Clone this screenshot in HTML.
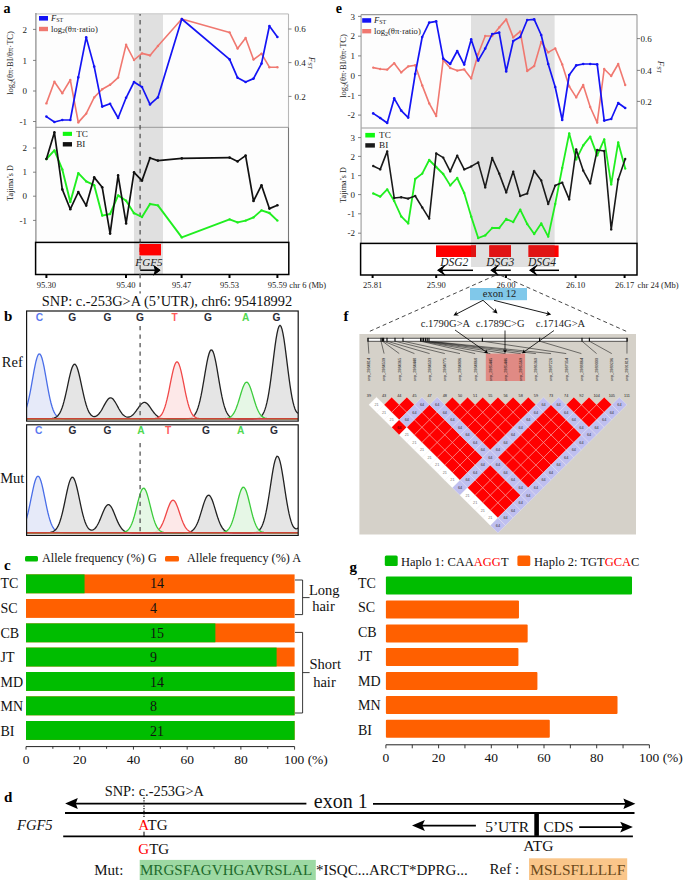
<!DOCTYPE html>
<html><head><meta charset="utf-8"><style>
html,body{margin:0;padding:0;background:#fff;width:685px;height:880px;overflow:hidden}
svg{display:block}
</style></head><body>
<svg width="685" height="880" viewBox="0 0 685 880">
<rect width="685" height="880" fill="#fff"/>
<text x="3.6" y="12.7" font-size="14" text-anchor="start" fill="#000" font-family='"Liberation Serif", serif' font-weight="bold" font-style="normal" >a</text>
<rect x="35.9" y="14" width="252.6" height="228.4" fill="#fdfdfd" stroke="none" stroke-width="1" />
<rect x="134" y="14" width="29" height="260.5" fill="#e0e0e0" stroke="none" stroke-width="1" />
<line x1="35.9" y1="13.8" x2="288.5" y2="13.8" stroke="#d6d6d6" stroke-width="1.8" />
<line x1="288.5" y1="14" x2="288.5" y2="127.3" stroke="#b8b8b8" stroke-width="1.1" />
<line x1="288.5" y1="127.3" x2="288.5" y2="242.4" stroke="#777" stroke-width="1.1" />
<line x1="35.9" y1="127.3" x2="288.5" y2="127.3" stroke="#999" stroke-width="1" />
<line x1="35.9" y1="13" x2="35.9" y2="242.4" stroke="#888" stroke-width="1.2" />
<line x1="140.1" y1="14" x2="140.1" y2="242.4" stroke="#555" stroke-width="1.3" stroke-dasharray="4.4,4.35" stroke-dashoffset="2.65"/>
<polyline points="46.4,103.4 54.4,81.8 62.3,93.2 70.3,80.0 78.3,122.4 86.2,113.6 94.2,97.4 102.2,89.2 110.1,84.8 118.1,77.6 126.1,44.8 134.0,60.0 142.0,53.4 150.0,55.4 157.9,46.0 181.8,19.0 229.6,32.4 237.6,48.6 245.6,38.0 253.5,59.6 261.5,53.6 269.4,67.2 277.4,67.2" fill="none" stroke="#f07870" stroke-width="1.6" stroke-linejoin="round" />
<circle cx="46.4" cy="103.4" r="1.2" fill="#f07870"/>
<circle cx="54.4" cy="81.8" r="1.2" fill="#f07870"/>
<circle cx="62.3" cy="93.2" r="1.2" fill="#f07870"/>
<circle cx="70.3" cy="80.0" r="1.2" fill="#f07870"/>
<circle cx="78.3" cy="122.4" r="1.2" fill="#f07870"/>
<circle cx="86.2" cy="113.6" r="1.2" fill="#f07870"/>
<circle cx="94.2" cy="97.4" r="1.2" fill="#f07870"/>
<circle cx="102.2" cy="89.2" r="1.2" fill="#f07870"/>
<circle cx="110.1" cy="84.8" r="1.2" fill="#f07870"/>
<circle cx="118.1" cy="77.6" r="1.2" fill="#f07870"/>
<circle cx="126.1" cy="44.8" r="1.2" fill="#f07870"/>
<circle cx="134.0" cy="60.0" r="1.2" fill="#f07870"/>
<circle cx="142.0" cy="53.4" r="1.2" fill="#f07870"/>
<circle cx="150.0" cy="55.4" r="1.2" fill="#f07870"/>
<circle cx="157.9" cy="46.0" r="1.2" fill="#f07870"/>
<circle cx="181.8" cy="19.0" r="1.2" fill="#f07870"/>
<circle cx="229.6" cy="32.4" r="1.2" fill="#f07870"/>
<circle cx="237.6" cy="48.6" r="1.2" fill="#f07870"/>
<circle cx="245.6" cy="38.0" r="1.2" fill="#f07870"/>
<circle cx="253.5" cy="59.6" r="1.2" fill="#f07870"/>
<circle cx="261.5" cy="53.6" r="1.2" fill="#f07870"/>
<circle cx="269.4" cy="67.2" r="1.2" fill="#f07870"/>
<circle cx="277.4" cy="67.2" r="1.2" fill="#f07870"/>
<polyline points="46.4,116.6 54.4,122.0 62.3,120.0 70.3,120.0 78.3,77.4 86.2,37.4 94.2,66.6 102.2,106.6 110.1,103.8 118.1,118.0 126.1,97.8 134.0,82.0 142.0,87.0 150.0,104.4 157.9,97.4 181.8,19.0 229.6,59.4 237.6,77.8 245.6,82.0 253.5,78.6 261.5,63.6 269.4,26.0 277.4,37.0" fill="none" stroke="#1414f5" stroke-width="1.7" stroke-linejoin="round" />
<circle cx="46.4" cy="116.6" r="1.3" fill="#1414f5"/>
<circle cx="54.4" cy="122.0" r="1.3" fill="#1414f5"/>
<circle cx="62.3" cy="120.0" r="1.3" fill="#1414f5"/>
<circle cx="70.3" cy="120.0" r="1.3" fill="#1414f5"/>
<circle cx="78.3" cy="77.4" r="1.3" fill="#1414f5"/>
<circle cx="86.2" cy="37.4" r="1.3" fill="#1414f5"/>
<circle cx="94.2" cy="66.6" r="1.3" fill="#1414f5"/>
<circle cx="102.2" cy="106.6" r="1.3" fill="#1414f5"/>
<circle cx="110.1" cy="103.8" r="1.3" fill="#1414f5"/>
<circle cx="118.1" cy="118.0" r="1.3" fill="#1414f5"/>
<circle cx="126.1" cy="97.8" r="1.3" fill="#1414f5"/>
<circle cx="134.0" cy="82.0" r="1.3" fill="#1414f5"/>
<circle cx="142.0" cy="87.0" r="1.3" fill="#1414f5"/>
<circle cx="150.0" cy="104.4" r="1.3" fill="#1414f5"/>
<circle cx="157.9" cy="97.4" r="1.3" fill="#1414f5"/>
<circle cx="181.8" cy="19.0" r="1.3" fill="#1414f5"/>
<circle cx="229.6" cy="59.4" r="1.3" fill="#1414f5"/>
<circle cx="237.6" cy="77.8" r="1.3" fill="#1414f5"/>
<circle cx="245.6" cy="82.0" r="1.3" fill="#1414f5"/>
<circle cx="253.5" cy="78.6" r="1.3" fill="#1414f5"/>
<circle cx="261.5" cy="63.6" r="1.3" fill="#1414f5"/>
<circle cx="269.4" cy="26.0" r="1.3" fill="#1414f5"/>
<circle cx="277.4" cy="37.0" r="1.3" fill="#1414f5"/>
<polyline points="46.4,159.0 54.4,150.4 62.3,169.4 70.3,202.0 78.3,173.2 86.2,181.4 94.2,185.2 102.2,215.6 110.1,214.0 118.1,195.4 126.1,200.8 134.0,213.2 142.0,217.0 150.0,204.0 157.9,205.4 181.8,237.4 229.6,219.4 237.6,222.4 245.6,220.6 253.5,217.4 261.5,210.4 269.4,213.0 277.4,220.6" fill="none" stroke="#20ee20" stroke-width="1.9" stroke-linejoin="round" />
<circle cx="46.4" cy="159.0" r="1.2" fill="#20ee20"/>
<circle cx="54.4" cy="150.4" r="1.2" fill="#20ee20"/>
<circle cx="62.3" cy="169.4" r="1.2" fill="#20ee20"/>
<circle cx="70.3" cy="202.0" r="1.2" fill="#20ee20"/>
<circle cx="78.3" cy="173.2" r="1.2" fill="#20ee20"/>
<circle cx="86.2" cy="181.4" r="1.2" fill="#20ee20"/>
<circle cx="94.2" cy="185.2" r="1.2" fill="#20ee20"/>
<circle cx="102.2" cy="215.6" r="1.2" fill="#20ee20"/>
<circle cx="110.1" cy="214.0" r="1.2" fill="#20ee20"/>
<circle cx="118.1" cy="195.4" r="1.2" fill="#20ee20"/>
<circle cx="126.1" cy="200.8" r="1.2" fill="#20ee20"/>
<circle cx="134.0" cy="213.2" r="1.2" fill="#20ee20"/>
<circle cx="142.0" cy="217.0" r="1.2" fill="#20ee20"/>
<circle cx="150.0" cy="204.0" r="1.2" fill="#20ee20"/>
<circle cx="157.9" cy="205.4" r="1.2" fill="#20ee20"/>
<circle cx="181.8" cy="237.4" r="1.2" fill="#20ee20"/>
<circle cx="229.6" cy="219.4" r="1.2" fill="#20ee20"/>
<circle cx="237.6" cy="222.4" r="1.2" fill="#20ee20"/>
<circle cx="245.6" cy="220.6" r="1.2" fill="#20ee20"/>
<circle cx="253.5" cy="217.4" r="1.2" fill="#20ee20"/>
<circle cx="261.5" cy="210.4" r="1.2" fill="#20ee20"/>
<circle cx="269.4" cy="213.0" r="1.2" fill="#20ee20"/>
<circle cx="277.4" cy="220.6" r="1.2" fill="#20ee20"/>
<polyline points="46.4,159.0 54.4,132.4 62.3,189.4 70.3,209.2 78.3,192.0 86.2,205.6 94.2,177.4 102.2,187.2 110.1,233.6 118.1,175.4 126.1,223.4 134.0,172.4 142.0,180.6 150.0,158.0 157.9,160.6 181.8,158.4 229.6,157.6 237.6,161.4 245.6,155.6 253.5,201.0 261.5,185.2 269.4,208.6 277.4,205.2" fill="none" stroke="#111" stroke-width="1.7" stroke-linejoin="round" />
<circle cx="46.4" cy="159.0" r="1.3" fill="#111"/>
<circle cx="54.4" cy="132.4" r="1.3" fill="#111"/>
<circle cx="62.3" cy="189.4" r="1.3" fill="#111"/>
<circle cx="70.3" cy="209.2" r="1.3" fill="#111"/>
<circle cx="78.3" cy="192.0" r="1.3" fill="#111"/>
<circle cx="86.2" cy="205.6" r="1.3" fill="#111"/>
<circle cx="94.2" cy="177.4" r="1.3" fill="#111"/>
<circle cx="102.2" cy="187.2" r="1.3" fill="#111"/>
<circle cx="110.1" cy="233.6" r="1.3" fill="#111"/>
<circle cx="118.1" cy="175.4" r="1.3" fill="#111"/>
<circle cx="126.1" cy="223.4" r="1.3" fill="#111"/>
<circle cx="134.0" cy="172.4" r="1.3" fill="#111"/>
<circle cx="142.0" cy="180.6" r="1.3" fill="#111"/>
<circle cx="150.0" cy="158.0" r="1.3" fill="#111"/>
<circle cx="157.9" cy="160.6" r="1.3" fill="#111"/>
<circle cx="181.8" cy="158.4" r="1.3" fill="#111"/>
<circle cx="229.6" cy="157.6" r="1.3" fill="#111"/>
<circle cx="237.6" cy="161.4" r="1.3" fill="#111"/>
<circle cx="245.6" cy="155.6" r="1.3" fill="#111"/>
<circle cx="253.5" cy="201.0" r="1.3" fill="#111"/>
<circle cx="261.5" cy="185.2" r="1.3" fill="#111"/>
<circle cx="269.4" cy="208.6" r="1.3" fill="#111"/>
<circle cx="277.4" cy="205.2" r="1.3" fill="#111"/>
<rect x="39" y="16" width="9" height="4.6" fill="#1414f5" stroke="none" stroke-width="1" />
<text x="51" y="20.8" font-size="8.6" font-family='"Liberation Serif", serif' fill="#222"><tspan font-style="italic">F</tspan><tspan font-size="6" dy="1">ST</tspan></text>
<rect x="39" y="26.8" width="9" height="4.4" fill="#f07870" stroke="none" stroke-width="1" />
<text x="51" y="31.8" font-size="8.6" font-family='"Liberation Serif", serif' fill="#222">log<tspan font-size="6" dy="1.5">2</tspan><tspan dy="-1.5">(θπ·ratio)</tspan></text>
<rect x="62.8" y="131.8" width="9.2" height="4.1" fill="#10f810" stroke="none" stroke-width="1" />
<text x="76.2" y="136.6" font-size="9.2" text-anchor="start" fill="#222" font-family='"Liberation Serif", serif' font-weight="normal" font-style="normal" >TC</text>
<rect x="62.8" y="142.1" width="9.2" height="4.4" fill="#111" stroke="none" stroke-width="1" />
<text x="76.2" y="146.7" font-size="9.2" text-anchor="start" fill="#222" font-family='"Liberation Serif", serif' font-weight="normal" font-style="normal" >BI</text>
<line x1="33" y1="29.4" x2="35.9" y2="29.4" stroke="#666" stroke-width="0.8" />
<text x="27" y="32.5" font-size="9" text-anchor="end" fill="#222" font-family='"Liberation Serif", serif' font-weight="normal" font-style="normal" >2</text>
<line x1="33" y1="60.4" x2="35.9" y2="60.4" stroke="#666" stroke-width="0.8" />
<text x="27" y="63.5" font-size="9" text-anchor="end" fill="#222" font-family='"Liberation Serif", serif' font-weight="normal" font-style="normal" >1</text>
<line x1="33" y1="91" x2="35.9" y2="91" stroke="#666" stroke-width="0.8" />
<text x="27" y="94.1" font-size="9" text-anchor="end" fill="#222" font-family='"Liberation Serif", serif' font-weight="normal" font-style="normal" >0</text>
<line x1="33" y1="121.5" x2="35.9" y2="121.5" stroke="#666" stroke-width="0.8" />
<text x="27" y="124.6" font-size="9" text-anchor="end" fill="#222" font-family='"Liberation Serif", serif' font-weight="normal" font-style="normal" >-1</text>
<line x1="33" y1="148" x2="35.9" y2="148" stroke="#666" stroke-width="0.8" />
<text x="27" y="151.1" font-size="9" text-anchor="end" fill="#222" font-family='"Liberation Serif", serif' font-weight="normal" font-style="normal" >2</text>
<line x1="33" y1="172.2" x2="35.9" y2="172.2" stroke="#666" stroke-width="0.8" />
<text x="27" y="175.29999999999998" font-size="9" text-anchor="end" fill="#222" font-family='"Liberation Serif", serif' font-weight="normal" font-style="normal" >1</text>
<line x1="33" y1="196.2" x2="35.9" y2="196.2" stroke="#666" stroke-width="0.8" />
<text x="27" y="199.29999999999998" font-size="9" text-anchor="end" fill="#222" font-family='"Liberation Serif", serif' font-weight="normal" font-style="normal" >0</text>
<line x1="33" y1="220.4" x2="35.9" y2="220.4" stroke="#666" stroke-width="0.8" />
<text x="27" y="223.5" font-size="9" text-anchor="end" fill="#222" font-family='"Liberation Serif", serif' font-weight="normal" font-style="normal" >-1</text>
<line x1="288.5" y1="29" x2="291.5" y2="29" stroke="#666" stroke-width="0.8" />
<text x="294.4" y="32.1" font-size="9" text-anchor="start" fill="#222" font-family='"Liberation Serif", serif' font-weight="normal" font-style="normal" >0.6</text>
<line x1="288.5" y1="62.6" x2="291.5" y2="62.6" stroke="#666" stroke-width="0.8" />
<text x="294.4" y="65.7" font-size="9" text-anchor="start" fill="#222" font-family='"Liberation Serif", serif' font-weight="normal" font-style="normal" >0.4</text>
<line x1="288.5" y1="96.4" x2="291.5" y2="96.4" stroke="#666" stroke-width="0.8" />
<text x="294.4" y="99.5" font-size="9" text-anchor="start" fill="#222" font-family='"Liberation Serif", serif' font-weight="normal" font-style="normal" >0.2</text>
<text transform="translate(13.2,63) rotate(-90)" font-size="8.5" text-anchor="middle" font-family='"Liberation Serif", serif' fill="#222">log<tspan font-size="6" dy="1.5">2</tspan><tspan dy="-1.5">(θπ·BI/θπ·TC)</tspan></text>
<text transform="translate(13.2,183) rotate(-90)" font-size="8.1" text-anchor="middle" font-family='"Liberation Serif", serif' fill="#222">Tajima’s D</text>
<text transform="translate(308.5,63) rotate(90)" font-size="9" text-anchor="middle" font-family='"Liberation Serif", serif' fill="#222"><tspan font-style="italic">F</tspan><tspan font-size="6" dy="1">ST</tspan></text>
<rect x="134" y="242.4" width="29" height="32.099999999999994" fill="#e0e0e0" stroke="none" stroke-width="1" />
<rect x="35.6" y="242.4" width="253.2" height="32.099999999999994" fill="none" stroke="#000" stroke-width="1.5" />
<line x1="140.1" y1="242.4" x2="140.1" y2="293.5" stroke="#555" stroke-width="1.3" stroke-dasharray="4.4,4.35" stroke-dashoffset="3.55"/>
<rect x="139.4" y="244" width="21.6" height="11.4" fill="#ff0000" stroke="none" stroke-width="1" />
<text x="149" y="265.6" font-size="11.2" text-anchor="middle" fill="#222" font-family='"Liberation Serif", serif' font-weight="normal" font-style="italic" >FGF5</text>
<line x1="140.2" y1="270.2" x2="155.44" y2="270.2" stroke="#000" stroke-width="1.5" />
<polygon points="160.6,270.2 153.4,275.5 154.8,270.2 153.4,264.9" fill="#000"/>
<polyline points="153.4,275.0 160.0,270.2 153.4,265.4" fill="none" stroke="#000" stroke-width="1.0" stroke-linejoin="miter"/>
<rect x="45.4" y="275" width="2" height="3" fill="#000" stroke="none" stroke-width="1" />
<text x="46.4" y="288" font-size="8.5" text-anchor="middle" fill="#222" font-family='"Liberation Serif", serif' font-weight="normal" font-style="normal" >95.30</text>
<rect x="125" y="275" width="2" height="3" fill="#000" stroke="none" stroke-width="1" />
<text x="126" y="288" font-size="8.5" text-anchor="middle" fill="#222" font-family='"Liberation Serif", serif' font-weight="normal" font-style="normal" >95.40</text>
<rect x="180.6" y="275" width="2" height="3" fill="#000" stroke="none" stroke-width="1" />
<text x="181.6" y="288" font-size="8.5" text-anchor="middle" fill="#222" font-family='"Liberation Serif", serif' font-weight="normal" font-style="normal" >95.47</text>
<rect x="228.5" y="275" width="2" height="3" fill="#000" stroke="none" stroke-width="1" />
<text x="229.5" y="288" font-size="8.5" text-anchor="middle" fill="#222" font-family='"Liberation Serif", serif' font-weight="normal" font-style="normal" >95.53</text>
<rect x="276.4" y="275" width="2" height="3" fill="#000" stroke="none" stroke-width="1" />
<text x="277.4" y="288" font-size="8.5" text-anchor="middle" fill="#222" font-family='"Liberation Serif", serif' font-weight="normal" font-style="normal" >95.59</text>
<text x="289.3" y="288" font-size="8.5" text-anchor="start" fill="#222" font-family='"Liberation Serif", serif' font-weight="normal" font-style="normal" >chr 6 (Mb)</text>
<text x="335.8" y="13" font-size="14" text-anchor="start" fill="#000" font-family='"Liberation Serif", serif' font-weight="bold" font-style="normal" >e</text>
<rect x="361" y="14.6" width="276" height="228.8" fill="#fdfdfd" stroke="none" stroke-width="1" />
<rect x="471" y="14.6" width="83.6" height="252.4" fill="#e0e0e0" stroke="none" stroke-width="1" />
<line x1="361" y1="14.6" x2="637" y2="14.6" stroke="#999" stroke-width="1.1" />
<line x1="637" y1="14.6" x2="637" y2="243.4" stroke="#999" stroke-width="1.1" />
<line x1="361" y1="128" x2="637" y2="128" stroke="#999" stroke-width="1.1" />
<line x1="361.1" y1="14.6" x2="361.1" y2="243.4" stroke="#aaa" stroke-width="1.3" />
<polyline points="373.2,67.6 380.2,69.0 387.2,69.6 394.2,63.2 401.2,72.4 408.2,66.4 415.2,65.2 422.2,85.4 429.2,103.4 436.2,116.0 443.2,60.0 450.2,68.0 457.2,70.6 464.2,69.4 471.2,78.4 478.2,54.0 485.2,36.0 492.2,36.0 499.2,27.4 506.2,19.4 513.2,37.4 520.2,31.4 527.2,71.0 534.2,66.0 541.2,42.0 548.2,52.4 555.2,48.4 562.2,64.4 569.2,86.4 576.2,97.4 583.2,85.0 590.2,107.0 597.2,122.6 604.2,69.0 611.2,76.0 618.2,64.0 625.2,85.0" fill="none" stroke="#f07870" stroke-width="1.6" stroke-linejoin="round" />
<circle cx="373.2" cy="67.6" r="1.2" fill="#f07870"/>
<circle cx="380.2" cy="69.0" r="1.2" fill="#f07870"/>
<circle cx="387.2" cy="69.6" r="1.2" fill="#f07870"/>
<circle cx="394.2" cy="63.2" r="1.2" fill="#f07870"/>
<circle cx="401.2" cy="72.4" r="1.2" fill="#f07870"/>
<circle cx="408.2" cy="66.4" r="1.2" fill="#f07870"/>
<circle cx="415.2" cy="65.2" r="1.2" fill="#f07870"/>
<circle cx="422.2" cy="85.4" r="1.2" fill="#f07870"/>
<circle cx="429.2" cy="103.4" r="1.2" fill="#f07870"/>
<circle cx="436.2" cy="116.0" r="1.2" fill="#f07870"/>
<circle cx="443.2" cy="60.0" r="1.2" fill="#f07870"/>
<circle cx="450.2" cy="68.0" r="1.2" fill="#f07870"/>
<circle cx="457.2" cy="70.6" r="1.2" fill="#f07870"/>
<circle cx="464.2" cy="69.4" r="1.2" fill="#f07870"/>
<circle cx="471.2" cy="78.4" r="1.2" fill="#f07870"/>
<circle cx="478.2" cy="54.0" r="1.2" fill="#f07870"/>
<circle cx="485.2" cy="36.0" r="1.2" fill="#f07870"/>
<circle cx="492.2" cy="36.0" r="1.2" fill="#f07870"/>
<circle cx="499.2" cy="27.4" r="1.2" fill="#f07870"/>
<circle cx="506.2" cy="19.4" r="1.2" fill="#f07870"/>
<circle cx="513.2" cy="37.4" r="1.2" fill="#f07870"/>
<circle cx="520.2" cy="31.4" r="1.2" fill="#f07870"/>
<circle cx="527.2" cy="71.0" r="1.2" fill="#f07870"/>
<circle cx="534.2" cy="66.0" r="1.2" fill="#f07870"/>
<circle cx="541.2" cy="42.0" r="1.2" fill="#f07870"/>
<circle cx="548.2" cy="52.4" r="1.2" fill="#f07870"/>
<circle cx="555.2" cy="48.4" r="1.2" fill="#f07870"/>
<circle cx="562.2" cy="64.4" r="1.2" fill="#f07870"/>
<circle cx="569.2" cy="86.4" r="1.2" fill="#f07870"/>
<circle cx="576.2" cy="97.4" r="1.2" fill="#f07870"/>
<circle cx="583.2" cy="85.0" r="1.2" fill="#f07870"/>
<circle cx="590.2" cy="107.0" r="1.2" fill="#f07870"/>
<circle cx="597.2" cy="122.6" r="1.2" fill="#f07870"/>
<circle cx="604.2" cy="69.0" r="1.2" fill="#f07870"/>
<circle cx="611.2" cy="76.0" r="1.2" fill="#f07870"/>
<circle cx="618.2" cy="64.0" r="1.2" fill="#f07870"/>
<circle cx="625.2" cy="85.0" r="1.2" fill="#f07870"/>
<polyline points="373.2,113.4 380.2,118.0 387.2,123.0 394.2,98.4 401.2,110.6 408.2,117.6 415.2,74.0 422.2,37.0 429.2,22.6 436.2,21.4 443.2,58.6 450.2,64.0 457.2,51.0 464.2,64.6 471.2,39.4 478.2,60.6 485.2,48.6 492.2,34.0 499.2,32.6 506.2,71.4 513.2,41.0 520.2,37.0 527.2,20.0 534.2,19.4 541.2,35.0 548.2,64.0 555.2,87.0 562.2,120.0 569.2,75.0 576.2,65.4 583.2,64.0 590.2,64.0 597.2,64.4 604.2,120.6 611.2,119.0 618.2,103.0 625.2,108.0" fill="none" stroke="#1414f5" stroke-width="1.7" stroke-linejoin="round" />
<circle cx="373.2" cy="113.4" r="1.3" fill="#1414f5"/>
<circle cx="380.2" cy="118.0" r="1.3" fill="#1414f5"/>
<circle cx="387.2" cy="123.0" r="1.3" fill="#1414f5"/>
<circle cx="394.2" cy="98.4" r="1.3" fill="#1414f5"/>
<circle cx="401.2" cy="110.6" r="1.3" fill="#1414f5"/>
<circle cx="408.2" cy="117.6" r="1.3" fill="#1414f5"/>
<circle cx="415.2" cy="74.0" r="1.3" fill="#1414f5"/>
<circle cx="422.2" cy="37.0" r="1.3" fill="#1414f5"/>
<circle cx="429.2" cy="22.6" r="1.3" fill="#1414f5"/>
<circle cx="436.2" cy="21.4" r="1.3" fill="#1414f5"/>
<circle cx="443.2" cy="58.6" r="1.3" fill="#1414f5"/>
<circle cx="450.2" cy="64.0" r="1.3" fill="#1414f5"/>
<circle cx="457.2" cy="51.0" r="1.3" fill="#1414f5"/>
<circle cx="464.2" cy="64.6" r="1.3" fill="#1414f5"/>
<circle cx="471.2" cy="39.4" r="1.3" fill="#1414f5"/>
<circle cx="478.2" cy="60.6" r="1.3" fill="#1414f5"/>
<circle cx="485.2" cy="48.6" r="1.3" fill="#1414f5"/>
<circle cx="492.2" cy="34.0" r="1.3" fill="#1414f5"/>
<circle cx="499.2" cy="32.6" r="1.3" fill="#1414f5"/>
<circle cx="506.2" cy="71.4" r="1.3" fill="#1414f5"/>
<circle cx="513.2" cy="41.0" r="1.3" fill="#1414f5"/>
<circle cx="520.2" cy="37.0" r="1.3" fill="#1414f5"/>
<circle cx="527.2" cy="20.0" r="1.3" fill="#1414f5"/>
<circle cx="534.2" cy="19.4" r="1.3" fill="#1414f5"/>
<circle cx="541.2" cy="35.0" r="1.3" fill="#1414f5"/>
<circle cx="548.2" cy="64.0" r="1.3" fill="#1414f5"/>
<circle cx="555.2" cy="87.0" r="1.3" fill="#1414f5"/>
<circle cx="562.2" cy="120.0" r="1.3" fill="#1414f5"/>
<circle cx="569.2" cy="75.0" r="1.3" fill="#1414f5"/>
<circle cx="576.2" cy="65.4" r="1.3" fill="#1414f5"/>
<circle cx="583.2" cy="64.0" r="1.3" fill="#1414f5"/>
<circle cx="590.2" cy="64.0" r="1.3" fill="#1414f5"/>
<circle cx="597.2" cy="64.4" r="1.3" fill="#1414f5"/>
<circle cx="604.2" cy="120.6" r="1.3" fill="#1414f5"/>
<circle cx="611.2" cy="119.0" r="1.3" fill="#1414f5"/>
<circle cx="618.2" cy="103.0" r="1.3" fill="#1414f5"/>
<circle cx="625.2" cy="108.0" r="1.3" fill="#1414f5"/>
<polyline points="373.2,193.4 380.2,196.6 387.2,189.4 394.2,201.0 401.2,216.4 408.2,223.4 415.2,179.0 422.2,173.6 429.2,160.0 436.2,167.0 443.2,174.0 450.2,185.4 457.2,178.0 464.2,193.0 471.2,216.6 478.2,238.0 485.2,235.4 492.2,228.0 499.2,228.0 506.2,219.0 513.2,222.0 520.2,209.6 527.2,224.0 534.2,234.0 541.2,223.4 548.2,236.6 555.2,204.0 562.2,168.0 569.2,133.4 576.2,159.4 583.2,145.4 590.2,136.6 597.2,155.4 604.2,139.4 611.2,184.4 618.2,142.4 625.2,168.6" fill="none" stroke="#20ee20" stroke-width="1.8" stroke-linejoin="round" />
<circle cx="373.2" cy="193.4" r="1.2" fill="#20ee20"/>
<circle cx="380.2" cy="196.6" r="1.2" fill="#20ee20"/>
<circle cx="387.2" cy="189.4" r="1.2" fill="#20ee20"/>
<circle cx="394.2" cy="201.0" r="1.2" fill="#20ee20"/>
<circle cx="401.2" cy="216.4" r="1.2" fill="#20ee20"/>
<circle cx="408.2" cy="223.4" r="1.2" fill="#20ee20"/>
<circle cx="415.2" cy="179.0" r="1.2" fill="#20ee20"/>
<circle cx="422.2" cy="173.6" r="1.2" fill="#20ee20"/>
<circle cx="429.2" cy="160.0" r="1.2" fill="#20ee20"/>
<circle cx="436.2" cy="167.0" r="1.2" fill="#20ee20"/>
<circle cx="443.2" cy="174.0" r="1.2" fill="#20ee20"/>
<circle cx="450.2" cy="185.4" r="1.2" fill="#20ee20"/>
<circle cx="457.2" cy="178.0" r="1.2" fill="#20ee20"/>
<circle cx="464.2" cy="193.0" r="1.2" fill="#20ee20"/>
<circle cx="471.2" cy="216.6" r="1.2" fill="#20ee20"/>
<circle cx="478.2" cy="238.0" r="1.2" fill="#20ee20"/>
<circle cx="485.2" cy="235.4" r="1.2" fill="#20ee20"/>
<circle cx="492.2" cy="228.0" r="1.2" fill="#20ee20"/>
<circle cx="499.2" cy="228.0" r="1.2" fill="#20ee20"/>
<circle cx="506.2" cy="219.0" r="1.2" fill="#20ee20"/>
<circle cx="513.2" cy="222.0" r="1.2" fill="#20ee20"/>
<circle cx="520.2" cy="209.6" r="1.2" fill="#20ee20"/>
<circle cx="527.2" cy="224.0" r="1.2" fill="#20ee20"/>
<circle cx="534.2" cy="234.0" r="1.2" fill="#20ee20"/>
<circle cx="541.2" cy="223.4" r="1.2" fill="#20ee20"/>
<circle cx="548.2" cy="236.6" r="1.2" fill="#20ee20"/>
<circle cx="555.2" cy="204.0" r="1.2" fill="#20ee20"/>
<circle cx="562.2" cy="168.0" r="1.2" fill="#20ee20"/>
<circle cx="569.2" cy="133.4" r="1.2" fill="#20ee20"/>
<circle cx="576.2" cy="159.4" r="1.2" fill="#20ee20"/>
<circle cx="583.2" cy="145.4" r="1.2" fill="#20ee20"/>
<circle cx="590.2" cy="136.6" r="1.2" fill="#20ee20"/>
<circle cx="597.2" cy="155.4" r="1.2" fill="#20ee20"/>
<circle cx="604.2" cy="139.4" r="1.2" fill="#20ee20"/>
<circle cx="611.2" cy="184.4" r="1.2" fill="#20ee20"/>
<circle cx="618.2" cy="142.4" r="1.2" fill="#20ee20"/>
<circle cx="625.2" cy="168.6" r="1.2" fill="#20ee20"/>
<polyline points="373.2,166.0 380.2,169.4 387.2,151.4 394.2,198.0 401.2,197.2 408.2,198.6 415.2,196.0 422.2,207.4 429.2,218.6 436.2,153.4 443.2,157.6 450.2,171.4 457.2,155.6 464.2,169.4 471.2,166.4 478.2,162.4 485.2,187.4 492.2,158.0 499.2,173.6 506.2,192.4 513.2,171.6 520.2,196.0 527.2,193.6 534.2,171.0 541.2,180.4 548.2,204.0 555.2,185.6 562.2,182.6 569.2,199.4 576.2,149.4 583.2,170.6 590.2,183.4 597.2,150.0 604.2,151.0 611.2,229.4 618.2,179.4 625.2,159.0" fill="none" stroke="#1a1a1a" stroke-width="1.6" stroke-linejoin="round" />
<circle cx="373.2" cy="166.0" r="1.2" fill="#1a1a1a"/>
<circle cx="380.2" cy="169.4" r="1.2" fill="#1a1a1a"/>
<circle cx="387.2" cy="151.4" r="1.2" fill="#1a1a1a"/>
<circle cx="394.2" cy="198.0" r="1.2" fill="#1a1a1a"/>
<circle cx="401.2" cy="197.2" r="1.2" fill="#1a1a1a"/>
<circle cx="408.2" cy="198.6" r="1.2" fill="#1a1a1a"/>
<circle cx="415.2" cy="196.0" r="1.2" fill="#1a1a1a"/>
<circle cx="422.2" cy="207.4" r="1.2" fill="#1a1a1a"/>
<circle cx="429.2" cy="218.6" r="1.2" fill="#1a1a1a"/>
<circle cx="436.2" cy="153.4" r="1.2" fill="#1a1a1a"/>
<circle cx="443.2" cy="157.6" r="1.2" fill="#1a1a1a"/>
<circle cx="450.2" cy="171.4" r="1.2" fill="#1a1a1a"/>
<circle cx="457.2" cy="155.6" r="1.2" fill="#1a1a1a"/>
<circle cx="464.2" cy="169.4" r="1.2" fill="#1a1a1a"/>
<circle cx="471.2" cy="166.4" r="1.2" fill="#1a1a1a"/>
<circle cx="478.2" cy="162.4" r="1.2" fill="#1a1a1a"/>
<circle cx="485.2" cy="187.4" r="1.2" fill="#1a1a1a"/>
<circle cx="492.2" cy="158.0" r="1.2" fill="#1a1a1a"/>
<circle cx="499.2" cy="173.6" r="1.2" fill="#1a1a1a"/>
<circle cx="506.2" cy="192.4" r="1.2" fill="#1a1a1a"/>
<circle cx="513.2" cy="171.6" r="1.2" fill="#1a1a1a"/>
<circle cx="520.2" cy="196.0" r="1.2" fill="#1a1a1a"/>
<circle cx="527.2" cy="193.6" r="1.2" fill="#1a1a1a"/>
<circle cx="534.2" cy="171.0" r="1.2" fill="#1a1a1a"/>
<circle cx="541.2" cy="180.4" r="1.2" fill="#1a1a1a"/>
<circle cx="548.2" cy="204.0" r="1.2" fill="#1a1a1a"/>
<circle cx="555.2" cy="185.6" r="1.2" fill="#1a1a1a"/>
<circle cx="562.2" cy="182.6" r="1.2" fill="#1a1a1a"/>
<circle cx="569.2" cy="199.4" r="1.2" fill="#1a1a1a"/>
<circle cx="576.2" cy="149.4" r="1.2" fill="#1a1a1a"/>
<circle cx="583.2" cy="170.6" r="1.2" fill="#1a1a1a"/>
<circle cx="590.2" cy="183.4" r="1.2" fill="#1a1a1a"/>
<circle cx="597.2" cy="150.0" r="1.2" fill="#1a1a1a"/>
<circle cx="604.2" cy="151.0" r="1.2" fill="#1a1a1a"/>
<circle cx="611.2" cy="229.4" r="1.2" fill="#1a1a1a"/>
<circle cx="618.2" cy="179.4" r="1.2" fill="#1a1a1a"/>
<circle cx="625.2" cy="159.0" r="1.2" fill="#1a1a1a"/>
<rect x="362.2" y="18.2" width="9" height="4.5" fill="#1414f5" stroke="none" stroke-width="1" />
<text x="374" y="22.8" font-size="8.6" font-family='"Liberation Serif", serif' fill="#222"><tspan font-style="italic">F</tspan><tspan font-size="6" dy="1">ST</tspan></text>
<rect x="362.2" y="29" width="9" height="4.4" fill="#f07870" stroke="none" stroke-width="1" />
<text x="374" y="34" font-size="8.6" font-family='"Liberation Serif", serif' fill="#222">log<tspan font-size="6" dy="1.5">2</tspan><tspan dy="-1.5">(θπ·ratio)</tspan></text>
<rect x="365.3" y="132.9" width="9.6" height="4.6" fill="#10f810" stroke="none" stroke-width="1" />
<text x="379.1" y="137.7" font-size="9.2" text-anchor="start" fill="#222" font-family='"Liberation Serif", serif' font-weight="normal" font-style="normal" >TC</text>
<rect x="365.3" y="143.2" width="9.6" height="4.4" fill="#1a1a1a" stroke="none" stroke-width="1" />
<text x="379.1" y="147.9" font-size="9.2" text-anchor="start" fill="#222" font-family='"Liberation Serif", serif' font-weight="normal" font-style="normal" >BI</text>
<line x1="358" y1="16.4" x2="361" y2="16.4" stroke="#666" stroke-width="0.8" />
<text x="355" y="19.5" font-size="9" text-anchor="end" fill="#222" font-family='"Liberation Serif", serif' font-weight="normal" font-style="normal" >3</text>
<line x1="358" y1="36.2" x2="361" y2="36.2" stroke="#666" stroke-width="0.8" />
<text x="355" y="39.300000000000004" font-size="9" text-anchor="end" fill="#222" font-family='"Liberation Serif", serif' font-weight="normal" font-style="normal" >2</text>
<line x1="358" y1="55.9" x2="361" y2="55.9" stroke="#666" stroke-width="0.8" />
<text x="355" y="59.0" font-size="9" text-anchor="end" fill="#222" font-family='"Liberation Serif", serif' font-weight="normal" font-style="normal" >1</text>
<line x1="358" y1="75.6" x2="361" y2="75.6" stroke="#666" stroke-width="0.8" />
<text x="355" y="78.69999999999999" font-size="9" text-anchor="end" fill="#222" font-family='"Liberation Serif", serif' font-weight="normal" font-style="normal" >0</text>
<line x1="358" y1="95.4" x2="361" y2="95.4" stroke="#666" stroke-width="0.8" />
<text x="355" y="98.5" font-size="9" text-anchor="end" fill="#222" font-family='"Liberation Serif", serif' font-weight="normal" font-style="normal" >-1</text>
<line x1="358" y1="115.1" x2="361" y2="115.1" stroke="#666" stroke-width="0.8" />
<text x="355" y="118.19999999999999" font-size="9" text-anchor="end" fill="#222" font-family='"Liberation Serif", serif' font-weight="normal" font-style="normal" >-2</text>
<line x1="358" y1="137.6" x2="361" y2="137.6" stroke="#666" stroke-width="0.8" />
<text x="355" y="140.7" font-size="9" text-anchor="end" fill="#222" font-family='"Liberation Serif", serif' font-weight="normal" font-style="normal" >3</text>
<line x1="358" y1="156.4" x2="361" y2="156.4" stroke="#666" stroke-width="0.8" />
<text x="355" y="159.5" font-size="9" text-anchor="end" fill="#222" font-family='"Liberation Serif", serif' font-weight="normal" font-style="normal" >2</text>
<line x1="358" y1="175.6" x2="361" y2="175.6" stroke="#666" stroke-width="0.8" />
<text x="355" y="178.7" font-size="9" text-anchor="end" fill="#222" font-family='"Liberation Serif", serif' font-weight="normal" font-style="normal" >1</text>
<line x1="358" y1="194.6" x2="361" y2="194.6" stroke="#666" stroke-width="0.8" />
<text x="355" y="197.7" font-size="9" text-anchor="end" fill="#222" font-family='"Liberation Serif", serif' font-weight="normal" font-style="normal" >0</text>
<line x1="358" y1="213.8" x2="361" y2="213.8" stroke="#666" stroke-width="0.8" />
<text x="355" y="216.9" font-size="9" text-anchor="end" fill="#222" font-family='"Liberation Serif", serif' font-weight="normal" font-style="normal" >-1</text>
<line x1="358" y1="233.2" x2="361" y2="233.2" stroke="#666" stroke-width="0.8" />
<text x="355" y="236.29999999999998" font-size="9" text-anchor="end" fill="#222" font-family='"Liberation Serif", serif' font-weight="normal" font-style="normal" >-2</text>
<line x1="637" y1="38.6" x2="640" y2="38.6" stroke="#666" stroke-width="0.8" />
<text x="640.6" y="41.7" font-size="9" text-anchor="start" fill="#222" font-family='"Liberation Serif", serif' font-weight="normal" font-style="normal" >0.6</text>
<line x1="637" y1="70.4" x2="640" y2="70.4" stroke="#666" stroke-width="0.8" />
<text x="640.6" y="73.5" font-size="9" text-anchor="start" fill="#222" font-family='"Liberation Serif", serif' font-weight="normal" font-style="normal" >0.4</text>
<line x1="637" y1="101.4" x2="640" y2="101.4" stroke="#666" stroke-width="0.8" />
<text x="640.6" y="104.5" font-size="9" text-anchor="start" fill="#222" font-family='"Liberation Serif", serif' font-weight="normal" font-style="normal" >0.2</text>
<text transform="translate(346,66) rotate(-90)" font-size="8.5" text-anchor="middle" font-family='"Liberation Serif", serif' fill="#222">log<tspan font-size="6" dy="1.5">2</tspan><tspan dy="-1.5">(θπ·BI/θπ·TC)</tspan></text>
<text transform="translate(346,185) rotate(-90)" font-size="8.1" text-anchor="middle" font-family='"Liberation Serif", serif' fill="#222">Tajima’s D</text>
<text transform="translate(658,67) rotate(90)" font-size="9" text-anchor="middle" font-family='"Liberation Serif", serif' fill="#222"><tspan font-style="italic">F</tspan><tspan font-size="6" dy="1">ST</tspan></text>
<rect x="471" y="243.4" width="83.6" height="23.599999999999994" fill="#e0e0e0" stroke="none" stroke-width="1" />
<rect x="360.6" y="243.4" width="276.4" height="31.599999999999994" fill="none" stroke="#000" stroke-width="1.5" />
<rect x="436" y="245.4" width="40" height="11.6" fill="#ff0000" stroke="none" stroke-width="1" />
<rect x="489.4" y="245.4" width="21.600000000000023" height="11.6" fill="#ff0000" stroke="none" stroke-width="1" />
<rect x="528.6" y="245.4" width="30.0" height="11.6" fill="#ff0000" stroke="none" stroke-width="1" />
<rect x="471" y="245.4" width="5" height="11.6" fill="#e01414" stroke="none" stroke-width="1" />
<rect x="489.4" y="245.4" width="21.6" height="11.6" fill="#e01414" stroke="none" stroke-width="1" />
<rect x="528.6" y="245.4" width="26" height="11.6" fill="#e01414" stroke="none" stroke-width="1" />
<text x="454.2" y="265.6" font-size="11.5" text-anchor="middle" fill="#222" font-family='"Liberation Serif", serif' font-weight="normal" font-style="italic" >DSG2</text>
<text x="500.2" y="265.6" font-size="11.5" text-anchor="middle" fill="#222" font-family='"Liberation Serif", serif' font-weight="normal" font-style="italic" >DSG3</text>
<text x="542" y="265.6" font-size="11.5" text-anchor="middle" fill="#222" font-family='"Liberation Serif", serif' font-weight="normal" font-style="italic" >DSG4</text>
<line x1="473" y1="270.3" x2="441.46000000000004" y2="270.3" stroke="#000" stroke-width="1.5" />
<polygon points="437.5,270.3 445.1,265.0 442.1,270.3 445.1,275.6" fill="#000"/>
<polyline points="445.1,265.5 438.1,270.3 445.1,275.1" fill="none" stroke="#000" stroke-width="1.2" stroke-linejoin="miter"/>
<line x1="510.8" y1="270.3" x2="494.66" y2="270.3" stroke="#000" stroke-width="1.5" />
<polygon points="490.7,270.3 498.3,265.0 495.3,270.3 498.3,275.6" fill="#000"/>
<polyline points="498.3,265.5 491.3,270.3 498.3,275.1" fill="none" stroke="#000" stroke-width="1.2" stroke-linejoin="miter"/>
<line x1="559" y1="270.3" x2="533.46" y2="270.3" stroke="#000" stroke-width="1.5" />
<polygon points="529.5,270.3 537.1,265.0 534.1,270.3 537.1,275.6" fill="#000"/>
<polyline points="537.1,265.5 530.1,270.3 537.1,275.1" fill="none" stroke="#000" stroke-width="1.2" stroke-linejoin="miter"/>
<rect x="371.6" y="275" width="2" height="3" fill="#000" stroke="none" stroke-width="1" />
<text x="372.6" y="288" font-size="8.5" text-anchor="middle" fill="#222" font-family='"Liberation Serif", serif' font-weight="normal" font-style="normal" >25.81</text>
<rect x="435.2" y="275" width="2" height="3" fill="#000" stroke="none" stroke-width="1" />
<text x="436.2" y="288" font-size="8.5" text-anchor="middle" fill="#222" font-family='"Liberation Serif", serif' font-weight="normal" font-style="normal" >25.90</text>
<rect x="505" y="275" width="2" height="3" fill="#000" stroke="none" stroke-width="1" />
<text x="506" y="288" font-size="8.5" text-anchor="middle" fill="#222" font-family='"Liberation Serif", serif' font-weight="normal" font-style="normal" >26.00</text>
<rect x="574.6" y="275" width="2" height="3" fill="#000" stroke="none" stroke-width="1" />
<text x="575.6" y="288" font-size="8.5" text-anchor="middle" fill="#222" font-family='"Liberation Serif", serif' font-weight="normal" font-style="normal" >26.10</text>
<rect x="623.6" y="275" width="2" height="3" fill="#000" stroke="none" stroke-width="1" />
<text x="624.6" y="288" font-size="8.5" text-anchor="middle" fill="#222" font-family='"Liberation Serif", serif' font-weight="normal" font-style="normal" >26.17</text>
<text x="637.5" y="288" font-size="8.5" text-anchor="start" fill="#222" font-family='"Liberation Serif", serif' font-weight="normal" font-style="normal" >chr 24 (Mb)</text>
<line x1="495" y1="275.5" x2="368.2" y2="332" stroke="#333" stroke-width="0.9" stroke-dasharray="4,3"/>
<line x1="501" y1="275.5" x2="627.8" y2="332" stroke="#333" stroke-width="0.9" stroke-dasharray="4,3"/>
<rect x="470" y="288" width="57" height="12.2" fill="#80c8ea" stroke="none" stroke-width="1" />
<text x="499.5" y="297.0" font-size="10.5" text-anchor="middle" fill="#222" font-family='"Liberation Serif", serif' font-weight="normal" font-style="normal" >exon 12</text>
<text x="343.5" y="321" font-size="15" text-anchor="start" fill="#000" font-family='"Liberation Serif", serif' font-weight="bold" font-style="normal" >f</text>
<text x="445.5" y="327" font-size="10.5" text-anchor="middle" fill="#222" font-family='"Liberation Serif", serif' font-weight="normal" font-style="normal" >c.1790G&gt;A</text>
<text x="500.2" y="327" font-size="10.5" text-anchor="middle" fill="#222" font-family='"Liberation Serif", serif' font-weight="normal" font-style="normal" >c.1789C&gt;G</text>
<text x="560.5" y="327" font-size="10.5" text-anchor="middle" fill="#222" font-family='"Liberation Serif", serif' font-weight="normal" font-style="normal" >c.1714G&gt;A</text>
<line x1="483" y1="300.3" x2="455.9761984703984" y2="314.2683838987468" stroke="#000" stroke-width="0.9" />
<polygon points="453.4,315.6 456.6,311.0 456.5,314.0 459.0,315.6" fill="#000"/>
<line x1="483" y1="300.3" x2="495.3481404791007" y2="311.45590622594614" stroke="#000" stroke-width="0.9" />
<polygon points="497.5,313.4 492.0,312.0 494.9,311.1 495.5,308.1" fill="#000"/>
<line x1="494" y1="300.3" x2="548.3865867495786" y2="313.8966466873947" stroke="#000" stroke-width="0.9" />
<polygon points="551.2,314.6 545.7,315.9 547.8,313.8 547.0,310.9" fill="#000"/>
<rect x="359.4" y="334" width="276.6" height="200.5" fill="#d5d1c9" stroke="none" stroke-width="1" />
<rect x="485.8" y="353.6" width="39.3" height="27.4" fill="#e08a84" stroke="none" stroke-width="1" />
<line x1="368" y1="341.2" x2="368.9" y2="353.6" stroke="#111" stroke-width="0.55" />
<line x1="381" y1="341.2" x2="384.08" y2="353.6" stroke="#111" stroke-width="0.55" />
<line x1="382.4" y1="341.2" x2="399.26" y2="353.6" stroke="#111" stroke-width="0.55" />
<line x1="383.6" y1="341.2" x2="414.44" y2="353.6" stroke="#111" stroke-width="0.55" />
<line x1="387" y1="341.2" x2="429.62" y2="353.6" stroke="#111" stroke-width="0.55" />
<line x1="395" y1="341.2" x2="444.79999999999995" y2="353.6" stroke="#111" stroke-width="0.55" />
<line x1="403" y1="341.2" x2="459.97999999999996" y2="353.6" stroke="#111" stroke-width="0.55" />
<line x1="420.6" y1="341.2" x2="475.15999999999997" y2="353.6" stroke="#111" stroke-width="0.55" />
<line x1="422" y1="341.2" x2="490.34" y2="353.6" stroke="#111" stroke-width="0.55" />
<line x1="423.6" y1="341.2" x2="505.52" y2="353.6" stroke="#111" stroke-width="0.55" />
<line x1="425.5" y1="341.2" x2="520.7" y2="353.6" stroke="#111" stroke-width="0.55" />
<line x1="427.2" y1="341.2" x2="535.88" y2="353.6" stroke="#111" stroke-width="0.55" />
<line x1="429" y1="341.2" x2="551.06" y2="353.6" stroke="#111" stroke-width="0.55" />
<line x1="482.4" y1="341.2" x2="566.24" y2="353.6" stroke="#111" stroke-width="0.55" />
<line x1="539.6" y1="341.2" x2="581.42" y2="353.6" stroke="#111" stroke-width="0.55" />
<line x1="582" y1="341.2" x2="596.5999999999999" y2="353.6" stroke="#111" stroke-width="0.55" />
<line x1="589.4" y1="341.2" x2="611.78" y2="353.6" stroke="#111" stroke-width="0.55" />
<line x1="627" y1="341.2" x2="626.96" y2="353.6" stroke="#111" stroke-width="0.55" />
<rect x="368" y="338.2" width="259.2" height="3" fill="#fff" stroke="#111" stroke-width="0.7" />
<rect x="367.4" y="337.8" width="1.2" height="3.8" fill="#111" stroke="none" stroke-width="1" />
<rect x="380.4" y="337.8" width="1.2" height="3.8" fill="#111" stroke="none" stroke-width="1" />
<rect x="381.79999999999995" y="337.8" width="1.2" height="3.8" fill="#111" stroke="none" stroke-width="1" />
<rect x="383.0" y="337.8" width="1.2" height="3.8" fill="#111" stroke="none" stroke-width="1" />
<rect x="386.4" y="337.8" width="1.2" height="3.8" fill="#111" stroke="none" stroke-width="1" />
<rect x="394.4" y="337.8" width="1.2" height="3.8" fill="#111" stroke="none" stroke-width="1" />
<rect x="402.4" y="337.8" width="1.2" height="3.8" fill="#111" stroke="none" stroke-width="1" />
<rect x="420.0" y="337.8" width="1.2" height="3.8" fill="#111" stroke="none" stroke-width="1" />
<rect x="421.4" y="337.8" width="1.2" height="3.8" fill="#111" stroke="none" stroke-width="1" />
<rect x="423.0" y="337.8" width="1.2" height="3.8" fill="#111" stroke="none" stroke-width="1" />
<rect x="424.9" y="337.8" width="1.2" height="3.8" fill="#111" stroke="none" stroke-width="1" />
<rect x="426.59999999999997" y="337.8" width="1.2" height="3.8" fill="#111" stroke="none" stroke-width="1" />
<rect x="428.4" y="337.8" width="1.2" height="3.8" fill="#111" stroke="none" stroke-width="1" />
<rect x="481.79999999999995" y="337.8" width="1.2" height="3.8" fill="#111" stroke="none" stroke-width="1" />
<rect x="539.0" y="337.8" width="1.2" height="3.8" fill="#111" stroke="none" stroke-width="1" />
<rect x="581.4" y="337.8" width="1.2" height="3.8" fill="#111" stroke="none" stroke-width="1" />
<rect x="588.8" y="337.8" width="1.2" height="3.8" fill="#111" stroke="none" stroke-width="1" />
<rect x="626.4" y="337.8" width="1.2" height="3.8" fill="#111" stroke="none" stroke-width="1" />
<line x1="455" y1="330" x2="486.20282164180406" y2="352.0310831592132" stroke="#000" stroke-width="0.8" />
<polygon points="488.0,353.3 483.5,352.8 485.7,351.7 486.0,349.2" fill="#000"/>
<line x1="505" y1="330.5" x2="505.0" y2="351.1" stroke="#000" stroke-width="0.8" />
<polygon points="505.0,353.3 502.8,349.3 505.0,350.5 507.2,349.3" fill="#000"/>
<line x1="554" y1="330.5" x2="523.7917256648606" y2="352.02339546378687" stroke="#000" stroke-width="0.8" />
<polygon points="522.0,353.3 524.0,349.2 524.3,351.7 526.5,352.8" fill="#000"/>
<text transform="translate(370.2,381) rotate(-90)" font-size="3.8" font-family='"Liberation Sans", sans-serif' fill="#1a1a1a">snp_2984814</text>
<text transform="translate(385.4,381) rotate(-90)" font-size="3.8" font-family='"Liberation Sans", sans-serif' fill="#1a1a1a">snp_2984539</text>
<text transform="translate(400.6,381) rotate(-90)" font-size="3.8" font-family='"Liberation Sans", sans-serif' fill="#1a1a1a">snp_2984365</text>
<text transform="translate(415.7,381) rotate(-90)" font-size="3.8" font-family='"Liberation Sans", sans-serif' fill="#1a1a1a">snp_2984448</text>
<text transform="translate(430.9,381) rotate(-90)" font-size="3.8" font-family='"Liberation Sans", sans-serif' fill="#1a1a1a">snp_2984503</text>
<text transform="translate(446.1,381) rotate(-90)" font-size="3.8" font-family='"Liberation Sans", sans-serif' fill="#1a1a1a">snp_2984775</text>
<text transform="translate(461.3,381) rotate(-90)" font-size="3.8" font-family='"Liberation Sans", sans-serif' fill="#1a1a1a">snp_2984906</text>
<text transform="translate(476.5,381) rotate(-90)" font-size="3.8" font-family='"Liberation Sans", sans-serif' fill="#1a1a1a">snp_2984868</text>
<text transform="translate(491.6,381) rotate(-90)" font-size="3.8" font-family='"Liberation Sans", sans-serif' fill="#1a1a1a">snp_2985445</text>
<text transform="translate(506.8,381) rotate(-90)" font-size="3.8" font-family='"Liberation Sans", sans-serif' fill="#1a1a1a">snp_2985446</text>
<text transform="translate(522.0,381) rotate(-90)" font-size="3.8" font-family='"Liberation Sans", sans-serif' fill="#1a1a1a">snp_2985569</text>
<text transform="translate(537.2,381) rotate(-90)" font-size="3.8" font-family='"Liberation Sans", sans-serif' fill="#1a1a1a">snp_2986360</text>
<text transform="translate(552.4,381) rotate(-90)" font-size="3.8" font-family='"Liberation Sans", sans-serif' fill="#1a1a1a">snp_2987226</text>
<text transform="translate(567.5,381) rotate(-90)" font-size="3.8" font-family='"Liberation Sans", sans-serif' fill="#1a1a1a">snp_2987354</text>
<text transform="translate(582.7,381) rotate(-90)" font-size="3.8" font-family='"Liberation Sans", sans-serif' fill="#1a1a1a">snp_2988864</text>
<text transform="translate(597.9,381) rotate(-90)" font-size="3.8" font-family='"Liberation Sans", sans-serif' fill="#1a1a1a">snp_2989000</text>
<text transform="translate(613.1,381) rotate(-90)" font-size="3.8" font-family='"Liberation Sans", sans-serif' fill="#1a1a1a">snp_2989206</text>
<text transform="translate(628.3,381) rotate(-90)" font-size="3.8" font-family='"Liberation Sans", sans-serif' fill="#1a1a1a">snp_2991819</text>
<text x="368.9" y="397" font-size="3.8" text-anchor="middle" fill="#222" font-family='"Liberation Sans", sans-serif' font-weight="normal" font-style="normal" >39</text>
<text x="384.1" y="397" font-size="3.8" text-anchor="middle" fill="#222" font-family='"Liberation Sans", sans-serif' font-weight="normal" font-style="normal" >43</text>
<text x="399.3" y="397" font-size="3.8" text-anchor="middle" fill="#222" font-family='"Liberation Sans", sans-serif' font-weight="normal" font-style="normal" >44</text>
<text x="414.4" y="397" font-size="3.8" text-anchor="middle" fill="#222" font-family='"Liberation Sans", sans-serif' font-weight="normal" font-style="normal" >45</text>
<text x="429.6" y="397" font-size="3.8" text-anchor="middle" fill="#222" font-family='"Liberation Sans", sans-serif' font-weight="normal" font-style="normal" >47</text>
<text x="444.8" y="397" font-size="3.8" text-anchor="middle" fill="#222" font-family='"Liberation Sans", sans-serif' font-weight="normal" font-style="normal" >48</text>
<text x="460.0" y="397" font-size="3.8" text-anchor="middle" fill="#222" font-family='"Liberation Sans", sans-serif' font-weight="normal" font-style="normal" >50</text>
<text x="475.2" y="397" font-size="3.8" text-anchor="middle" fill="#222" font-family='"Liberation Sans", sans-serif' font-weight="normal" font-style="normal" >51</text>
<text x="490.3" y="397" font-size="3.8" text-anchor="middle" fill="#222" font-family='"Liberation Sans", sans-serif' font-weight="normal" font-style="normal" >55</text>
<text x="505.5" y="397" font-size="3.8" text-anchor="middle" fill="#222" font-family='"Liberation Sans", sans-serif' font-weight="normal" font-style="normal" >56</text>
<text x="520.7" y="397" font-size="3.8" text-anchor="middle" fill="#222" font-family='"Liberation Sans", sans-serif' font-weight="normal" font-style="normal" >58</text>
<text x="535.9" y="397" font-size="3.8" text-anchor="middle" fill="#222" font-family='"Liberation Sans", sans-serif' font-weight="normal" font-style="normal" >59</text>
<text x="551.1" y="397" font-size="3.8" text-anchor="middle" fill="#222" font-family='"Liberation Sans", sans-serif' font-weight="normal" font-style="normal" >73</text>
<text x="566.2" y="397" font-size="3.8" text-anchor="middle" fill="#222" font-family='"Liberation Sans", sans-serif' font-weight="normal" font-style="normal" >74</text>
<text x="581.4" y="397" font-size="3.8" text-anchor="middle" fill="#222" font-family='"Liberation Sans", sans-serif' font-weight="normal" font-style="normal" >92</text>
<text x="596.6" y="397" font-size="3.8" text-anchor="middle" fill="#222" font-family='"Liberation Sans", sans-serif' font-weight="normal" font-style="normal" >104</text>
<text x="611.8" y="397" font-size="3.8" text-anchor="middle" fill="#222" font-family='"Liberation Sans", sans-serif' font-weight="normal" font-style="normal" >105</text>
<text x="627.0" y="397" font-size="3.8" text-anchor="middle" fill="#222" font-family='"Liberation Sans", sans-serif' font-weight="normal" font-style="normal" >111</text>
<polygon points="376.49,397.20 384.08,404.74 376.49,412.28 368.90,404.74" fill="#ffffff" stroke="#fff" stroke-width="0.35" stroke-opacity="0.75"/>
<text x="376.5" y="406.0" font-size="3.8" text-anchor="middle" fill="#777" font-family='"Liberation Sans", sans-serif' font-weight="normal" font-style="normal" >21</text>
<polygon points="384.08,404.74 391.67,412.28 384.08,419.82 376.49,412.28" fill="#ffffff" stroke="#fff" stroke-width="0.35" stroke-opacity="0.75"/>
<text x="384.1" y="413.6" font-size="3.8" text-anchor="middle" fill="#777" font-family='"Liberation Sans", sans-serif' font-weight="normal" font-style="normal" >21</text>
<polygon points="391.67,412.28 399.26,419.82 391.67,427.36 384.08,419.82" fill="#ffffff" stroke="#fff" stroke-width="0.35" stroke-opacity="0.75"/>
<text x="391.7" y="421.1" font-size="3.8" text-anchor="middle" fill="#777" font-family='"Liberation Sans", sans-serif' font-weight="normal" font-style="normal" >21</text>
<polygon points="399.26,419.82 406.85,427.36 399.26,434.90 391.67,427.36" fill="#ff0000" stroke="#fff" stroke-width="0.35" stroke-opacity="0.75"/>
<text x="399.3" y="428.7" font-size="3.8" text-anchor="middle" fill="#300" font-family='"Liberation Sans", sans-serif' font-weight="normal" font-style="normal" >64</text>
<polygon points="406.85,427.36 414.44,434.90 406.85,442.44 399.26,434.90" fill="#ffffff" stroke="#fff" stroke-width="0.35" stroke-opacity="0.75"/>
<text x="406.8" y="436.2" font-size="3.8" text-anchor="middle" fill="#777" font-family='"Liberation Sans", sans-serif' font-weight="normal" font-style="normal" >21</text>
<polygon points="414.44,434.90 422.03,442.44 414.44,449.98 406.85,442.44" fill="#ffffff" stroke="#fff" stroke-width="0.35" stroke-opacity="0.75"/>
<text x="414.4" y="443.7" font-size="3.8" text-anchor="middle" fill="#777" font-family='"Liberation Sans", sans-serif' font-weight="normal" font-style="normal" >21</text>
<polygon points="422.03,442.44 429.62,449.98 422.03,457.52 414.44,449.98" fill="#ffffff" stroke="#fff" stroke-width="0.35" stroke-opacity="0.75"/>
<text x="422.0" y="451.3" font-size="3.8" text-anchor="middle" fill="#777" font-family='"Liberation Sans", sans-serif' font-weight="normal" font-style="normal" >21</text>
<polygon points="429.62,449.98 437.21,457.52 429.62,465.06 422.03,457.52" fill="#ffffff" stroke="#fff" stroke-width="0.35" stroke-opacity="0.75"/>
<text x="429.6" y="458.8" font-size="3.8" text-anchor="middle" fill="#777" font-family='"Liberation Sans", sans-serif' font-weight="normal" font-style="normal" >21</text>
<polygon points="437.21,457.52 444.80,465.06 437.21,472.60 429.62,465.06" fill="#ffffff" stroke="#fff" stroke-width="0.35" stroke-opacity="0.75"/>
<text x="437.2" y="466.4" font-size="3.8" text-anchor="middle" fill="#777" font-family='"Liberation Sans", sans-serif' font-weight="normal" font-style="normal" >21</text>
<polygon points="444.80,465.06 452.39,472.60 444.80,480.14 437.21,472.60" fill="#ffffff" stroke="#fff" stroke-width="0.35" stroke-opacity="0.75"/>
<text x="444.8" y="473.9" font-size="3.8" text-anchor="middle" fill="#777" font-family='"Liberation Sans", sans-serif' font-weight="normal" font-style="normal" >21</text>
<polygon points="452.39,472.60 459.98,480.14 452.39,487.68 444.80,480.14" fill="#ffffff" stroke="#fff" stroke-width="0.35" stroke-opacity="0.75"/>
<text x="452.4" y="481.4" font-size="3.8" text-anchor="middle" fill="#777" font-family='"Liberation Sans", sans-serif' font-weight="normal" font-style="normal" >21</text>
<polygon points="459.98,480.14 467.57,487.68 459.98,495.22 452.39,487.68" fill="#bfbff0" stroke="#fff" stroke-width="0.35" stroke-opacity="0.75"/>
<text x="460.0" y="489.0" font-size="3.8" text-anchor="middle" fill="#333" font-family='"Liberation Sans", sans-serif' font-weight="normal" font-style="normal" >64</text>
<polygon points="467.57,487.68 475.16,495.22 467.57,502.76 459.98,495.22" fill="#ffffff" stroke="#fff" stroke-width="0.35" stroke-opacity="0.75"/>
<text x="467.6" y="496.5" font-size="3.8" text-anchor="middle" fill="#777" font-family='"Liberation Sans", sans-serif' font-weight="normal" font-style="normal" >21</text>
<polygon points="475.16,495.22 482.75,502.76 475.16,510.30 467.57,502.76" fill="#ffffff" stroke="#fff" stroke-width="0.35" stroke-opacity="0.75"/>
<text x="475.2" y="504.1" font-size="3.8" text-anchor="middle" fill="#777" font-family='"Liberation Sans", sans-serif' font-weight="normal" font-style="normal" >21</text>
<polygon points="482.75,502.76 490.34,510.30 482.75,517.84 475.16,510.30" fill="#ffffff" stroke="#fff" stroke-width="0.35" stroke-opacity="0.75"/>
<text x="482.8" y="511.6" font-size="3.8" text-anchor="middle" fill="#777" font-family='"Liberation Sans", sans-serif' font-weight="normal" font-style="normal" >21</text>
<polygon points="490.34,510.30 497.93,517.84 490.34,525.38 482.75,517.84" fill="#ffffff" stroke="#fff" stroke-width="0.35" stroke-opacity="0.75"/>
<text x="490.3" y="519.1" font-size="3.8" text-anchor="middle" fill="#777" font-family='"Liberation Sans", sans-serif' font-weight="normal" font-style="normal" >21</text>
<polygon points="497.93,517.84 505.52,525.38 497.93,532.92 490.34,525.38" fill="#bfbff0" stroke="#fff" stroke-width="0.35" stroke-opacity="0.75"/>
<text x="497.9" y="526.7" font-size="3.8" text-anchor="middle" fill="#333" font-family='"Liberation Sans", sans-serif' font-weight="normal" font-style="normal" >64</text>
<polygon points="391.67,397.20 399.26,404.74 391.67,412.28 384.08,404.74" fill="#ff0000" stroke="#fff" stroke-width="0.35" stroke-opacity="0.75"/>
<polygon points="399.26,404.74 406.85,412.28 399.26,419.82 391.67,412.28" fill="#ff0000" stroke="#fff" stroke-width="0.35" stroke-opacity="0.75"/>
<polygon points="406.85,412.28 414.44,419.82 406.85,427.36 399.26,419.82" fill="#bfbff0" stroke="#fff" stroke-width="0.35" stroke-opacity="0.75"/>
<text x="406.8" y="421.1" font-size="3.8" text-anchor="middle" fill="#333" font-family='"Liberation Sans", sans-serif' font-weight="normal" font-style="normal" >64</text>
<polygon points="414.44,419.82 422.03,427.36 414.44,434.90 406.85,427.36" fill="#ff0000" stroke="#fff" stroke-width="0.35" stroke-opacity="0.75"/>
<polygon points="422.03,427.36 429.62,434.90 422.03,442.44 414.44,434.90" fill="#ff0000" stroke="#fff" stroke-width="0.35" stroke-opacity="0.75"/>
<polygon points="429.62,434.90 437.21,442.44 429.62,449.98 422.03,442.44" fill="#ff0000" stroke="#fff" stroke-width="0.35" stroke-opacity="0.75"/>
<polygon points="437.21,442.44 444.80,449.98 437.21,457.52 429.62,449.98" fill="#ff0000" stroke="#fff" stroke-width="0.35" stroke-opacity="0.75"/>
<polygon points="444.80,449.98 452.39,457.52 444.80,465.06 437.21,457.52" fill="#ff0000" stroke="#fff" stroke-width="0.35" stroke-opacity="0.75"/>
<polygon points="452.39,457.52 459.98,465.06 452.39,472.60 444.80,465.06" fill="#ff0000" stroke="#fff" stroke-width="0.35" stroke-opacity="0.75"/>
<polygon points="459.98,465.06 467.57,472.60 459.98,480.14 452.39,472.60" fill="#ff0000" stroke="#fff" stroke-width="0.35" stroke-opacity="0.75"/>
<polygon points="467.57,472.60 475.16,480.14 467.57,487.68 459.98,480.14" fill="#bfbff0" stroke="#fff" stroke-width="0.35" stroke-opacity="0.75"/>
<text x="467.6" y="481.4" font-size="3.8" text-anchor="middle" fill="#333" font-family='"Liberation Sans", sans-serif' font-weight="normal" font-style="normal" >64</text>
<polygon points="475.16,480.14 482.75,487.68 475.16,495.22 467.57,487.68" fill="#ff0000" stroke="#fff" stroke-width="0.35" stroke-opacity="0.75"/>
<polygon points="482.75,487.68 490.34,495.22 482.75,502.76 475.16,495.22" fill="#ff0000" stroke="#fff" stroke-width="0.35" stroke-opacity="0.75"/>
<polygon points="490.34,495.22 497.93,502.76 490.34,510.30 482.75,502.76" fill="#ff0000" stroke="#fff" stroke-width="0.35" stroke-opacity="0.75"/>
<polygon points="497.93,502.76 505.52,510.30 497.93,517.84 490.34,510.30" fill="#ff0000" stroke="#fff" stroke-width="0.35" stroke-opacity="0.75"/>
<polygon points="505.52,510.30 513.11,517.84 505.52,525.38 497.93,517.84" fill="#bfbff0" stroke="#fff" stroke-width="0.35" stroke-opacity="0.75"/>
<text x="505.5" y="519.1" font-size="3.8" text-anchor="middle" fill="#333" font-family='"Liberation Sans", sans-serif' font-weight="normal" font-style="normal" >64</text>
<polygon points="406.85,397.20 414.44,404.74 406.85,412.28 399.26,404.74" fill="#ff0000" stroke="#fff" stroke-width="0.35" stroke-opacity="0.75"/>
<polygon points="414.44,404.74 422.03,412.28 414.44,419.82 406.85,412.28" fill="#bfbff0" stroke="#fff" stroke-width="0.35" stroke-opacity="0.75"/>
<text x="414.4" y="413.6" font-size="3.8" text-anchor="middle" fill="#333" font-family='"Liberation Sans", sans-serif' font-weight="normal" font-style="normal" >64</text>
<polygon points="422.03,412.28 429.62,419.82 422.03,427.36 414.44,419.82" fill="#ff0000" stroke="#fff" stroke-width="0.35" stroke-opacity="0.75"/>
<polygon points="429.62,419.82 437.21,427.36 429.62,434.90 422.03,427.36" fill="#ff0000" stroke="#fff" stroke-width="0.35" stroke-opacity="0.75"/>
<polygon points="437.21,427.36 444.80,434.90 437.21,442.44 429.62,434.90" fill="#ff0000" stroke="#fff" stroke-width="0.35" stroke-opacity="0.75"/>
<polygon points="444.80,434.90 452.39,442.44 444.80,449.98 437.21,442.44" fill="#ff0000" stroke="#fff" stroke-width="0.35" stroke-opacity="0.75"/>
<polygon points="452.39,442.44 459.98,449.98 452.39,457.52 444.80,449.98" fill="#ff0000" stroke="#fff" stroke-width="0.35" stroke-opacity="0.75"/>
<polygon points="459.98,449.98 467.57,457.52 459.98,465.06 452.39,457.52" fill="#ff0000" stroke="#fff" stroke-width="0.35" stroke-opacity="0.75"/>
<polygon points="467.57,457.52 475.16,465.06 467.57,472.60 459.98,465.06" fill="#ff0000" stroke="#fff" stroke-width="0.35" stroke-opacity="0.75"/>
<polygon points="475.16,465.06 482.75,472.60 475.16,480.14 467.57,472.60" fill="#bfbff0" stroke="#fff" stroke-width="0.35" stroke-opacity="0.75"/>
<text x="475.2" y="473.9" font-size="3.8" text-anchor="middle" fill="#333" font-family='"Liberation Sans", sans-serif' font-weight="normal" font-style="normal" >64</text>
<polygon points="482.75,472.60 490.34,480.14 482.75,487.68 475.16,480.14" fill="#ff0000" stroke="#fff" stroke-width="0.35" stroke-opacity="0.75"/>
<polygon points="490.34,480.14 497.93,487.68 490.34,495.22 482.75,487.68" fill="#ff0000" stroke="#fff" stroke-width="0.35" stroke-opacity="0.75"/>
<polygon points="497.93,487.68 505.52,495.22 497.93,502.76 490.34,495.22" fill="#ff0000" stroke="#fff" stroke-width="0.35" stroke-opacity="0.75"/>
<polygon points="505.52,495.22 513.11,502.76 505.52,510.30 497.93,502.76" fill="#ff0000" stroke="#fff" stroke-width="0.35" stroke-opacity="0.75"/>
<polygon points="513.11,502.76 520.70,510.30 513.11,517.84 505.52,510.30" fill="#bfbff0" stroke="#fff" stroke-width="0.35" stroke-opacity="0.75"/>
<text x="513.1" y="511.6" font-size="3.8" text-anchor="middle" fill="#333" font-family='"Liberation Sans", sans-serif' font-weight="normal" font-style="normal" >64</text>
<polygon points="422.03,397.20 429.62,404.74 422.03,412.28 414.44,404.74" fill="#bfbff0" stroke="#fff" stroke-width="0.35" stroke-opacity="0.75"/>
<text x="422.0" y="406.0" font-size="3.8" text-anchor="middle" fill="#333" font-family='"Liberation Sans", sans-serif' font-weight="normal" font-style="normal" >64</text>
<polygon points="429.62,404.74 437.21,412.28 429.62,419.82 422.03,412.28" fill="#ff0000" stroke="#fff" stroke-width="0.35" stroke-opacity="0.75"/>
<polygon points="437.21,412.28 444.80,419.82 437.21,427.36 429.62,419.82" fill="#ff0000" stroke="#fff" stroke-width="0.35" stroke-opacity="0.75"/>
<polygon points="444.80,419.82 452.39,427.36 444.80,434.90 437.21,427.36" fill="#ff0000" stroke="#fff" stroke-width="0.35" stroke-opacity="0.75"/>
<polygon points="452.39,427.36 459.98,434.90 452.39,442.44 444.80,434.90" fill="#ff0000" stroke="#fff" stroke-width="0.35" stroke-opacity="0.75"/>
<polygon points="459.98,434.90 467.57,442.44 459.98,449.98 452.39,442.44" fill="#ff0000" stroke="#fff" stroke-width="0.35" stroke-opacity="0.75"/>
<polygon points="467.57,442.44 475.16,449.98 467.57,457.52 459.98,449.98" fill="#ff0000" stroke="#fff" stroke-width="0.35" stroke-opacity="0.75"/>
<polygon points="475.16,449.98 482.75,457.52 475.16,465.06 467.57,457.52" fill="#ff0000" stroke="#fff" stroke-width="0.35" stroke-opacity="0.75"/>
<polygon points="482.75,457.52 490.34,465.06 482.75,472.60 475.16,465.06" fill="#bfbff0" stroke="#fff" stroke-width="0.35" stroke-opacity="0.75"/>
<text x="482.8" y="466.4" font-size="3.8" text-anchor="middle" fill="#333" font-family='"Liberation Sans", sans-serif' font-weight="normal" font-style="normal" >64</text>
<polygon points="490.34,465.06 497.93,472.60 490.34,480.14 482.75,472.60" fill="#ff0000" stroke="#fff" stroke-width="0.35" stroke-opacity="0.75"/>
<polygon points="497.93,472.60 505.52,480.14 497.93,487.68 490.34,480.14" fill="#ff0000" stroke="#fff" stroke-width="0.35" stroke-opacity="0.75"/>
<polygon points="505.52,480.14 513.11,487.68 505.52,495.22 497.93,487.68" fill="#ff0000" stroke="#fff" stroke-width="0.35" stroke-opacity="0.75"/>
<polygon points="513.11,487.68 520.70,495.22 513.11,502.76 505.52,495.22" fill="#ff0000" stroke="#fff" stroke-width="0.35" stroke-opacity="0.75"/>
<polygon points="520.70,495.22 528.29,502.76 520.70,510.30 513.11,502.76" fill="#bfbff0" stroke="#fff" stroke-width="0.35" stroke-opacity="0.75"/>
<text x="520.7" y="504.1" font-size="3.8" text-anchor="middle" fill="#333" font-family='"Liberation Sans", sans-serif' font-weight="normal" font-style="normal" >64</text>
<polygon points="437.21,397.20 444.80,404.74 437.21,412.28 429.62,404.74" fill="#bfbff0" stroke="#fff" stroke-width="0.35" stroke-opacity="0.75"/>
<text x="437.2" y="406.0" font-size="3.8" text-anchor="middle" fill="#333" font-family='"Liberation Sans", sans-serif' font-weight="normal" font-style="normal" >64</text>
<polygon points="444.80,404.74 452.39,412.28 444.80,419.82 437.21,412.28" fill="#bfbff0" stroke="#fff" stroke-width="0.35" stroke-opacity="0.75"/>
<text x="444.8" y="413.6" font-size="3.8" text-anchor="middle" fill="#333" font-family='"Liberation Sans", sans-serif' font-weight="normal" font-style="normal" >64</text>
<polygon points="452.39,412.28 459.98,419.82 452.39,427.36 444.80,419.82" fill="#bfbff0" stroke="#fff" stroke-width="0.35" stroke-opacity="0.75"/>
<text x="452.4" y="421.1" font-size="3.8" text-anchor="middle" fill="#333" font-family='"Liberation Sans", sans-serif' font-weight="normal" font-style="normal" >64</text>
<polygon points="459.98,419.82 467.57,427.36 459.98,434.90 452.39,427.36" fill="#bfbff0" stroke="#fff" stroke-width="0.35" stroke-opacity="0.75"/>
<text x="460.0" y="428.7" font-size="3.8" text-anchor="middle" fill="#333" font-family='"Liberation Sans", sans-serif' font-weight="normal" font-style="normal" >64</text>
<polygon points="467.57,427.36 475.16,434.90 467.57,442.44 459.98,434.90" fill="#bfbff0" stroke="#fff" stroke-width="0.35" stroke-opacity="0.75"/>
<text x="467.6" y="436.2" font-size="3.8" text-anchor="middle" fill="#333" font-family='"Liberation Sans", sans-serif' font-weight="normal" font-style="normal" >64</text>
<polygon points="475.16,434.90 482.75,442.44 475.16,449.98 467.57,442.44" fill="#bfbff0" stroke="#fff" stroke-width="0.35" stroke-opacity="0.75"/>
<text x="475.2" y="443.7" font-size="3.8" text-anchor="middle" fill="#333" font-family='"Liberation Sans", sans-serif' font-weight="normal" font-style="normal" >64</text>
<polygon points="482.75,442.44 490.34,449.98 482.75,457.52 475.16,449.98" fill="#bfbff0" stroke="#fff" stroke-width="0.35" stroke-opacity="0.75"/>
<text x="482.8" y="451.3" font-size="3.8" text-anchor="middle" fill="#333" font-family='"Liberation Sans", sans-serif' font-weight="normal" font-style="normal" >64</text>
<polygon points="490.34,449.98 497.93,457.52 490.34,465.06 482.75,457.52" fill="#bfbff0" stroke="#fff" stroke-width="0.35" stroke-opacity="0.75"/>
<text x="490.3" y="458.8" font-size="3.8" text-anchor="middle" fill="#333" font-family='"Liberation Sans", sans-serif' font-weight="normal" font-style="normal" >64</text>
<polygon points="497.93,457.52 505.52,465.06 497.93,472.60 490.34,465.06" fill="#bfbff0" stroke="#fff" stroke-width="0.35" stroke-opacity="0.75"/>
<text x="497.9" y="466.4" font-size="3.8" text-anchor="middle" fill="#333" font-family='"Liberation Sans", sans-serif' font-weight="normal" font-style="normal" >64</text>
<polygon points="505.52,465.06 513.11,472.60 505.52,480.14 497.93,472.60" fill="#bfbff0" stroke="#fff" stroke-width="0.35" stroke-opacity="0.75"/>
<text x="505.5" y="473.9" font-size="3.8" text-anchor="middle" fill="#333" font-family='"Liberation Sans", sans-serif' font-weight="normal" font-style="normal" >64</text>
<polygon points="513.11,472.60 520.70,480.14 513.11,487.68 505.52,480.14" fill="#bfbff0" stroke="#fff" stroke-width="0.35" stroke-opacity="0.75"/>
<text x="513.1" y="481.4" font-size="3.8" text-anchor="middle" fill="#333" font-family='"Liberation Sans", sans-serif' font-weight="normal" font-style="normal" >64</text>
<polygon points="520.70,480.14 528.29,487.68 520.70,495.22 513.11,487.68" fill="#bfbff0" stroke="#fff" stroke-width="0.35" stroke-opacity="0.75"/>
<text x="520.7" y="489.0" font-size="3.8" text-anchor="middle" fill="#333" font-family='"Liberation Sans", sans-serif' font-weight="normal" font-style="normal" >64</text>
<polygon points="528.29,487.68 535.88,495.22 528.29,502.76 520.70,495.22" fill="#bfbff0" stroke="#fff" stroke-width="0.35" stroke-opacity="0.75"/>
<text x="528.3" y="496.5" font-size="3.8" text-anchor="middle" fill="#333" font-family='"Liberation Sans", sans-serif' font-weight="normal" font-style="normal" >64</text>
<polygon points="452.39,397.20 459.98,404.74 452.39,412.28 444.80,404.74" fill="#ff0000" stroke="#fff" stroke-width="0.35" stroke-opacity="0.75"/>
<polygon points="459.98,404.74 467.57,412.28 459.98,419.82 452.39,412.28" fill="#ff0000" stroke="#fff" stroke-width="0.35" stroke-opacity="0.75"/>
<polygon points="467.57,412.28 475.16,419.82 467.57,427.36 459.98,419.82" fill="#ff0000" stroke="#fff" stroke-width="0.35" stroke-opacity="0.75"/>
<polygon points="475.16,419.82 482.75,427.36 475.16,434.90 467.57,427.36" fill="#ff0000" stroke="#fff" stroke-width="0.35" stroke-opacity="0.75"/>
<polygon points="482.75,427.36 490.34,434.90 482.75,442.44 475.16,434.90" fill="#ff0000" stroke="#fff" stroke-width="0.35" stroke-opacity="0.75"/>
<polygon points="490.34,434.90 497.93,442.44 490.34,449.98 482.75,442.44" fill="#ff0000" stroke="#fff" stroke-width="0.35" stroke-opacity="0.75"/>
<polygon points="497.93,442.44 505.52,449.98 497.93,457.52 490.34,449.98" fill="#bfbff0" stroke="#fff" stroke-width="0.35" stroke-opacity="0.75"/>
<text x="497.9" y="451.3" font-size="3.8" text-anchor="middle" fill="#333" font-family='"Liberation Sans", sans-serif' font-weight="normal" font-style="normal" >64</text>
<polygon points="505.52,449.98 513.11,457.52 505.52,465.06 497.93,457.52" fill="#ff0000" stroke="#fff" stroke-width="0.35" stroke-opacity="0.75"/>
<polygon points="513.11,457.52 520.70,465.06 513.11,472.60 505.52,465.06" fill="#ff0000" stroke="#fff" stroke-width="0.35" stroke-opacity="0.75"/>
<polygon points="520.70,465.06 528.29,472.60 520.70,480.14 513.11,472.60" fill="#ff0000" stroke="#fff" stroke-width="0.35" stroke-opacity="0.75"/>
<polygon points="528.29,472.60 535.88,480.14 528.29,487.68 520.70,480.14" fill="#ff0000" stroke="#fff" stroke-width="0.35" stroke-opacity="0.75"/>
<polygon points="535.88,480.14 543.47,487.68 535.88,495.22 528.29,487.68" fill="#bfbff0" stroke="#fff" stroke-width="0.35" stroke-opacity="0.75"/>
<text x="535.9" y="489.0" font-size="3.8" text-anchor="middle" fill="#333" font-family='"Liberation Sans", sans-serif' font-weight="normal" font-style="normal" >64</text>
<polygon points="467.57,397.20 475.16,404.74 467.57,412.28 459.98,404.74" fill="#ff0000" stroke="#fff" stroke-width="0.35" stroke-opacity="0.75"/>
<polygon points="475.16,404.74 482.75,412.28 475.16,419.82 467.57,412.28" fill="#ff0000" stroke="#fff" stroke-width="0.35" stroke-opacity="0.75"/>
<polygon points="482.75,412.28 490.34,419.82 482.75,427.36 475.16,419.82" fill="#ff0000" stroke="#fff" stroke-width="0.35" stroke-opacity="0.75"/>
<polygon points="490.34,419.82 497.93,427.36 490.34,434.90 482.75,427.36" fill="#ff0000" stroke="#fff" stroke-width="0.35" stroke-opacity="0.75"/>
<polygon points="497.93,427.36 505.52,434.90 497.93,442.44 490.34,434.90" fill="#ff0000" stroke="#fff" stroke-width="0.35" stroke-opacity="0.75"/>
<polygon points="505.52,434.90 513.11,442.44 505.52,449.98 497.93,442.44" fill="#bfbff0" stroke="#fff" stroke-width="0.35" stroke-opacity="0.75"/>
<text x="505.5" y="443.7" font-size="3.8" text-anchor="middle" fill="#333" font-family='"Liberation Sans", sans-serif' font-weight="normal" font-style="normal" >64</text>
<polygon points="513.11,442.44 520.70,449.98 513.11,457.52 505.52,449.98" fill="#ff0000" stroke="#fff" stroke-width="0.35" stroke-opacity="0.75"/>
<polygon points="520.70,449.98 528.29,457.52 520.70,465.06 513.11,457.52" fill="#ff0000" stroke="#fff" stroke-width="0.35" stroke-opacity="0.75"/>
<polygon points="528.29,457.52 535.88,465.06 528.29,472.60 520.70,465.06" fill="#ff0000" stroke="#fff" stroke-width="0.35" stroke-opacity="0.75"/>
<polygon points="535.88,465.06 543.47,472.60 535.88,480.14 528.29,472.60" fill="#ff0000" stroke="#fff" stroke-width="0.35" stroke-opacity="0.75"/>
<polygon points="543.47,472.60 551.06,480.14 543.47,487.68 535.88,480.14" fill="#bfbff0" stroke="#fff" stroke-width="0.35" stroke-opacity="0.75"/>
<text x="543.5" y="481.4" font-size="3.8" text-anchor="middle" fill="#333" font-family='"Liberation Sans", sans-serif' font-weight="normal" font-style="normal" >64</text>
<polygon points="482.75,397.20 490.34,404.74 482.75,412.28 475.16,404.74" fill="#ff0000" stroke="#fff" stroke-width="0.35" stroke-opacity="0.75"/>
<polygon points="490.34,404.74 497.93,412.28 490.34,419.82 482.75,412.28" fill="#ff0000" stroke="#fff" stroke-width="0.35" stroke-opacity="0.75"/>
<polygon points="497.93,412.28 505.52,419.82 497.93,427.36 490.34,419.82" fill="#ff0000" stroke="#fff" stroke-width="0.35" stroke-opacity="0.75"/>
<polygon points="505.52,419.82 513.11,427.36 505.52,434.90 497.93,427.36" fill="#ff0000" stroke="#fff" stroke-width="0.35" stroke-opacity="0.75"/>
<polygon points="513.11,427.36 520.70,434.90 513.11,442.44 505.52,434.90" fill="#bfbff0" stroke="#fff" stroke-width="0.35" stroke-opacity="0.75"/>
<text x="513.1" y="436.2" font-size="3.8" text-anchor="middle" fill="#333" font-family='"Liberation Sans", sans-serif' font-weight="normal" font-style="normal" >64</text>
<polygon points="520.70,434.90 528.29,442.44 520.70,449.98 513.11,442.44" fill="#ff0000" stroke="#fff" stroke-width="0.35" stroke-opacity="0.75"/>
<polygon points="528.29,442.44 535.88,449.98 528.29,457.52 520.70,449.98" fill="#ff0000" stroke="#fff" stroke-width="0.35" stroke-opacity="0.75"/>
<polygon points="535.88,449.98 543.47,457.52 535.88,465.06 528.29,457.52" fill="#ff0000" stroke="#fff" stroke-width="0.35" stroke-opacity="0.75"/>
<polygon points="543.47,457.52 551.06,465.06 543.47,472.60 535.88,465.06" fill="#ff0000" stroke="#fff" stroke-width="0.35" stroke-opacity="0.75"/>
<polygon points="551.06,465.06 558.65,472.60 551.06,480.14 543.47,472.60" fill="#bfbff0" stroke="#fff" stroke-width="0.35" stroke-opacity="0.75"/>
<text x="551.1" y="473.9" font-size="3.8" text-anchor="middle" fill="#333" font-family='"Liberation Sans", sans-serif' font-weight="normal" font-style="normal" >64</text>
<polygon points="497.93,397.20 505.52,404.74 497.93,412.28 490.34,404.74" fill="#ff0000" stroke="#fff" stroke-width="0.35" stroke-opacity="0.75"/>
<polygon points="505.52,404.74 513.11,412.28 505.52,419.82 497.93,412.28" fill="#ff0000" stroke="#fff" stroke-width="0.35" stroke-opacity="0.75"/>
<polygon points="513.11,412.28 520.70,419.82 513.11,427.36 505.52,419.82" fill="#ff0000" stroke="#fff" stroke-width="0.35" stroke-opacity="0.75"/>
<polygon points="520.70,419.82 528.29,427.36 520.70,434.90 513.11,427.36" fill="#bfbff0" stroke="#fff" stroke-width="0.35" stroke-opacity="0.75"/>
<text x="520.7" y="428.7" font-size="3.8" text-anchor="middle" fill="#333" font-family='"Liberation Sans", sans-serif' font-weight="normal" font-style="normal" >64</text>
<polygon points="528.29,427.36 535.88,434.90 528.29,442.44 520.70,434.90" fill="#ff0000" stroke="#fff" stroke-width="0.35" stroke-opacity="0.75"/>
<polygon points="535.88,434.90 543.47,442.44 535.88,449.98 528.29,442.44" fill="#ff0000" stroke="#fff" stroke-width="0.35" stroke-opacity="0.75"/>
<polygon points="543.47,442.44 551.06,449.98 543.47,457.52 535.88,449.98" fill="#ff0000" stroke="#fff" stroke-width="0.35" stroke-opacity="0.75"/>
<polygon points="551.06,449.98 558.65,457.52 551.06,465.06 543.47,457.52" fill="#ff0000" stroke="#fff" stroke-width="0.35" stroke-opacity="0.75"/>
<polygon points="558.65,457.52 566.24,465.06 558.65,472.60 551.06,465.06" fill="#bfbff0" stroke="#fff" stroke-width="0.35" stroke-opacity="0.75"/>
<text x="558.6" y="466.4" font-size="3.8" text-anchor="middle" fill="#333" font-family='"Liberation Sans", sans-serif' font-weight="normal" font-style="normal" >64</text>
<polygon points="513.11,397.20 520.70,404.74 513.11,412.28 505.52,404.74" fill="#ff0000" stroke="#fff" stroke-width="0.35" stroke-opacity="0.75"/>
<polygon points="520.70,404.74 528.29,412.28 520.70,419.82 513.11,412.28" fill="#ff0000" stroke="#fff" stroke-width="0.35" stroke-opacity="0.75"/>
<polygon points="528.29,412.28 535.88,419.82 528.29,427.36 520.70,419.82" fill="#bfbff0" stroke="#fff" stroke-width="0.35" stroke-opacity="0.75"/>
<text x="528.3" y="421.1" font-size="3.8" text-anchor="middle" fill="#333" font-family='"Liberation Sans", sans-serif' font-weight="normal" font-style="normal" >64</text>
<polygon points="535.88,419.82 543.47,427.36 535.88,434.90 528.29,427.36" fill="#ff0000" stroke="#fff" stroke-width="0.35" stroke-opacity="0.75"/>
<polygon points="543.47,427.36 551.06,434.90 543.47,442.44 535.88,434.90" fill="#ff0000" stroke="#fff" stroke-width="0.35" stroke-opacity="0.75"/>
<polygon points="551.06,434.90 558.65,442.44 551.06,449.98 543.47,442.44" fill="#ff0000" stroke="#fff" stroke-width="0.35" stroke-opacity="0.75"/>
<polygon points="558.65,442.44 566.24,449.98 558.65,457.52 551.06,449.98" fill="#ff0000" stroke="#fff" stroke-width="0.35" stroke-opacity="0.75"/>
<polygon points="566.24,449.98 573.83,457.52 566.24,465.06 558.65,457.52" fill="#bfbff0" stroke="#fff" stroke-width="0.35" stroke-opacity="0.75"/>
<text x="566.2" y="458.8" font-size="3.8" text-anchor="middle" fill="#333" font-family='"Liberation Sans", sans-serif' font-weight="normal" font-style="normal" >64</text>
<polygon points="528.29,397.20 535.88,404.74 528.29,412.28 520.70,404.74" fill="#ff0000" stroke="#fff" stroke-width="0.35" stroke-opacity="0.75"/>
<polygon points="535.88,404.74 543.47,412.28 535.88,419.82 528.29,412.28" fill="#bfbff0" stroke="#fff" stroke-width="0.35" stroke-opacity="0.75"/>
<text x="535.9" y="413.6" font-size="3.8" text-anchor="middle" fill="#333" font-family='"Liberation Sans", sans-serif' font-weight="normal" font-style="normal" >64</text>
<polygon points="543.47,412.28 551.06,419.82 543.47,427.36 535.88,419.82" fill="#ff0000" stroke="#fff" stroke-width="0.35" stroke-opacity="0.75"/>
<polygon points="551.06,419.82 558.65,427.36 551.06,434.90 543.47,427.36" fill="#ff0000" stroke="#fff" stroke-width="0.35" stroke-opacity="0.75"/>
<polygon points="558.65,427.36 566.24,434.90 558.65,442.44 551.06,434.90" fill="#ff0000" stroke="#fff" stroke-width="0.35" stroke-opacity="0.75"/>
<polygon points="566.24,434.90 573.83,442.44 566.24,449.98 558.65,442.44" fill="#ff0000" stroke="#fff" stroke-width="0.35" stroke-opacity="0.75"/>
<polygon points="573.83,442.44 581.42,449.98 573.83,457.52 566.24,449.98" fill="#bfbff0" stroke="#fff" stroke-width="0.35" stroke-opacity="0.75"/>
<text x="573.8" y="451.3" font-size="3.8" text-anchor="middle" fill="#333" font-family='"Liberation Sans", sans-serif' font-weight="normal" font-style="normal" >64</text>
<polygon points="543.47,397.20 551.06,404.74 543.47,412.28 535.88,404.74" fill="#bfbff0" stroke="#fff" stroke-width="0.35" stroke-opacity="0.75"/>
<text x="543.5" y="406.0" font-size="3.8" text-anchor="middle" fill="#333" font-family='"Liberation Sans", sans-serif' font-weight="normal" font-style="normal" >64</text>
<polygon points="551.06,404.74 558.65,412.28 551.06,419.82 543.47,412.28" fill="#ff0000" stroke="#fff" stroke-width="0.35" stroke-opacity="0.75"/>
<polygon points="558.65,412.28 566.24,419.82 558.65,427.36 551.06,419.82" fill="#ff0000" stroke="#fff" stroke-width="0.35" stroke-opacity="0.75"/>
<polygon points="566.24,419.82 573.83,427.36 566.24,434.90 558.65,427.36" fill="#ff0000" stroke="#fff" stroke-width="0.35" stroke-opacity="0.75"/>
<polygon points="573.83,427.36 581.42,434.90 573.83,442.44 566.24,434.90" fill="#ff0000" stroke="#fff" stroke-width="0.35" stroke-opacity="0.75"/>
<polygon points="581.42,434.90 589.01,442.44 581.42,449.98 573.83,442.44" fill="#bfbff0" stroke="#fff" stroke-width="0.35" stroke-opacity="0.75"/>
<text x="581.4" y="443.7" font-size="3.8" text-anchor="middle" fill="#333" font-family='"Liberation Sans", sans-serif' font-weight="normal" font-style="normal" >64</text>
<polygon points="558.65,397.20 566.24,404.74 558.65,412.28 551.06,404.74" fill="#bfbff0" stroke="#fff" stroke-width="0.35" stroke-opacity="0.75"/>
<text x="558.6" y="406.0" font-size="3.8" text-anchor="middle" fill="#333" font-family='"Liberation Sans", sans-serif' font-weight="normal" font-style="normal" >64</text>
<polygon points="566.24,404.74 573.83,412.28 566.24,419.82 558.65,412.28" fill="#bfbff0" stroke="#fff" stroke-width="0.35" stroke-opacity="0.75"/>
<text x="566.2" y="413.6" font-size="3.8" text-anchor="middle" fill="#333" font-family='"Liberation Sans", sans-serif' font-weight="normal" font-style="normal" >64</text>
<polygon points="573.83,412.28 581.42,419.82 573.83,427.36 566.24,419.82" fill="#bfbff0" stroke="#fff" stroke-width="0.35" stroke-opacity="0.75"/>
<text x="573.8" y="421.1" font-size="3.8" text-anchor="middle" fill="#333" font-family='"Liberation Sans", sans-serif' font-weight="normal" font-style="normal" >64</text>
<polygon points="581.42,419.82 589.01,427.36 581.42,434.90 573.83,427.36" fill="#bfbff0" stroke="#fff" stroke-width="0.35" stroke-opacity="0.75"/>
<text x="581.4" y="428.7" font-size="3.8" text-anchor="middle" fill="#333" font-family='"Liberation Sans", sans-serif' font-weight="normal" font-style="normal" >64</text>
<polygon points="589.01,427.36 596.60,434.90 589.01,442.44 581.42,434.90" fill="#bfbff0" stroke="#fff" stroke-width="0.35" stroke-opacity="0.75"/>
<text x="589.0" y="436.2" font-size="3.8" text-anchor="middle" fill="#333" font-family='"Liberation Sans", sans-serif' font-weight="normal" font-style="normal" >64</text>
<polygon points="573.83,397.20 581.42,404.74 573.83,412.28 566.24,404.74" fill="#ff0000" stroke="#fff" stroke-width="0.35" stroke-opacity="0.75"/>
<polygon points="581.42,404.74 589.01,412.28 581.42,419.82 573.83,412.28" fill="#ff0000" stroke="#fff" stroke-width="0.35" stroke-opacity="0.75"/>
<polygon points="589.01,412.28 596.60,419.82 589.01,427.36 581.42,419.82" fill="#ff0000" stroke="#fff" stroke-width="0.35" stroke-opacity="0.75"/>
<polygon points="596.60,419.82 604.19,427.36 596.60,434.90 589.01,427.36" fill="#bfbff0" stroke="#fff" stroke-width="0.35" stroke-opacity="0.75"/>
<text x="596.6" y="428.7" font-size="3.8" text-anchor="middle" fill="#333" font-family='"Liberation Sans", sans-serif' font-weight="normal" font-style="normal" >64</text>
<polygon points="589.01,397.20 596.60,404.74 589.01,412.28 581.42,404.74" fill="#ff0000" stroke="#fff" stroke-width="0.35" stroke-opacity="0.75"/>
<polygon points="596.60,404.74 604.19,412.28 596.60,419.82 589.01,412.28" fill="#ff0000" stroke="#fff" stroke-width="0.35" stroke-opacity="0.75"/>
<polygon points="604.19,412.28 611.78,419.82 604.19,427.36 596.60,419.82" fill="#bfbff0" stroke="#fff" stroke-width="0.35" stroke-opacity="0.75"/>
<text x="604.2" y="421.1" font-size="3.8" text-anchor="middle" fill="#333" font-family='"Liberation Sans", sans-serif' font-weight="normal" font-style="normal" >64</text>
<polygon points="604.19,397.20 611.78,404.74 604.19,412.28 596.60,404.74" fill="#ff0000" stroke="#fff" stroke-width="0.35" stroke-opacity="0.75"/>
<polygon points="611.78,404.74 619.37,412.28 611.78,419.82 604.19,412.28" fill="#bfbff0" stroke="#fff" stroke-width="0.35" stroke-opacity="0.75"/>
<text x="611.8" y="413.6" font-size="3.8" text-anchor="middle" fill="#333" font-family='"Liberation Sans", sans-serif' font-weight="normal" font-style="normal" >64</text>
<polygon points="619.37,397.20 626.96,404.74 619.37,412.28 611.78,404.74" fill="#bfbff0" stroke="#fff" stroke-width="0.35" stroke-opacity="0.75"/>
<text x="619.4" y="406.0" font-size="3.8" text-anchor="middle" fill="#333" font-family='"Liberation Sans", sans-serif' font-weight="normal" font-style="normal" >64</text>
<text x="4" y="320.8" font-size="15" text-anchor="start" fill="#000" font-family='"Liberation Serif", serif' font-weight="bold" font-style="normal" >b</text>
<text x="167" y="306.4" font-size="14.4" text-anchor="middle" fill="#111" font-family='"Liberation Serif", serif' font-weight="normal" font-style="normal" >SNP: c.-253G&gt;A (5’UTR), chr6: 95418992</text>
<clipPath id="cp311"><rect x="27" y="311" width="271" height="110.10000000000002"/></clipPath>
<g clip-path="url(#cp311)">
<rect x="27" y="311" width="271" height="110.10000000000002" fill="#fff" stroke="none" stroke-width="1" />
<path d="M 10.0,418.79 L 11.0,418.79 L 12.0,418.78 L 13.0,418.76 L 14.0,418.73 L 15.0,418.67 L 16.0,418.59 L 17.0,418.47 L 18.0,418.27 L 19.0,417.98 L 20.0,417.55 L 21.0,416.94 L 22.0,416.10 L 23.0,414.94 L 24.0,413.41 L 25.0,411.44 L 26.0,408.94 L 27.0,405.87 L 28.0,402.20 L 29.0,397.93 L 30.0,393.10 L 31.0,387.82 L 32.0,382.23 L 33.0,376.52 L 34.0,370.95 L 35.0,365.76 L 36.0,361.23 L 37.0,357.62 L 38.0,355.12 L 39.0,353.91 L 40.0,354.05 L 41.0,355.52 L 42.0,358.25 L 43.0,362.07 L 44.0,366.75 L 45.0,372.04 L 46.0,377.66 L 47.0,383.36 L 48.0,388.91 L 49.0,394.11 L 50.0,398.83 L 51.0,402.98 L 52.0,406.53 L 53.0,409.48 L 54.0,411.87 L 55.0,413.75 L 56.0,415.20 L 57.0,416.29 L 58.0,417.08 L 59.0,417.65 L 60.0,418.05 L 61.0,418.32 L 62.0,418.50 L 63.0,418.61 L 64.0,418.69 L 65.0,418.73 L 66.0,418.76 L 67.0,418.78 L 68.0,418.79 L 69.0,418.79 L 70.0,418.80 L 71.0,418.80 L 72.0,418.80 L 73.0,418.80 L 74.0,418.80 L 75.0,418.80 L 76.0,418.80 L 77.0,418.80 L 78.0,418.80 L 79.0,418.80 L 80.0,418.80 L 81.0,418.80 L 82.0,418.80 L 83.0,418.80 L 84.0,418.80 L 85.0,418.80 L 86.0,418.80 L 87.0,418.80 L 88.0,418.80 L 89.0,418.80 L 90.0,418.80 L 91.0,418.80 L 92.0,418.80 L 93.0,418.80 L 94.0,418.80 L 95.0,418.80 L 96.0,418.80 L 97.0,418.80 L 98.0,418.80 L 99.0,418.80 L 100.0,418.80 L 101.0,418.80 L 102.0,418.80 L 103.0,418.80 L 104.0,418.80 L 105.0,418.80 L 106.0,418.80 L 107.0,418.80 L 108.0,418.80 L 109.0,418.80 L 110.0,418.80 L 111.0,418.80 L 112.0,418.80 L 113.0,418.80 L 114.0,418.80 L 115.0,418.80 L 116.0,418.80 L 117.0,418.80 L 118.0,418.80 L 119.0,418.80 L 120.0,418.80 L 121.0,418.80 L 122.0,418.80 L 123.0,418.80 L 124.0,418.80 L 125.0,418.80 L 126.0,418.80 L 127.0,418.80 L 128.0,418.80 L 129.0,418.80 L 130.0,418.80 L 131.0,418.80 L 132.0,418.80 L 133.0,418.80 L 134.0,418.80 L 135.0,418.80 L 136.0,418.80 L 137.0,418.80 L 138.0,418.80 L 139.0,418.80 L 140.0,418.80 L 141.0,418.80 L 142.0,418.80 L 143.0,418.80 L 144.0,418.80 L 145.0,418.80 L 146.0,418.80 L 147.0,418.80 L 148.0,418.80 L 149.0,418.80 L 150.0,418.80 L 151.0,418.80 L 152.0,418.80 L 153.0,418.80 L 154.0,418.80 L 155.0,418.80 L 156.0,418.80 L 157.0,418.80 L 158.0,418.80 L 159.0,418.80 L 160.0,418.80 L 161.0,418.80 L 162.0,418.80 L 163.0,418.80 L 164.0,418.80 L 165.0,418.80 L 166.0,418.80 L 167.0,418.80 L 168.0,418.80 L 169.0,418.80 L 170.0,418.80 L 171.0,418.80 L 172.0,418.80 L 173.0,418.80 L 174.0,418.80 L 175.0,418.80 L 176.0,418.80 L 177.0,418.80 L 178.0,418.80 L 179.0,418.80 L 180.0,418.80 L 181.0,418.80 L 182.0,418.80 L 183.0,418.80 L 184.0,418.80 L 185.0,418.80 L 186.0,418.80 L 187.0,418.80 L 188.0,418.80 L 189.0,418.80 L 190.0,418.80 L 191.0,418.80 L 192.0,418.80 L 193.0,418.80 L 194.0,418.80 L 195.0,418.80 L 196.0,418.80 L 197.0,418.80 L 198.0,418.80 L 199.0,418.80 L 200.0,418.80 L 201.0,418.80 L 202.0,418.80 L 203.0,418.80 L 204.0,418.80 L 205.0,418.80 L 206.0,418.80 L 207.0,418.80 L 208.0,418.80 L 209.0,418.80 L 210.0,418.80 L 211.0,418.80 L 212.0,418.80 L 213.0,418.80 L 214.0,418.80 L 215.0,418.80 L 216.0,418.80 L 217.0,418.80 L 218.0,418.80 L 219.0,418.80 L 220.0,418.80 L 221.0,418.80 L 222.0,418.80 L 223.0,418.80 L 224.0,418.80 L 225.0,418.80 L 226.0,418.80 L 227.0,418.80 L 228.0,418.80 L 229.0,418.80 L 230.0,418.80 L 231.0,418.80 L 232.0,418.80 L 233.0,418.80 L 234.0,418.80 L 235.0,418.80 L 236.0,418.80 L 237.0,418.80 L 238.0,418.80 L 239.0,418.80 L 240.0,418.80 L 241.0,418.80 L 242.0,418.80 L 243.0,418.80 L 244.0,418.80 L 245.0,418.80 L 246.0,418.80 L 247.0,418.80 L 248.0,418.80 L 249.0,418.80 L 250.0,418.80 L 251.0,418.80 L 252.0,418.80 L 253.0,418.80 L 254.0,418.80 L 255.0,418.80 L 256.0,418.80 L 257.0,418.80 L 258.0,418.80 L 259.0,418.80 L 260.0,418.80 L 261.0,418.80 L 262.0,418.80 L 263.0,418.80 L 264.0,418.80 L 265.0,418.80 L 266.0,418.80 L 267.0,418.80 L 268.0,418.80 L 269.0,418.80 L 270.0,418.80 L 271.0,418.80 L 272.0,418.80 L 273.0,418.80 L 274.0,418.80 L 275.0,418.80 L 276.0,418.80 L 277.0,418.80 L 278.0,418.80 L 279.0,418.80 L 280.0,418.80 L 281.0,418.80 L 282.0,418.80 L 283.0,418.80 L 284.0,418.80 L 285.0,418.80 L 286.0,418.80 L 287.0,418.80 L 288.0,418.80 L 289.0,418.80 L 290.0,418.80 L 291.0,418.80 L 292.0,418.80 L 293.0,418.80 L 294.0,418.80 L 295.0,418.80 L 296.0,418.80 L 297.0,418.80 L 298.0,418.80 L 299.0,418.80 L 300.0,418.80 L 301.0,418.80 L 302.0,418.80 L 303.0,418.80 L 304.0,418.80 L 305,418.8 L 10,418.8 Z" fill="#e2e6f8" fill-opacity="0.85" stroke="none"/>
<path d="M 10.0,418.79 L 11.0,418.79 L 12.0,418.78 L 13.0,418.76 L 14.0,418.73 L 15.0,418.67 L 16.0,418.59 L 17.0,418.47 L 18.0,418.27 L 19.0,417.98 L 20.0,417.55 L 21.0,416.94 L 22.0,416.10 L 23.0,414.94 L 24.0,413.41 L 25.0,411.44 L 26.0,408.94 L 27.0,405.87 L 28.0,402.20 L 29.0,397.93 L 30.0,393.10 L 31.0,387.82 L 32.0,382.23 L 33.0,376.52 L 34.0,370.95 L 35.0,365.76 L 36.0,361.23 L 37.0,357.62 L 38.0,355.12 L 39.0,353.91 L 40.0,354.05 L 41.0,355.52 L 42.0,358.25 L 43.0,362.07 L 44.0,366.75 L 45.0,372.04 L 46.0,377.66 L 47.0,383.36 L 48.0,388.91 L 49.0,394.11 L 50.0,398.83 L 51.0,402.98 L 52.0,406.53 L 53.0,409.48 L 54.0,411.87 L 55.0,413.75 L 56.0,415.20 L 57.0,416.29 L 58.0,417.08 L 59.0,417.65 L 60.0,418.05 L 61.0,418.32 L 62.0,418.50 L 63.0,418.61 L 64.0,418.69 L 65.0,418.73 L 66.0,418.76 L 67.0,418.78 L 68.0,418.79 L 69.0,418.79 L 70.0,418.80 L 71.0,418.80 L 72.0,418.80 L 73.0,418.80 L 74.0,418.80 L 75.0,418.80 L 76.0,418.80 L 77.0,418.80 L 78.0,418.80 L 79.0,418.80 L 80.0,418.80 L 81.0,418.80 L 82.0,418.80 L 83.0,418.80 L 84.0,418.80 L 85.0,418.80 L 86.0,418.80 L 87.0,418.80 L 88.0,418.80 L 89.0,418.80 L 90.0,418.80 L 91.0,418.80 L 92.0,418.80 L 93.0,418.80 L 94.0,418.80 L 95.0,418.80 L 96.0,418.80 L 97.0,418.80 L 98.0,418.80 L 99.0,418.80 L 100.0,418.80 L 101.0,418.80 L 102.0,418.80 L 103.0,418.80 L 104.0,418.80 L 105.0,418.80 L 106.0,418.80 L 107.0,418.80 L 108.0,418.80 L 109.0,418.80 L 110.0,418.80 L 111.0,418.80 L 112.0,418.80 L 113.0,418.80 L 114.0,418.80 L 115.0,418.80 L 116.0,418.80 L 117.0,418.80 L 118.0,418.80 L 119.0,418.80 L 120.0,418.80 L 121.0,418.80 L 122.0,418.80 L 123.0,418.80 L 124.0,418.80 L 125.0,418.80 L 126.0,418.80 L 127.0,418.80 L 128.0,418.80 L 129.0,418.80 L 130.0,418.80 L 131.0,418.80 L 132.0,418.80 L 133.0,418.80 L 134.0,418.80 L 135.0,418.80 L 136.0,418.80 L 137.0,418.80 L 138.0,418.80 L 139.0,418.80 L 140.0,418.80 L 141.0,418.80 L 142.0,418.80 L 143.0,418.80 L 144.0,418.80 L 145.0,418.80 L 146.0,418.80 L 147.0,418.80 L 148.0,418.80 L 149.0,418.80 L 150.0,418.80 L 151.0,418.80 L 152.0,418.80 L 153.0,418.80 L 154.0,418.80 L 155.0,418.80 L 156.0,418.80 L 157.0,418.80 L 158.0,418.80 L 159.0,418.80 L 160.0,418.80 L 161.0,418.80 L 162.0,418.80 L 163.0,418.80 L 164.0,418.80 L 165.0,418.80 L 166.0,418.80 L 167.0,418.80 L 168.0,418.80 L 169.0,418.80 L 170.0,418.80 L 171.0,418.80 L 172.0,418.80 L 173.0,418.80 L 174.0,418.80 L 175.0,418.80 L 176.0,418.80 L 177.0,418.80 L 178.0,418.80 L 179.0,418.80 L 180.0,418.80 L 181.0,418.80 L 182.0,418.80 L 183.0,418.80 L 184.0,418.80 L 185.0,418.80 L 186.0,418.80 L 187.0,418.80 L 188.0,418.80 L 189.0,418.80 L 190.0,418.80 L 191.0,418.80 L 192.0,418.80 L 193.0,418.80 L 194.0,418.80 L 195.0,418.80 L 196.0,418.80 L 197.0,418.80 L 198.0,418.80 L 199.0,418.80 L 200.0,418.80 L 201.0,418.80 L 202.0,418.80 L 203.0,418.80 L 204.0,418.80 L 205.0,418.80 L 206.0,418.80 L 207.0,418.80 L 208.0,418.80 L 209.0,418.80 L 210.0,418.80 L 211.0,418.80 L 212.0,418.80 L 213.0,418.80 L 214.0,418.80 L 215.0,418.80 L 216.0,418.80 L 217.0,418.80 L 218.0,418.80 L 219.0,418.80 L 220.0,418.80 L 221.0,418.80 L 222.0,418.80 L 223.0,418.80 L 224.0,418.80 L 225.0,418.80 L 226.0,418.80 L 227.0,418.80 L 228.0,418.80 L 229.0,418.80 L 230.0,418.80 L 231.0,418.80 L 232.0,418.80 L 233.0,418.80 L 234.0,418.80 L 235.0,418.80 L 236.0,418.80 L 237.0,418.80 L 238.0,418.80 L 239.0,418.80 L 240.0,418.80 L 241.0,418.80 L 242.0,418.80 L 243.0,418.80 L 244.0,418.80 L 245.0,418.80 L 246.0,418.80 L 247.0,418.80 L 248.0,418.80 L 249.0,418.80 L 250.0,418.80 L 251.0,418.80 L 252.0,418.80 L 253.0,418.80 L 254.0,418.80 L 255.0,418.80 L 256.0,418.80 L 257.0,418.80 L 258.0,418.80 L 259.0,418.80 L 260.0,418.80 L 261.0,418.80 L 262.0,418.80 L 263.0,418.80 L 264.0,418.80 L 265.0,418.80 L 266.0,418.80 L 267.0,418.80 L 268.0,418.80 L 269.0,418.80 L 270.0,418.80 L 271.0,418.80 L 272.0,418.80 L 273.0,418.80 L 274.0,418.80 L 275.0,418.80 L 276.0,418.80 L 277.0,418.80 L 278.0,418.80 L 279.0,418.80 L 280.0,418.80 L 281.0,418.80 L 282.0,418.80 L 283.0,418.80 L 284.0,418.80 L 285.0,418.80 L 286.0,418.80 L 287.0,418.80 L 288.0,418.80 L 289.0,418.80 L 290.0,418.80 L 291.0,418.80 L 292.0,418.80 L 293.0,418.80 L 294.0,418.80 L 295.0,418.80 L 296.0,418.80 L 297.0,418.80 L 298.0,418.80 L 299.0,418.80 L 300.0,418.80 L 301.0,418.80 L 302.0,418.80 L 303.0,418.80 L 304.0,418.80" fill="none" stroke="#4a6ee8" stroke-width="1.3"/>
<path d="M 10.0,418.80 L 11.0,418.80 L 12.0,418.80 L 13.0,418.80 L 14.0,418.80 L 15.0,418.80 L 16.0,418.80 L 17.0,418.80 L 18.0,418.80 L 19.0,418.80 L 20.0,418.80 L 21.0,418.80 L 22.0,418.80 L 23.0,418.80 L 24.0,418.80 L 25.0,418.80 L 26.0,418.80 L 27.0,418.80 L 28.0,418.80 L 29.0,418.80 L 30.0,418.80 L 31.0,418.80 L 32.0,418.80 L 33.0,418.80 L 34.0,418.80 L 35.0,418.80 L 36.0,418.80 L 37.0,418.80 L 38.0,418.80 L 39.0,418.80 L 40.0,418.80 L 41.0,418.80 L 42.0,418.80 L 43.0,418.80 L 44.0,418.80 L 45.0,418.79 L 46.0,418.79 L 47.0,418.78 L 48.0,418.76 L 49.0,418.73 L 50.0,418.69 L 51.0,418.61 L 52.0,418.50 L 53.0,418.33 L 54.0,418.08 L 55.0,417.72 L 56.0,417.20 L 57.0,416.49 L 58.0,415.52 L 59.0,414.24 L 60.0,412.60 L 61.0,410.53 L 62.0,407.99 L 63.0,404.97 L 64.0,401.45 L 65.0,397.48 L 66.0,393.13 L 67.0,388.52 L 68.0,383.79 L 69.0,379.15 L 70.0,374.80 L 71.0,370.96 L 72.0,367.84 L 73.0,365.61 L 74.0,364.40 L 75.0,364.29 L 76.0,365.28 L 77.0,367.32 L 78.0,370.28 L 79.0,373.99 L 80.0,378.25 L 81.0,382.85 L 82.0,387.57 L 83.0,392.22 L 84.0,396.63 L 85.0,400.67 L 86.0,404.27 L 87.0,407.38 L 88.0,409.98 L 89.0,412.08 L 90.0,413.73 L 91.0,414.96 L 92.0,415.82 L 93.0,416.34 L 94.0,416.56 L 95.0,416.51 L 96.0,416.19 L 97.0,415.63 L 98.0,414.82 L 99.0,413.77 L 100.0,412.49 L 101.0,411.00 L 102.0,409.34 L 103.0,407.54 L 104.0,405.68 L 105.0,403.83 L 106.0,402.09 L 107.0,400.54 L 108.0,399.28 L 109.0,398.37 L 110.0,397.88 L 111.0,397.84 L 112.0,398.24 L 113.0,399.07 L 114.0,400.27 L 115.0,401.77 L 116.0,403.48 L 117.0,405.31 L 118.0,407.18 L 119.0,408.99 L 120.0,410.70 L 121.0,412.24 L 122.0,413.58 L 123.0,414.70 L 124.0,415.60 L 125.0,416.29 L 126.0,416.76 L 127.0,417.03 L 128.0,417.11 L 129.0,417.00 L 130.0,416.70 L 131.0,416.21 L 132.0,415.54 L 133.0,414.68 L 134.0,413.65 L 135.0,412.46 L 136.0,411.13 L 137.0,409.72 L 138.0,408.26 L 139.0,406.83 L 140.0,405.50 L 141.0,404.33 L 142.0,403.39 L 143.0,402.74 L 144.0,402.43 L 145.0,402.46 L 146.0,402.85 L 147.0,403.56 L 148.0,404.54 L 149.0,405.75 L 150.0,407.12 L 151.0,408.56 L 152.0,410.02 L 153.0,411.43 L 154.0,412.75 L 155.0,413.93 L 156.0,414.97 L 157.0,415.85 L 158.0,416.58 L 159.0,417.16 L 160.0,417.62 L 161.0,417.97 L 162.0,418.22 L 163.0,418.41 L 164.0,418.54 L 165.0,418.63 L 166.0,418.69 L 167.0,418.73 L 168.0,418.76 L 169.0,418.78 L 170.0,418.79 L 171.0,418.79 L 172.0,418.80 L 173.0,418.80 L 174.0,418.80 L 175.0,418.80 L 176.0,418.80 L 177.0,418.80 L 178.0,418.80 L 179.0,418.80 L 180.0,418.80 L 181.0,418.79 L 182.0,418.79 L 183.0,418.78 L 184.0,418.77 L 185.0,418.74 L 186.0,418.70 L 187.0,418.64 L 188.0,418.54 L 189.0,418.39 L 190.0,418.16 L 191.0,417.81 L 192.0,417.32 L 193.0,416.62 L 194.0,415.66 L 195.0,414.36 L 196.0,412.66 L 197.0,410.48 L 198.0,407.76 L 199.0,404.43 L 200.0,400.48 L 201.0,395.92 L 202.0,390.79 L 203.0,385.21 L 204.0,379.34 L 205.0,373.37 L 206.0,367.56 L 207.0,362.17 L 208.0,357.48 L 209.0,353.74 L 210.0,351.17 L 211.0,349.91 L 212.0,350.05 L 213.0,351.58 L 214.0,354.40 L 215.0,358.35 L 216.0,363.20 L 217.0,368.70 L 218.0,374.56 L 219.0,380.53 L 220.0,386.36 L 221.0,391.86 L 222.0,396.88 L 223.0,401.32 L 224.0,405.14 L 225.0,408.35 L 226.0,410.96 L 227.0,413.04 L 228.0,414.65 L 229.0,415.88 L 230.0,416.78 L 231.0,417.43 L 232.0,417.89 L 233.0,418.21 L 234.0,418.42 L 235.0,418.57 L 236.0,418.66 L 237.0,418.71 L 238.0,418.75 L 239.0,418.77 L 240.0,418.78 L 241.0,418.79 L 242.0,418.80 L 243.0,418.80 L 244.0,418.80 L 245.0,418.80 L 246.0,418.80 L 247.0,418.80 L 248.0,418.80 L 249.0,418.79 L 250.0,418.79 L 251.0,418.78 L 252.0,418.77 L 253.0,418.75 L 254.0,418.71 L 255.0,418.64 L 256.0,418.54 L 257.0,418.38 L 258.0,418.13 L 259.0,417.76 L 260.0,417.22 L 261.0,416.45 L 262.0,415.38 L 263.0,413.91 L 264.0,411.95 L 265.0,409.40 L 266.0,406.16 L 267.0,402.15 L 268.0,397.31 L 269.0,391.63 L 270.0,385.13 L 271.0,377.93 L 272.0,370.19 L 273.0,362.15 L 274.0,354.11 L 275.0,346.43 L 276.0,339.47 L 277.0,333.60 L 278.0,329.14 L 279.0,326.35 L 280.0,325.40 L 281.0,326.35 L 282.0,329.14 L 283.0,333.60 L 284.0,339.47 L 285.0,346.43 L 286.0,354.11 L 287.0,362.15 L 288.0,370.19 L 289.0,377.93 L 290.0,385.13 L 291.0,391.61 L 292.0,397.27 L 293.0,402.05 L 294.0,405.94 L 295.0,408.96 L 296.0,411.14 L 297.0,412.53 L 298.0,413.21 L 299.0,413.33 L 300.0,413.07 L 301.0,412.67 L 302.0,412.37 L 303.0,412.38 L 304.0,412.78 L 305,418.8 L 10,418.8 Z" fill="#e0e0e0" fill-opacity="0.85" stroke="none"/>
<path d="M 10.0,418.80 L 11.0,418.80 L 12.0,418.80 L 13.0,418.80 L 14.0,418.80 L 15.0,418.80 L 16.0,418.80 L 17.0,418.80 L 18.0,418.80 L 19.0,418.80 L 20.0,418.80 L 21.0,418.80 L 22.0,418.80 L 23.0,418.80 L 24.0,418.80 L 25.0,418.80 L 26.0,418.80 L 27.0,418.80 L 28.0,418.80 L 29.0,418.80 L 30.0,418.80 L 31.0,418.80 L 32.0,418.80 L 33.0,418.80 L 34.0,418.80 L 35.0,418.80 L 36.0,418.80 L 37.0,418.80 L 38.0,418.80 L 39.0,418.80 L 40.0,418.80 L 41.0,418.80 L 42.0,418.80 L 43.0,418.80 L 44.0,418.80 L 45.0,418.79 L 46.0,418.79 L 47.0,418.78 L 48.0,418.76 L 49.0,418.73 L 50.0,418.69 L 51.0,418.61 L 52.0,418.50 L 53.0,418.33 L 54.0,418.08 L 55.0,417.72 L 56.0,417.20 L 57.0,416.49 L 58.0,415.52 L 59.0,414.24 L 60.0,412.60 L 61.0,410.53 L 62.0,407.99 L 63.0,404.97 L 64.0,401.45 L 65.0,397.48 L 66.0,393.13 L 67.0,388.52 L 68.0,383.79 L 69.0,379.15 L 70.0,374.80 L 71.0,370.96 L 72.0,367.84 L 73.0,365.61 L 74.0,364.40 L 75.0,364.29 L 76.0,365.28 L 77.0,367.32 L 78.0,370.28 L 79.0,373.99 L 80.0,378.25 L 81.0,382.85 L 82.0,387.57 L 83.0,392.22 L 84.0,396.63 L 85.0,400.67 L 86.0,404.27 L 87.0,407.38 L 88.0,409.98 L 89.0,412.08 L 90.0,413.73 L 91.0,414.96 L 92.0,415.82 L 93.0,416.34 L 94.0,416.56 L 95.0,416.51 L 96.0,416.19 L 97.0,415.63 L 98.0,414.82 L 99.0,413.77 L 100.0,412.49 L 101.0,411.00 L 102.0,409.34 L 103.0,407.54 L 104.0,405.68 L 105.0,403.83 L 106.0,402.09 L 107.0,400.54 L 108.0,399.28 L 109.0,398.37 L 110.0,397.88 L 111.0,397.84 L 112.0,398.24 L 113.0,399.07 L 114.0,400.27 L 115.0,401.77 L 116.0,403.48 L 117.0,405.31 L 118.0,407.18 L 119.0,408.99 L 120.0,410.70 L 121.0,412.24 L 122.0,413.58 L 123.0,414.70 L 124.0,415.60 L 125.0,416.29 L 126.0,416.76 L 127.0,417.03 L 128.0,417.11 L 129.0,417.00 L 130.0,416.70 L 131.0,416.21 L 132.0,415.54 L 133.0,414.68 L 134.0,413.65 L 135.0,412.46 L 136.0,411.13 L 137.0,409.72 L 138.0,408.26 L 139.0,406.83 L 140.0,405.50 L 141.0,404.33 L 142.0,403.39 L 143.0,402.74 L 144.0,402.43 L 145.0,402.46 L 146.0,402.85 L 147.0,403.56 L 148.0,404.54 L 149.0,405.75 L 150.0,407.12 L 151.0,408.56 L 152.0,410.02 L 153.0,411.43 L 154.0,412.75 L 155.0,413.93 L 156.0,414.97 L 157.0,415.85 L 158.0,416.58 L 159.0,417.16 L 160.0,417.62 L 161.0,417.97 L 162.0,418.22 L 163.0,418.41 L 164.0,418.54 L 165.0,418.63 L 166.0,418.69 L 167.0,418.73 L 168.0,418.76 L 169.0,418.78 L 170.0,418.79 L 171.0,418.79 L 172.0,418.80 L 173.0,418.80 L 174.0,418.80 L 175.0,418.80 L 176.0,418.80 L 177.0,418.80 L 178.0,418.80 L 179.0,418.80 L 180.0,418.80 L 181.0,418.79 L 182.0,418.79 L 183.0,418.78 L 184.0,418.77 L 185.0,418.74 L 186.0,418.70 L 187.0,418.64 L 188.0,418.54 L 189.0,418.39 L 190.0,418.16 L 191.0,417.81 L 192.0,417.32 L 193.0,416.62 L 194.0,415.66 L 195.0,414.36 L 196.0,412.66 L 197.0,410.48 L 198.0,407.76 L 199.0,404.43 L 200.0,400.48 L 201.0,395.92 L 202.0,390.79 L 203.0,385.21 L 204.0,379.34 L 205.0,373.37 L 206.0,367.56 L 207.0,362.17 L 208.0,357.48 L 209.0,353.74 L 210.0,351.17 L 211.0,349.91 L 212.0,350.05 L 213.0,351.58 L 214.0,354.40 L 215.0,358.35 L 216.0,363.20 L 217.0,368.70 L 218.0,374.56 L 219.0,380.53 L 220.0,386.36 L 221.0,391.86 L 222.0,396.88 L 223.0,401.32 L 224.0,405.14 L 225.0,408.35 L 226.0,410.96 L 227.0,413.04 L 228.0,414.65 L 229.0,415.88 L 230.0,416.78 L 231.0,417.43 L 232.0,417.89 L 233.0,418.21 L 234.0,418.42 L 235.0,418.57 L 236.0,418.66 L 237.0,418.71 L 238.0,418.75 L 239.0,418.77 L 240.0,418.78 L 241.0,418.79 L 242.0,418.80 L 243.0,418.80 L 244.0,418.80 L 245.0,418.80 L 246.0,418.80 L 247.0,418.80 L 248.0,418.80 L 249.0,418.79 L 250.0,418.79 L 251.0,418.78 L 252.0,418.77 L 253.0,418.75 L 254.0,418.71 L 255.0,418.64 L 256.0,418.54 L 257.0,418.38 L 258.0,418.13 L 259.0,417.76 L 260.0,417.22 L 261.0,416.45 L 262.0,415.38 L 263.0,413.91 L 264.0,411.95 L 265.0,409.40 L 266.0,406.16 L 267.0,402.15 L 268.0,397.31 L 269.0,391.63 L 270.0,385.13 L 271.0,377.93 L 272.0,370.19 L 273.0,362.15 L 274.0,354.11 L 275.0,346.43 L 276.0,339.47 L 277.0,333.60 L 278.0,329.14 L 279.0,326.35 L 280.0,325.40 L 281.0,326.35 L 282.0,329.14 L 283.0,333.60 L 284.0,339.47 L 285.0,346.43 L 286.0,354.11 L 287.0,362.15 L 288.0,370.19 L 289.0,377.93 L 290.0,385.13 L 291.0,391.61 L 292.0,397.27 L 293.0,402.05 L 294.0,405.94 L 295.0,408.96 L 296.0,411.14 L 297.0,412.53 L 298.0,413.21 L 299.0,413.33 L 300.0,413.07 L 301.0,412.67 L 302.0,412.37 L 303.0,412.38 L 304.0,412.78" fill="none" stroke="#222" stroke-width="1.3"/>
<path d="M 10.0,418.80 L 11.0,418.80 L 12.0,418.80 L 13.0,418.80 L 14.0,418.80 L 15.0,418.80 L 16.0,418.80 L 17.0,418.80 L 18.0,418.80 L 19.0,418.80 L 20.0,418.80 L 21.0,418.80 L 22.0,418.80 L 23.0,418.80 L 24.0,418.80 L 25.0,418.80 L 26.0,418.80 L 27.0,418.80 L 28.0,418.80 L 29.0,418.80 L 30.0,418.80 L 31.0,418.80 L 32.0,418.80 L 33.0,418.80 L 34.0,418.80 L 35.0,418.80 L 36.0,418.80 L 37.0,418.80 L 38.0,418.80 L 39.0,418.80 L 40.0,418.80 L 41.0,418.80 L 42.0,418.80 L 43.0,418.80 L 44.0,418.80 L 45.0,418.80 L 46.0,418.80 L 47.0,418.80 L 48.0,418.80 L 49.0,418.80 L 50.0,418.80 L 51.0,418.80 L 52.0,418.80 L 53.0,418.80 L 54.0,418.80 L 55.0,418.80 L 56.0,418.80 L 57.0,418.80 L 58.0,418.80 L 59.0,418.80 L 60.0,418.80 L 61.0,418.80 L 62.0,418.80 L 63.0,418.80 L 64.0,418.80 L 65.0,418.80 L 66.0,418.80 L 67.0,418.80 L 68.0,418.80 L 69.0,418.80 L 70.0,418.80 L 71.0,418.80 L 72.0,418.80 L 73.0,418.80 L 74.0,418.80 L 75.0,418.80 L 76.0,418.80 L 77.0,418.80 L 78.0,418.80 L 79.0,418.80 L 80.0,418.80 L 81.0,418.80 L 82.0,418.80 L 83.0,418.80 L 84.0,418.80 L 85.0,418.80 L 86.0,418.80 L 87.0,418.80 L 88.0,418.80 L 89.0,418.80 L 90.0,418.80 L 91.0,418.80 L 92.0,418.80 L 93.0,418.80 L 94.0,418.80 L 95.0,418.80 L 96.0,418.80 L 97.0,418.80 L 98.0,418.80 L 99.0,418.80 L 100.0,418.80 L 101.0,418.80 L 102.0,418.80 L 103.0,418.80 L 104.0,418.80 L 105.0,418.80 L 106.0,418.80 L 107.0,418.80 L 108.0,418.80 L 109.0,418.80 L 110.0,418.80 L 111.0,418.80 L 112.0,418.80 L 113.0,418.80 L 114.0,418.80 L 115.0,418.80 L 116.0,418.80 L 117.0,418.80 L 118.0,418.80 L 119.0,418.80 L 120.0,418.80 L 121.0,418.80 L 122.0,418.80 L 123.0,418.80 L 124.0,418.80 L 125.0,418.80 L 126.0,418.80 L 127.0,418.80 L 128.0,418.80 L 129.0,418.80 L 130.0,418.80 L 131.0,418.80 L 132.0,418.80 L 133.0,418.80 L 134.0,418.80 L 135.0,418.80 L 136.0,418.80 L 137.0,418.80 L 138.0,418.80 L 139.0,418.80 L 140.0,418.80 L 141.0,418.80 L 142.0,418.80 L 143.0,418.80 L 144.0,418.80 L 145.0,418.80 L 146.0,418.80 L 147.0,418.80 L 148.0,418.79 L 149.0,418.79 L 150.0,418.78 L 151.0,418.76 L 152.0,418.73 L 153.0,418.69 L 154.0,418.61 L 155.0,418.50 L 156.0,418.32 L 157.0,418.05 L 158.0,417.65 L 159.0,417.08 L 160.0,416.30 L 161.0,415.22 L 162.0,413.80 L 163.0,411.95 L 164.0,409.63 L 165.0,406.79 L 166.0,403.40 L 167.0,399.47 L 168.0,395.06 L 169.0,390.27 L 170.0,385.24 L 171.0,380.18 L 172.0,375.30 L 173.0,370.86 L 174.0,367.09 L 175.0,364.21 L 176.0,362.41 L 177.0,361.80 L 178.0,362.41 L 179.0,364.21 L 180.0,367.09 L 181.0,370.86 L 182.0,375.30 L 183.0,380.18 L 184.0,385.24 L 185.0,390.27 L 186.0,395.06 L 187.0,399.47 L 188.0,403.40 L 189.0,406.79 L 190.0,409.63 L 191.0,411.95 L 192.0,413.80 L 193.0,415.22 L 194.0,416.30 L 195.0,417.08 L 196.0,417.65 L 197.0,418.05 L 198.0,418.32 L 199.0,418.50 L 200.0,418.61 L 201.0,418.69 L 202.0,418.73 L 203.0,418.76 L 204.0,418.78 L 205.0,418.79 L 206.0,418.79 L 207.0,418.80 L 208.0,418.80 L 209.0,418.80 L 210.0,418.80 L 211.0,418.80 L 212.0,418.80 L 213.0,418.80 L 214.0,418.80 L 215.0,418.80 L 216.0,418.80 L 217.0,418.80 L 218.0,418.80 L 219.0,418.80 L 220.0,418.80 L 221.0,418.80 L 222.0,418.80 L 223.0,418.80 L 224.0,418.80 L 225.0,418.80 L 226.0,418.80 L 227.0,418.80 L 228.0,418.80 L 229.0,418.80 L 230.0,418.80 L 231.0,418.80 L 232.0,418.80 L 233.0,418.80 L 234.0,418.80 L 235.0,418.80 L 236.0,418.80 L 237.0,418.80 L 238.0,418.80 L 239.0,418.80 L 240.0,418.80 L 241.0,418.80 L 242.0,418.80 L 243.0,418.80 L 244.0,418.80 L 245.0,418.80 L 246.0,418.80 L 247.0,418.80 L 248.0,418.80 L 249.0,418.80 L 250.0,418.80 L 251.0,418.80 L 252.0,418.80 L 253.0,418.80 L 254.0,418.80 L 255.0,418.80 L 256.0,418.80 L 257.0,418.80 L 258.0,418.80 L 259.0,418.80 L 260.0,418.80 L 261.0,418.80 L 262.0,418.80 L 263.0,418.80 L 264.0,418.80 L 265.0,418.80 L 266.0,418.80 L 267.0,418.80 L 268.0,418.80 L 269.0,418.80 L 270.0,418.80 L 271.0,418.80 L 272.0,418.80 L 273.0,418.80 L 274.0,418.80 L 275.0,418.80 L 276.0,418.80 L 277.0,418.80 L 278.0,418.80 L 279.0,418.80 L 280.0,418.80 L 281.0,418.80 L 282.0,418.80 L 283.0,418.80 L 284.0,418.80 L 285.0,418.80 L 286.0,418.80 L 287.0,418.80 L 288.0,418.80 L 289.0,418.80 L 290.0,418.80 L 291.0,418.80 L 292.0,418.80 L 293.0,418.80 L 294.0,418.80 L 295.0,418.80 L 296.0,418.80 L 297.0,418.80 L 298.0,418.80 L 299.0,418.80 L 300.0,418.80 L 301.0,418.80 L 302.0,418.80 L 303.0,418.80 L 304.0,418.80 L 305,418.8 L 10,418.8 Z" fill="#fde4e4" fill-opacity="0.85" stroke="none"/>
<path d="M 10.0,418.80 L 11.0,418.80 L 12.0,418.80 L 13.0,418.80 L 14.0,418.80 L 15.0,418.80 L 16.0,418.80 L 17.0,418.80 L 18.0,418.80 L 19.0,418.80 L 20.0,418.80 L 21.0,418.80 L 22.0,418.80 L 23.0,418.80 L 24.0,418.80 L 25.0,418.80 L 26.0,418.80 L 27.0,418.80 L 28.0,418.80 L 29.0,418.80 L 30.0,418.80 L 31.0,418.80 L 32.0,418.80 L 33.0,418.80 L 34.0,418.80 L 35.0,418.80 L 36.0,418.80 L 37.0,418.80 L 38.0,418.80 L 39.0,418.80 L 40.0,418.80 L 41.0,418.80 L 42.0,418.80 L 43.0,418.80 L 44.0,418.80 L 45.0,418.80 L 46.0,418.80 L 47.0,418.80 L 48.0,418.80 L 49.0,418.80 L 50.0,418.80 L 51.0,418.80 L 52.0,418.80 L 53.0,418.80 L 54.0,418.80 L 55.0,418.80 L 56.0,418.80 L 57.0,418.80 L 58.0,418.80 L 59.0,418.80 L 60.0,418.80 L 61.0,418.80 L 62.0,418.80 L 63.0,418.80 L 64.0,418.80 L 65.0,418.80 L 66.0,418.80 L 67.0,418.80 L 68.0,418.80 L 69.0,418.80 L 70.0,418.80 L 71.0,418.80 L 72.0,418.80 L 73.0,418.80 L 74.0,418.80 L 75.0,418.80 L 76.0,418.80 L 77.0,418.80 L 78.0,418.80 L 79.0,418.80 L 80.0,418.80 L 81.0,418.80 L 82.0,418.80 L 83.0,418.80 L 84.0,418.80 L 85.0,418.80 L 86.0,418.80 L 87.0,418.80 L 88.0,418.80 L 89.0,418.80 L 90.0,418.80 L 91.0,418.80 L 92.0,418.80 L 93.0,418.80 L 94.0,418.80 L 95.0,418.80 L 96.0,418.80 L 97.0,418.80 L 98.0,418.80 L 99.0,418.80 L 100.0,418.80 L 101.0,418.80 L 102.0,418.80 L 103.0,418.80 L 104.0,418.80 L 105.0,418.80 L 106.0,418.80 L 107.0,418.80 L 108.0,418.80 L 109.0,418.80 L 110.0,418.80 L 111.0,418.80 L 112.0,418.80 L 113.0,418.80 L 114.0,418.80 L 115.0,418.80 L 116.0,418.80 L 117.0,418.80 L 118.0,418.80 L 119.0,418.80 L 120.0,418.80 L 121.0,418.80 L 122.0,418.80 L 123.0,418.80 L 124.0,418.80 L 125.0,418.80 L 126.0,418.80 L 127.0,418.80 L 128.0,418.80 L 129.0,418.80 L 130.0,418.80 L 131.0,418.80 L 132.0,418.80 L 133.0,418.80 L 134.0,418.80 L 135.0,418.80 L 136.0,418.80 L 137.0,418.80 L 138.0,418.80 L 139.0,418.80 L 140.0,418.80 L 141.0,418.80 L 142.0,418.80 L 143.0,418.80 L 144.0,418.80 L 145.0,418.80 L 146.0,418.80 L 147.0,418.80 L 148.0,418.79 L 149.0,418.79 L 150.0,418.78 L 151.0,418.76 L 152.0,418.73 L 153.0,418.69 L 154.0,418.61 L 155.0,418.50 L 156.0,418.32 L 157.0,418.05 L 158.0,417.65 L 159.0,417.08 L 160.0,416.30 L 161.0,415.22 L 162.0,413.80 L 163.0,411.95 L 164.0,409.63 L 165.0,406.79 L 166.0,403.40 L 167.0,399.47 L 168.0,395.06 L 169.0,390.27 L 170.0,385.24 L 171.0,380.18 L 172.0,375.30 L 173.0,370.86 L 174.0,367.09 L 175.0,364.21 L 176.0,362.41 L 177.0,361.80 L 178.0,362.41 L 179.0,364.21 L 180.0,367.09 L 181.0,370.86 L 182.0,375.30 L 183.0,380.18 L 184.0,385.24 L 185.0,390.27 L 186.0,395.06 L 187.0,399.47 L 188.0,403.40 L 189.0,406.79 L 190.0,409.63 L 191.0,411.95 L 192.0,413.80 L 193.0,415.22 L 194.0,416.30 L 195.0,417.08 L 196.0,417.65 L 197.0,418.05 L 198.0,418.32 L 199.0,418.50 L 200.0,418.61 L 201.0,418.69 L 202.0,418.73 L 203.0,418.76 L 204.0,418.78 L 205.0,418.79 L 206.0,418.79 L 207.0,418.80 L 208.0,418.80 L 209.0,418.80 L 210.0,418.80 L 211.0,418.80 L 212.0,418.80 L 213.0,418.80 L 214.0,418.80 L 215.0,418.80 L 216.0,418.80 L 217.0,418.80 L 218.0,418.80 L 219.0,418.80 L 220.0,418.80 L 221.0,418.80 L 222.0,418.80 L 223.0,418.80 L 224.0,418.80 L 225.0,418.80 L 226.0,418.80 L 227.0,418.80 L 228.0,418.80 L 229.0,418.80 L 230.0,418.80 L 231.0,418.80 L 232.0,418.80 L 233.0,418.80 L 234.0,418.80 L 235.0,418.80 L 236.0,418.80 L 237.0,418.80 L 238.0,418.80 L 239.0,418.80 L 240.0,418.80 L 241.0,418.80 L 242.0,418.80 L 243.0,418.80 L 244.0,418.80 L 245.0,418.80 L 246.0,418.80 L 247.0,418.80 L 248.0,418.80 L 249.0,418.80 L 250.0,418.80 L 251.0,418.80 L 252.0,418.80 L 253.0,418.80 L 254.0,418.80 L 255.0,418.80 L 256.0,418.80 L 257.0,418.80 L 258.0,418.80 L 259.0,418.80 L 260.0,418.80 L 261.0,418.80 L 262.0,418.80 L 263.0,418.80 L 264.0,418.80 L 265.0,418.80 L 266.0,418.80 L 267.0,418.80 L 268.0,418.80 L 269.0,418.80 L 270.0,418.80 L 271.0,418.80 L 272.0,418.80 L 273.0,418.80 L 274.0,418.80 L 275.0,418.80 L 276.0,418.80 L 277.0,418.80 L 278.0,418.80 L 279.0,418.80 L 280.0,418.80 L 281.0,418.80 L 282.0,418.80 L 283.0,418.80 L 284.0,418.80 L 285.0,418.80 L 286.0,418.80 L 287.0,418.80 L 288.0,418.80 L 289.0,418.80 L 290.0,418.80 L 291.0,418.80 L 292.0,418.80 L 293.0,418.80 L 294.0,418.80 L 295.0,418.80 L 296.0,418.80 L 297.0,418.80 L 298.0,418.80 L 299.0,418.80 L 300.0,418.80 L 301.0,418.80 L 302.0,418.80 L 303.0,418.80 L 304.0,418.80" fill="none" stroke="#f04848" stroke-width="1.3"/>
<path d="M 10.0,418.80 L 11.0,418.80 L 12.0,418.80 L 13.0,418.80 L 14.0,418.80 L 15.0,418.80 L 16.0,418.80 L 17.0,418.80 L 18.0,418.80 L 19.0,418.80 L 20.0,418.80 L 21.0,418.80 L 22.0,418.80 L 23.0,418.80 L 24.0,418.80 L 25.0,418.80 L 26.0,418.80 L 27.0,418.80 L 28.0,418.80 L 29.0,418.80 L 30.0,418.80 L 31.0,418.80 L 32.0,418.80 L 33.0,418.80 L 34.0,418.80 L 35.0,418.80 L 36.0,418.80 L 37.0,418.80 L 38.0,418.80 L 39.0,418.80 L 40.0,418.80 L 41.0,418.80 L 42.0,418.80 L 43.0,418.80 L 44.0,418.80 L 45.0,418.80 L 46.0,418.80 L 47.0,418.80 L 48.0,418.80 L 49.0,418.80 L 50.0,418.80 L 51.0,418.80 L 52.0,418.80 L 53.0,418.80 L 54.0,418.80 L 55.0,418.80 L 56.0,418.80 L 57.0,418.80 L 58.0,418.80 L 59.0,418.80 L 60.0,418.80 L 61.0,418.80 L 62.0,418.80 L 63.0,418.80 L 64.0,418.80 L 65.0,418.80 L 66.0,418.80 L 67.0,418.80 L 68.0,418.80 L 69.0,418.80 L 70.0,418.80 L 71.0,418.80 L 72.0,418.80 L 73.0,418.80 L 74.0,418.80 L 75.0,418.80 L 76.0,418.80 L 77.0,418.80 L 78.0,418.80 L 79.0,418.80 L 80.0,418.80 L 81.0,418.80 L 82.0,418.80 L 83.0,418.80 L 84.0,418.80 L 85.0,418.80 L 86.0,418.80 L 87.0,418.80 L 88.0,418.80 L 89.0,418.80 L 90.0,418.80 L 91.0,418.80 L 92.0,418.80 L 93.0,418.80 L 94.0,418.80 L 95.0,418.80 L 96.0,418.80 L 97.0,418.80 L 98.0,418.80 L 99.0,418.80 L 100.0,418.80 L 101.0,418.80 L 102.0,418.80 L 103.0,418.80 L 104.0,418.80 L 105.0,418.80 L 106.0,418.80 L 107.0,418.80 L 108.0,418.80 L 109.0,418.80 L 110.0,418.80 L 111.0,418.80 L 112.0,418.80 L 113.0,418.80 L 114.0,418.80 L 115.0,418.80 L 116.0,418.80 L 117.0,418.80 L 118.0,418.80 L 119.0,418.80 L 120.0,418.80 L 121.0,418.80 L 122.0,418.80 L 123.0,418.80 L 124.0,418.80 L 125.0,418.80 L 126.0,418.80 L 127.0,418.80 L 128.0,418.80 L 129.0,418.80 L 130.0,418.80 L 131.0,418.80 L 132.0,418.80 L 133.0,418.80 L 134.0,418.80 L 135.0,418.80 L 136.0,418.80 L 137.0,418.80 L 138.0,418.80 L 139.0,418.80 L 140.0,418.80 L 141.0,418.80 L 142.0,418.80 L 143.0,418.80 L 144.0,418.80 L 145.0,418.80 L 146.0,418.80 L 147.0,418.80 L 148.0,418.80 L 149.0,418.80 L 150.0,418.80 L 151.0,418.80 L 152.0,418.80 L 153.0,418.80 L 154.0,418.80 L 155.0,418.80 L 156.0,418.80 L 157.0,418.80 L 158.0,418.80 L 159.0,418.80 L 160.0,418.80 L 161.0,418.80 L 162.0,418.80 L 163.0,418.80 L 164.0,418.80 L 165.0,418.80 L 166.0,418.80 L 167.0,418.80 L 168.0,418.80 L 169.0,418.80 L 170.0,418.80 L 171.0,418.80 L 172.0,418.80 L 173.0,418.80 L 174.0,418.80 L 175.0,418.80 L 176.0,418.80 L 177.0,418.80 L 178.0,418.80 L 179.0,418.80 L 180.0,418.80 L 181.0,418.80 L 182.0,418.80 L 183.0,418.80 L 184.0,418.80 L 185.0,418.80 L 186.0,418.80 L 187.0,418.80 L 188.0,418.80 L 189.0,418.80 L 190.0,418.80 L 191.0,418.80 L 192.0,418.80 L 193.0,418.80 L 194.0,418.80 L 195.0,418.80 L 196.0,418.80 L 197.0,418.80 L 198.0,418.80 L 199.0,418.80 L 200.0,418.80 L 201.0,418.80 L 202.0,418.80 L 203.0,418.80 L 204.0,418.80 L 205.0,418.80 L 206.0,418.80 L 207.0,418.80 L 208.0,418.80 L 209.0,418.80 L 210.0,418.80 L 211.0,418.80 L 212.0,418.80 L 213.0,418.80 L 214.0,418.80 L 215.0,418.80 L 216.0,418.80 L 217.0,418.80 L 218.0,418.80 L 219.0,418.79 L 220.0,418.79 L 221.0,418.78 L 222.0,418.76 L 223.0,418.74 L 224.0,418.70 L 225.0,418.63 L 226.0,418.52 L 227.0,418.35 L 228.0,418.11 L 229.0,417.75 L 230.0,417.25 L 231.0,416.56 L 232.0,415.63 L 233.0,414.42 L 234.0,412.88 L 235.0,410.99 L 236.0,408.72 L 237.0,406.09 L 238.0,403.14 L 239.0,399.94 L 240.0,396.60 L 241.0,393.26 L 242.0,390.09 L 243.0,387.26 L 244.0,384.93 L 245.0,383.26 L 246.0,382.35 L 247.0,382.27 L 248.0,383.01 L 249.0,384.54 L 250.0,386.75 L 251.0,389.49 L 252.0,392.61 L 253.0,395.93 L 254.0,399.28 L 255.0,402.52 L 256.0,405.53 L 257.0,408.22 L 258.0,410.57 L 259.0,412.53 L 260.0,414.14 L 261.0,415.41 L 262.0,416.39 L 263.0,417.13 L 264.0,417.67 L 265.0,418.05 L 266.0,418.31 L 267.0,418.49 L 268.0,418.61 L 269.0,418.68 L 270.0,418.73 L 271.0,418.76 L 272.0,418.78 L 273.0,418.79 L 274.0,418.79 L 275.0,418.80 L 276.0,418.80 L 277.0,418.80 L 278.0,418.80 L 279.0,418.80 L 280.0,418.80 L 281.0,418.80 L 282.0,418.80 L 283.0,418.80 L 284.0,418.80 L 285.0,418.80 L 286.0,418.80 L 287.0,418.80 L 288.0,418.80 L 289.0,418.80 L 290.0,418.80 L 291.0,418.80 L 292.0,418.80 L 293.0,418.80 L 294.0,418.80 L 295.0,418.80 L 296.0,418.80 L 297.0,418.80 L 298.0,418.80 L 299.0,418.80 L 300.0,418.80 L 301.0,418.80 L 302.0,418.80 L 303.0,418.80 L 304.0,418.80 L 305,418.8 L 10,418.8 Z" fill="#e2f6e2" fill-opacity="0.85" stroke="none"/>
<path d="M 10.0,418.80 L 11.0,418.80 L 12.0,418.80 L 13.0,418.80 L 14.0,418.80 L 15.0,418.80 L 16.0,418.80 L 17.0,418.80 L 18.0,418.80 L 19.0,418.80 L 20.0,418.80 L 21.0,418.80 L 22.0,418.80 L 23.0,418.80 L 24.0,418.80 L 25.0,418.80 L 26.0,418.80 L 27.0,418.80 L 28.0,418.80 L 29.0,418.80 L 30.0,418.80 L 31.0,418.80 L 32.0,418.80 L 33.0,418.80 L 34.0,418.80 L 35.0,418.80 L 36.0,418.80 L 37.0,418.80 L 38.0,418.80 L 39.0,418.80 L 40.0,418.80 L 41.0,418.80 L 42.0,418.80 L 43.0,418.80 L 44.0,418.80 L 45.0,418.80 L 46.0,418.80 L 47.0,418.80 L 48.0,418.80 L 49.0,418.80 L 50.0,418.80 L 51.0,418.80 L 52.0,418.80 L 53.0,418.80 L 54.0,418.80 L 55.0,418.80 L 56.0,418.80 L 57.0,418.80 L 58.0,418.80 L 59.0,418.80 L 60.0,418.80 L 61.0,418.80 L 62.0,418.80 L 63.0,418.80 L 64.0,418.80 L 65.0,418.80 L 66.0,418.80 L 67.0,418.80 L 68.0,418.80 L 69.0,418.80 L 70.0,418.80 L 71.0,418.80 L 72.0,418.80 L 73.0,418.80 L 74.0,418.80 L 75.0,418.80 L 76.0,418.80 L 77.0,418.80 L 78.0,418.80 L 79.0,418.80 L 80.0,418.80 L 81.0,418.80 L 82.0,418.80 L 83.0,418.80 L 84.0,418.80 L 85.0,418.80 L 86.0,418.80 L 87.0,418.80 L 88.0,418.80 L 89.0,418.80 L 90.0,418.80 L 91.0,418.80 L 92.0,418.80 L 93.0,418.80 L 94.0,418.80 L 95.0,418.80 L 96.0,418.80 L 97.0,418.80 L 98.0,418.80 L 99.0,418.80 L 100.0,418.80 L 101.0,418.80 L 102.0,418.80 L 103.0,418.80 L 104.0,418.80 L 105.0,418.80 L 106.0,418.80 L 107.0,418.80 L 108.0,418.80 L 109.0,418.80 L 110.0,418.80 L 111.0,418.80 L 112.0,418.80 L 113.0,418.80 L 114.0,418.80 L 115.0,418.80 L 116.0,418.80 L 117.0,418.80 L 118.0,418.80 L 119.0,418.80 L 120.0,418.80 L 121.0,418.80 L 122.0,418.80 L 123.0,418.80 L 124.0,418.80 L 125.0,418.80 L 126.0,418.80 L 127.0,418.80 L 128.0,418.80 L 129.0,418.80 L 130.0,418.80 L 131.0,418.80 L 132.0,418.80 L 133.0,418.80 L 134.0,418.80 L 135.0,418.80 L 136.0,418.80 L 137.0,418.80 L 138.0,418.80 L 139.0,418.80 L 140.0,418.80 L 141.0,418.80 L 142.0,418.80 L 143.0,418.80 L 144.0,418.80 L 145.0,418.80 L 146.0,418.80 L 147.0,418.80 L 148.0,418.80 L 149.0,418.80 L 150.0,418.80 L 151.0,418.80 L 152.0,418.80 L 153.0,418.80 L 154.0,418.80 L 155.0,418.80 L 156.0,418.80 L 157.0,418.80 L 158.0,418.80 L 159.0,418.80 L 160.0,418.80 L 161.0,418.80 L 162.0,418.80 L 163.0,418.80 L 164.0,418.80 L 165.0,418.80 L 166.0,418.80 L 167.0,418.80 L 168.0,418.80 L 169.0,418.80 L 170.0,418.80 L 171.0,418.80 L 172.0,418.80 L 173.0,418.80 L 174.0,418.80 L 175.0,418.80 L 176.0,418.80 L 177.0,418.80 L 178.0,418.80 L 179.0,418.80 L 180.0,418.80 L 181.0,418.80 L 182.0,418.80 L 183.0,418.80 L 184.0,418.80 L 185.0,418.80 L 186.0,418.80 L 187.0,418.80 L 188.0,418.80 L 189.0,418.80 L 190.0,418.80 L 191.0,418.80 L 192.0,418.80 L 193.0,418.80 L 194.0,418.80 L 195.0,418.80 L 196.0,418.80 L 197.0,418.80 L 198.0,418.80 L 199.0,418.80 L 200.0,418.80 L 201.0,418.80 L 202.0,418.80 L 203.0,418.80 L 204.0,418.80 L 205.0,418.80 L 206.0,418.80 L 207.0,418.80 L 208.0,418.80 L 209.0,418.80 L 210.0,418.80 L 211.0,418.80 L 212.0,418.80 L 213.0,418.80 L 214.0,418.80 L 215.0,418.80 L 216.0,418.80 L 217.0,418.80 L 218.0,418.80 L 219.0,418.79 L 220.0,418.79 L 221.0,418.78 L 222.0,418.76 L 223.0,418.74 L 224.0,418.70 L 225.0,418.63 L 226.0,418.52 L 227.0,418.35 L 228.0,418.11 L 229.0,417.75 L 230.0,417.25 L 231.0,416.56 L 232.0,415.63 L 233.0,414.42 L 234.0,412.88 L 235.0,410.99 L 236.0,408.72 L 237.0,406.09 L 238.0,403.14 L 239.0,399.94 L 240.0,396.60 L 241.0,393.26 L 242.0,390.09 L 243.0,387.26 L 244.0,384.93 L 245.0,383.26 L 246.0,382.35 L 247.0,382.27 L 248.0,383.01 L 249.0,384.54 L 250.0,386.75 L 251.0,389.49 L 252.0,392.61 L 253.0,395.93 L 254.0,399.28 L 255.0,402.52 L 256.0,405.53 L 257.0,408.22 L 258.0,410.57 L 259.0,412.53 L 260.0,414.14 L 261.0,415.41 L 262.0,416.39 L 263.0,417.13 L 264.0,417.67 L 265.0,418.05 L 266.0,418.31 L 267.0,418.49 L 268.0,418.61 L 269.0,418.68 L 270.0,418.73 L 271.0,418.76 L 272.0,418.78 L 273.0,418.79 L 274.0,418.79 L 275.0,418.80 L 276.0,418.80 L 277.0,418.80 L 278.0,418.80 L 279.0,418.80 L 280.0,418.80 L 281.0,418.80 L 282.0,418.80 L 283.0,418.80 L 284.0,418.80 L 285.0,418.80 L 286.0,418.80 L 287.0,418.80 L 288.0,418.80 L 289.0,418.80 L 290.0,418.80 L 291.0,418.80 L 292.0,418.80 L 293.0,418.80 L 294.0,418.80 L 295.0,418.80 L 296.0,418.80 L 297.0,418.80 L 298.0,418.80 L 299.0,418.80 L 300.0,418.80 L 301.0,418.80 L 302.0,418.80 L 303.0,418.80 L 304.0,418.80" fill="none" stroke="#3ccc3c" stroke-width="1.3"/>
<line x1="27" y1="418.8" x2="298" y2="418.8" stroke="#cc4436" stroke-width="1.6" />
</g>
<rect x="26.6" y="311" width="271.6" height="110.10000000000002" fill="none" stroke="#151515" stroke-width="1.2" />
<text x="39.4" y="321.2" font-size="10.2" text-anchor="middle" fill="#5a78f0" font-family='"Liberation Sans", sans-serif' font-weight="bold" font-style="normal" >C</text>
<text x="72.2" y="321.2" font-size="10.2" text-anchor="middle" fill="#2a2a35" font-family='"Liberation Sans", sans-serif' font-weight="bold" font-style="normal" >G</text>
<text x="107.4" y="321.2" font-size="10.2" text-anchor="middle" fill="#2a2a35" font-family='"Liberation Sans", sans-serif' font-weight="bold" font-style="normal" >G</text>
<text x="140" y="321.2" font-size="10.2" text-anchor="middle" fill="#2a2a35" font-family='"Liberation Sans", sans-serif' font-weight="bold" font-style="normal" >G</text>
<text x="174.6" y="321.2" font-size="10.2" text-anchor="middle" fill="#ff5a5a" font-family='"Liberation Sans", sans-serif' font-weight="bold" font-style="normal" >T</text>
<text x="208" y="321.2" font-size="10.2" text-anchor="middle" fill="#2a2a35" font-family='"Liberation Sans", sans-serif' font-weight="bold" font-style="normal" >G</text>
<text x="245.6" y="321.2" font-size="10.2" text-anchor="middle" fill="#50d850" font-family='"Liberation Sans", sans-serif' font-weight="bold" font-style="normal" >A</text>
<text x="276.4" y="321.2" font-size="10.2" text-anchor="middle" fill="#2a2a35" font-family='"Liberation Sans", sans-serif' font-weight="bold" font-style="normal" >G</text>
<clipPath id="cp424"><rect x="27" y="424.8" width="271" height="110.59999999999997"/></clipPath>
<g clip-path="url(#cp424)">
<rect x="27" y="424.8" width="271" height="110.59999999999997" fill="#fff" stroke="none" stroke-width="1" />
<path d="M 10.0,532.78 L 11.0,532.77 L 12.0,532.75 L 13.0,532.72 L 14.0,532.67 L 15.0,532.58 L 16.0,532.45 L 17.0,532.25 L 18.0,531.95 L 19.0,531.52 L 20.0,530.92 L 21.0,530.08 L 22.0,528.95 L 23.0,527.47 L 24.0,525.57 L 25.0,523.21 L 26.0,520.33 L 27.0,516.92 L 28.0,513.00 L 29.0,508.62 L 30.0,503.90 L 31.0,498.97 L 32.0,494.02 L 33.0,489.27 L 34.0,484.95 L 35.0,481.30 L 36.0,478.53 L 37.0,476.79 L 38.0,476.20 L 39.0,476.79 L 40.0,478.53 L 41.0,481.30 L 42.0,484.95 L 43.0,489.27 L 44.0,494.02 L 45.0,498.97 L 46.0,503.90 L 47.0,508.62 L 48.0,513.00 L 49.0,516.92 L 50.0,520.33 L 51.0,523.21 L 52.0,525.57 L 53.0,527.47 L 54.0,528.95 L 55.0,530.08 L 56.0,530.92 L 57.0,531.52 L 58.0,531.95 L 59.0,532.25 L 60.0,532.45 L 61.0,532.58 L 62.0,532.67 L 63.0,532.72 L 64.0,532.75 L 65.0,532.77 L 66.0,532.78 L 67.0,532.79 L 68.0,532.80 L 69.0,532.80 L 70.0,532.80 L 71.0,532.80 L 72.0,532.80 L 73.0,532.80 L 74.0,532.80 L 75.0,532.80 L 76.0,532.80 L 77.0,532.80 L 78.0,532.80 L 79.0,532.80 L 80.0,532.80 L 81.0,532.80 L 82.0,532.80 L 83.0,532.80 L 84.0,532.80 L 85.0,532.80 L 86.0,532.80 L 87.0,532.80 L 88.0,532.80 L 89.0,532.80 L 90.0,532.80 L 91.0,532.80 L 92.0,532.80 L 93.0,532.80 L 94.0,532.80 L 95.0,532.80 L 96.0,532.80 L 97.0,532.80 L 98.0,532.80 L 99.0,532.80 L 100.0,532.80 L 101.0,532.80 L 102.0,532.80 L 103.0,532.80 L 104.0,532.80 L 105.0,532.80 L 106.0,532.80 L 107.0,532.80 L 108.0,532.80 L 109.0,532.80 L 110.0,532.80 L 111.0,532.80 L 112.0,532.80 L 113.0,532.80 L 114.0,532.80 L 115.0,532.80 L 116.0,532.80 L 117.0,532.80 L 118.0,532.80 L 119.0,532.80 L 120.0,532.80 L 121.0,532.80 L 122.0,532.80 L 123.0,532.80 L 124.0,532.80 L 125.0,532.80 L 126.0,532.80 L 127.0,532.80 L 128.0,532.80 L 129.0,532.80 L 130.0,532.80 L 131.0,532.80 L 132.0,532.80 L 133.0,532.80 L 134.0,532.80 L 135.0,532.80 L 136.0,532.80 L 137.0,532.80 L 138.0,532.80 L 139.0,532.80 L 140.0,532.80 L 141.0,532.80 L 142.0,532.80 L 143.0,532.80 L 144.0,532.80 L 145.0,532.80 L 146.0,532.80 L 147.0,532.80 L 148.0,532.80 L 149.0,532.80 L 150.0,532.80 L 151.0,532.80 L 152.0,532.80 L 153.0,532.80 L 154.0,532.80 L 155.0,532.80 L 156.0,532.80 L 157.0,532.80 L 158.0,532.80 L 159.0,532.80 L 160.0,532.80 L 161.0,532.80 L 162.0,532.80 L 163.0,532.80 L 164.0,532.80 L 165.0,532.80 L 166.0,532.80 L 167.0,532.80 L 168.0,532.80 L 169.0,532.80 L 170.0,532.80 L 171.0,532.80 L 172.0,532.80 L 173.0,532.80 L 174.0,532.80 L 175.0,532.80 L 176.0,532.80 L 177.0,532.80 L 178.0,532.80 L 179.0,532.80 L 180.0,532.80 L 181.0,532.80 L 182.0,532.80 L 183.0,532.80 L 184.0,532.80 L 185.0,532.80 L 186.0,532.80 L 187.0,532.80 L 188.0,532.80 L 189.0,532.80 L 190.0,532.80 L 191.0,532.80 L 192.0,532.80 L 193.0,532.80 L 194.0,532.80 L 195.0,532.80 L 196.0,532.80 L 197.0,532.80 L 198.0,532.80 L 199.0,532.80 L 200.0,532.80 L 201.0,532.80 L 202.0,532.80 L 203.0,532.80 L 204.0,532.80 L 205.0,532.80 L 206.0,532.80 L 207.0,532.80 L 208.0,532.80 L 209.0,532.80 L 210.0,532.80 L 211.0,532.80 L 212.0,532.80 L 213.0,532.80 L 214.0,532.80 L 215.0,532.80 L 216.0,532.80 L 217.0,532.80 L 218.0,532.80 L 219.0,532.80 L 220.0,532.80 L 221.0,532.80 L 222.0,532.80 L 223.0,532.80 L 224.0,532.80 L 225.0,532.80 L 226.0,532.80 L 227.0,532.80 L 228.0,532.80 L 229.0,532.80 L 230.0,532.80 L 231.0,532.80 L 232.0,532.80 L 233.0,532.80 L 234.0,532.80 L 235.0,532.80 L 236.0,532.80 L 237.0,532.80 L 238.0,532.80 L 239.0,532.80 L 240.0,532.80 L 241.0,532.80 L 242.0,532.80 L 243.0,532.80 L 244.0,532.80 L 245.0,532.80 L 246.0,532.80 L 247.0,532.80 L 248.0,532.80 L 249.0,532.80 L 250.0,532.80 L 251.0,532.80 L 252.0,532.80 L 253.0,532.80 L 254.0,532.80 L 255.0,532.80 L 256.0,532.80 L 257.0,532.80 L 258.0,532.80 L 259.0,532.80 L 260.0,532.80 L 261.0,532.80 L 262.0,532.80 L 263.0,532.80 L 264.0,532.80 L 265.0,532.80 L 266.0,532.80 L 267.0,532.80 L 268.0,532.80 L 269.0,532.80 L 270.0,532.80 L 271.0,532.80 L 272.0,532.80 L 273.0,532.80 L 274.0,532.80 L 275.0,532.80 L 276.0,532.80 L 277.0,532.80 L 278.0,532.80 L 279.0,532.80 L 280.0,532.80 L 281.0,532.80 L 282.0,532.80 L 283.0,532.80 L 284.0,532.80 L 285.0,532.80 L 286.0,532.80 L 287.0,532.80 L 288.0,532.80 L 289.0,532.80 L 290.0,532.80 L 291.0,532.80 L 292.0,532.80 L 293.0,532.80 L 294.0,532.80 L 295.0,532.80 L 296.0,532.80 L 297.0,532.80 L 298.0,532.80 L 299.0,532.80 L 300.0,532.80 L 301.0,532.80 L 302.0,532.80 L 303.0,532.80 L 304.0,532.80 L 305,532.8 L 10,532.8 Z" fill="#e2e6f8" fill-opacity="0.85" stroke="none"/>
<path d="M 10.0,532.78 L 11.0,532.77 L 12.0,532.75 L 13.0,532.72 L 14.0,532.67 L 15.0,532.58 L 16.0,532.45 L 17.0,532.25 L 18.0,531.95 L 19.0,531.52 L 20.0,530.92 L 21.0,530.08 L 22.0,528.95 L 23.0,527.47 L 24.0,525.57 L 25.0,523.21 L 26.0,520.33 L 27.0,516.92 L 28.0,513.00 L 29.0,508.62 L 30.0,503.90 L 31.0,498.97 L 32.0,494.02 L 33.0,489.27 L 34.0,484.95 L 35.0,481.30 L 36.0,478.53 L 37.0,476.79 L 38.0,476.20 L 39.0,476.79 L 40.0,478.53 L 41.0,481.30 L 42.0,484.95 L 43.0,489.27 L 44.0,494.02 L 45.0,498.97 L 46.0,503.90 L 47.0,508.62 L 48.0,513.00 L 49.0,516.92 L 50.0,520.33 L 51.0,523.21 L 52.0,525.57 L 53.0,527.47 L 54.0,528.95 L 55.0,530.08 L 56.0,530.92 L 57.0,531.52 L 58.0,531.95 L 59.0,532.25 L 60.0,532.45 L 61.0,532.58 L 62.0,532.67 L 63.0,532.72 L 64.0,532.75 L 65.0,532.77 L 66.0,532.78 L 67.0,532.79 L 68.0,532.80 L 69.0,532.80 L 70.0,532.80 L 71.0,532.80 L 72.0,532.80 L 73.0,532.80 L 74.0,532.80 L 75.0,532.80 L 76.0,532.80 L 77.0,532.80 L 78.0,532.80 L 79.0,532.80 L 80.0,532.80 L 81.0,532.80 L 82.0,532.80 L 83.0,532.80 L 84.0,532.80 L 85.0,532.80 L 86.0,532.80 L 87.0,532.80 L 88.0,532.80 L 89.0,532.80 L 90.0,532.80 L 91.0,532.80 L 92.0,532.80 L 93.0,532.80 L 94.0,532.80 L 95.0,532.80 L 96.0,532.80 L 97.0,532.80 L 98.0,532.80 L 99.0,532.80 L 100.0,532.80 L 101.0,532.80 L 102.0,532.80 L 103.0,532.80 L 104.0,532.80 L 105.0,532.80 L 106.0,532.80 L 107.0,532.80 L 108.0,532.80 L 109.0,532.80 L 110.0,532.80 L 111.0,532.80 L 112.0,532.80 L 113.0,532.80 L 114.0,532.80 L 115.0,532.80 L 116.0,532.80 L 117.0,532.80 L 118.0,532.80 L 119.0,532.80 L 120.0,532.80 L 121.0,532.80 L 122.0,532.80 L 123.0,532.80 L 124.0,532.80 L 125.0,532.80 L 126.0,532.80 L 127.0,532.80 L 128.0,532.80 L 129.0,532.80 L 130.0,532.80 L 131.0,532.80 L 132.0,532.80 L 133.0,532.80 L 134.0,532.80 L 135.0,532.80 L 136.0,532.80 L 137.0,532.80 L 138.0,532.80 L 139.0,532.80 L 140.0,532.80 L 141.0,532.80 L 142.0,532.80 L 143.0,532.80 L 144.0,532.80 L 145.0,532.80 L 146.0,532.80 L 147.0,532.80 L 148.0,532.80 L 149.0,532.80 L 150.0,532.80 L 151.0,532.80 L 152.0,532.80 L 153.0,532.80 L 154.0,532.80 L 155.0,532.80 L 156.0,532.80 L 157.0,532.80 L 158.0,532.80 L 159.0,532.80 L 160.0,532.80 L 161.0,532.80 L 162.0,532.80 L 163.0,532.80 L 164.0,532.80 L 165.0,532.80 L 166.0,532.80 L 167.0,532.80 L 168.0,532.80 L 169.0,532.80 L 170.0,532.80 L 171.0,532.80 L 172.0,532.80 L 173.0,532.80 L 174.0,532.80 L 175.0,532.80 L 176.0,532.80 L 177.0,532.80 L 178.0,532.80 L 179.0,532.80 L 180.0,532.80 L 181.0,532.80 L 182.0,532.80 L 183.0,532.80 L 184.0,532.80 L 185.0,532.80 L 186.0,532.80 L 187.0,532.80 L 188.0,532.80 L 189.0,532.80 L 190.0,532.80 L 191.0,532.80 L 192.0,532.80 L 193.0,532.80 L 194.0,532.80 L 195.0,532.80 L 196.0,532.80 L 197.0,532.80 L 198.0,532.80 L 199.0,532.80 L 200.0,532.80 L 201.0,532.80 L 202.0,532.80 L 203.0,532.80 L 204.0,532.80 L 205.0,532.80 L 206.0,532.80 L 207.0,532.80 L 208.0,532.80 L 209.0,532.80 L 210.0,532.80 L 211.0,532.80 L 212.0,532.80 L 213.0,532.80 L 214.0,532.80 L 215.0,532.80 L 216.0,532.80 L 217.0,532.80 L 218.0,532.80 L 219.0,532.80 L 220.0,532.80 L 221.0,532.80 L 222.0,532.80 L 223.0,532.80 L 224.0,532.80 L 225.0,532.80 L 226.0,532.80 L 227.0,532.80 L 228.0,532.80 L 229.0,532.80 L 230.0,532.80 L 231.0,532.80 L 232.0,532.80 L 233.0,532.80 L 234.0,532.80 L 235.0,532.80 L 236.0,532.80 L 237.0,532.80 L 238.0,532.80 L 239.0,532.80 L 240.0,532.80 L 241.0,532.80 L 242.0,532.80 L 243.0,532.80 L 244.0,532.80 L 245.0,532.80 L 246.0,532.80 L 247.0,532.80 L 248.0,532.80 L 249.0,532.80 L 250.0,532.80 L 251.0,532.80 L 252.0,532.80 L 253.0,532.80 L 254.0,532.80 L 255.0,532.80 L 256.0,532.80 L 257.0,532.80 L 258.0,532.80 L 259.0,532.80 L 260.0,532.80 L 261.0,532.80 L 262.0,532.80 L 263.0,532.80 L 264.0,532.80 L 265.0,532.80 L 266.0,532.80 L 267.0,532.80 L 268.0,532.80 L 269.0,532.80 L 270.0,532.80 L 271.0,532.80 L 272.0,532.80 L 273.0,532.80 L 274.0,532.80 L 275.0,532.80 L 276.0,532.80 L 277.0,532.80 L 278.0,532.80 L 279.0,532.80 L 280.0,532.80 L 281.0,532.80 L 282.0,532.80 L 283.0,532.80 L 284.0,532.80 L 285.0,532.80 L 286.0,532.80 L 287.0,532.80 L 288.0,532.80 L 289.0,532.80 L 290.0,532.80 L 291.0,532.80 L 292.0,532.80 L 293.0,532.80 L 294.0,532.80 L 295.0,532.80 L 296.0,532.80 L 297.0,532.80 L 298.0,532.80 L 299.0,532.80 L 300.0,532.80 L 301.0,532.80 L 302.0,532.80 L 303.0,532.80 L 304.0,532.80" fill="none" stroke="#4a6ee8" stroke-width="1.3"/>
<path d="M 10.0,532.80 L 11.0,532.80 L 12.0,532.80 L 13.0,532.80 L 14.0,532.80 L 15.0,532.80 L 16.0,532.80 L 17.0,532.80 L 18.0,532.80 L 19.0,532.80 L 20.0,532.80 L 21.0,532.80 L 22.0,532.80 L 23.0,532.80 L 24.0,532.80 L 25.0,532.80 L 26.0,532.80 L 27.0,532.80 L 28.0,532.80 L 29.0,532.80 L 30.0,532.80 L 31.0,532.80 L 32.0,532.80 L 33.0,532.80 L 34.0,532.80 L 35.0,532.80 L 36.0,532.80 L 37.0,532.80 L 38.0,532.80 L 39.0,532.80 L 40.0,532.80 L 41.0,532.80 L 42.0,532.80 L 43.0,532.79 L 44.0,532.79 L 45.0,532.77 L 46.0,532.75 L 47.0,532.72 L 48.0,532.67 L 49.0,532.59 L 50.0,532.47 L 51.0,532.28 L 52.0,532.00 L 53.0,531.61 L 54.0,531.04 L 55.0,530.27 L 56.0,529.23 L 57.0,527.86 L 58.0,526.10 L 59.0,523.90 L 60.0,521.22 L 61.0,518.04 L 62.0,514.36 L 63.0,510.23 L 64.0,505.74 L 65.0,501.00 L 66.0,496.19 L 67.0,491.51 L 68.0,487.17 L 69.0,483.39 L 70.0,480.37 L 71.0,478.30 L 72.0,477.29 L 73.0,477.40 L 74.0,478.63 L 75.0,480.91 L 76.0,484.09 L 77.0,488.00 L 78.0,492.42 L 79.0,497.15 L 80.0,501.96 L 81.0,506.65 L 82.0,511.07 L 83.0,515.11 L 84.0,518.67 L 85.0,521.72 L 86.0,524.25 L 87.0,526.28 L 88.0,527.85 L 89.0,528.98 L 90.0,529.72 L 91.0,530.10 L 92.0,530.16 L 93.0,529.90 L 94.0,529.33 L 95.0,528.45 L 96.0,527.26 L 97.0,525.77 L 98.0,523.97 L 99.0,521.91 L 100.0,519.63 L 101.0,517.19 L 102.0,514.68 L 103.0,512.22 L 104.0,509.92 L 105.0,507.91 L 106.0,506.30 L 107.0,505.19 L 108.0,504.65 L 109.0,504.71 L 110.0,505.37 L 111.0,506.59 L 112.0,508.29 L 113.0,510.37 L 114.0,512.71 L 115.0,515.19 L 116.0,517.70 L 117.0,520.13 L 118.0,522.39 L 119.0,524.43 L 120.0,526.22 L 121.0,527.73 L 122.0,528.98 L 123.0,529.99 L 124.0,530.77 L 125.0,531.37 L 126.0,531.81 L 127.0,532.13 L 128.0,532.36 L 129.0,532.51 L 130.0,532.62 L 131.0,532.69 L 132.0,532.73 L 133.0,532.76 L 134.0,532.78 L 135.0,532.79 L 136.0,532.79 L 137.0,532.80 L 138.0,532.80 L 139.0,532.80 L 140.0,532.80 L 141.0,532.80 L 142.0,532.80 L 143.0,532.80 L 144.0,532.80 L 145.0,532.80 L 146.0,532.80 L 147.0,532.80 L 148.0,532.80 L 149.0,532.80 L 150.0,532.80 L 151.0,532.80 L 152.0,532.80 L 153.0,532.80 L 154.0,532.80 L 155.0,532.80 L 156.0,532.80 L 157.0,532.80 L 158.0,532.80 L 159.0,532.80 L 160.0,532.80 L 161.0,532.80 L 162.0,532.80 L 163.0,532.80 L 164.0,532.80 L 165.0,532.80 L 166.0,532.80 L 167.0,532.80 L 168.0,532.80 L 169.0,532.80 L 170.0,532.80 L 171.0,532.80 L 172.0,532.80 L 173.0,532.80 L 174.0,532.80 L 175.0,532.80 L 176.0,532.80 L 177.0,532.80 L 178.0,532.80 L 179.0,532.80 L 180.0,532.79 L 181.0,532.79 L 182.0,532.78 L 183.0,532.77 L 184.0,532.75 L 185.0,532.71 L 186.0,532.65 L 187.0,532.56 L 188.0,532.42 L 189.0,532.21 L 190.0,531.91 L 191.0,531.48 L 192.0,530.89 L 193.0,530.09 L 194.0,529.05 L 195.0,527.71 L 196.0,526.04 L 197.0,524.02 L 198.0,521.64 L 199.0,518.92 L 200.0,515.90 L 201.0,512.67 L 202.0,509.32 L 203.0,506.01 L 204.0,502.89 L 205.0,500.12 L 206.0,497.85 L 207.0,496.23 L 208.0,495.35 L 209.0,495.26 L 210.0,495.99 L 211.0,497.47 L 212.0,499.62 L 213.0,502.30 L 214.0,505.37 L 215.0,508.65 L 216.0,512.00 L 217.0,515.27 L 218.0,518.34 L 219.0,521.12 L 220.0,523.58 L 221.0,525.67 L 222.0,527.41 L 223.0,528.81 L 224.0,529.91 L 225.0,530.75 L 226.0,531.38 L 227.0,531.83 L 228.0,532.16 L 229.0,532.38 L 230.0,532.53 L 231.0,532.63 L 232.0,532.70 L 233.0,532.74 L 234.0,532.76 L 235.0,532.78 L 236.0,532.79 L 237.0,532.79 L 238.0,532.80 L 239.0,532.80 L 240.0,532.80 L 241.0,532.80 L 242.0,532.80 L 243.0,532.80 L 244.0,532.80 L 245.0,532.80 L 246.0,532.80 L 247.0,532.79 L 248.0,532.79 L 249.0,532.78 L 250.0,532.76 L 251.0,532.74 L 252.0,532.69 L 253.0,532.62 L 254.0,532.51 L 255.0,532.34 L 256.0,532.08 L 257.0,531.70 L 258.0,531.15 L 259.0,530.38 L 260.0,529.31 L 261.0,527.88 L 262.0,525.99 L 263.0,523.57 L 264.0,520.54 L 265.0,516.85 L 266.0,512.46 L 267.0,507.40 L 268.0,501.71 L 269.0,495.51 L 270.0,488.99 L 271.0,482.37 L 272.0,475.91 L 273.0,469.93 L 274.0,464.72 L 275.0,460.57 L 276.0,457.72 L 277.0,456.32 L 278.0,456.48 L 279.0,458.18 L 280.0,461.31 L 281.0,465.69 L 282.0,471.08 L 283.0,477.18 L 284.0,483.69 L 285.0,490.31 L 286.0,496.79 L 287.0,502.89 L 288.0,508.46 L 289.0,513.38 L 290.0,517.61 L 291.0,521.13 L 292.0,523.95 L 293.0,526.09 L 294.0,527.59 L 295.0,528.48 L 296.0,528.81 L 297.0,528.65 L 298.0,528.15 L 299.0,527.50 L 300.0,526.91 L 301.0,526.60 L 302.0,526.70 L 303.0,527.23 L 304.0,528.09 L 305,532.8 L 10,532.8 Z" fill="#e0e0e0" fill-opacity="0.85" stroke="none"/>
<path d="M 10.0,532.80 L 11.0,532.80 L 12.0,532.80 L 13.0,532.80 L 14.0,532.80 L 15.0,532.80 L 16.0,532.80 L 17.0,532.80 L 18.0,532.80 L 19.0,532.80 L 20.0,532.80 L 21.0,532.80 L 22.0,532.80 L 23.0,532.80 L 24.0,532.80 L 25.0,532.80 L 26.0,532.80 L 27.0,532.80 L 28.0,532.80 L 29.0,532.80 L 30.0,532.80 L 31.0,532.80 L 32.0,532.80 L 33.0,532.80 L 34.0,532.80 L 35.0,532.80 L 36.0,532.80 L 37.0,532.80 L 38.0,532.80 L 39.0,532.80 L 40.0,532.80 L 41.0,532.80 L 42.0,532.80 L 43.0,532.79 L 44.0,532.79 L 45.0,532.77 L 46.0,532.75 L 47.0,532.72 L 48.0,532.67 L 49.0,532.59 L 50.0,532.47 L 51.0,532.28 L 52.0,532.00 L 53.0,531.61 L 54.0,531.04 L 55.0,530.27 L 56.0,529.23 L 57.0,527.86 L 58.0,526.10 L 59.0,523.90 L 60.0,521.22 L 61.0,518.04 L 62.0,514.36 L 63.0,510.23 L 64.0,505.74 L 65.0,501.00 L 66.0,496.19 L 67.0,491.51 L 68.0,487.17 L 69.0,483.39 L 70.0,480.37 L 71.0,478.30 L 72.0,477.29 L 73.0,477.40 L 74.0,478.63 L 75.0,480.91 L 76.0,484.09 L 77.0,488.00 L 78.0,492.42 L 79.0,497.15 L 80.0,501.96 L 81.0,506.65 L 82.0,511.07 L 83.0,515.11 L 84.0,518.67 L 85.0,521.72 L 86.0,524.25 L 87.0,526.28 L 88.0,527.85 L 89.0,528.98 L 90.0,529.72 L 91.0,530.10 L 92.0,530.16 L 93.0,529.90 L 94.0,529.33 L 95.0,528.45 L 96.0,527.26 L 97.0,525.77 L 98.0,523.97 L 99.0,521.91 L 100.0,519.63 L 101.0,517.19 L 102.0,514.68 L 103.0,512.22 L 104.0,509.92 L 105.0,507.91 L 106.0,506.30 L 107.0,505.19 L 108.0,504.65 L 109.0,504.71 L 110.0,505.37 L 111.0,506.59 L 112.0,508.29 L 113.0,510.37 L 114.0,512.71 L 115.0,515.19 L 116.0,517.70 L 117.0,520.13 L 118.0,522.39 L 119.0,524.43 L 120.0,526.22 L 121.0,527.73 L 122.0,528.98 L 123.0,529.99 L 124.0,530.77 L 125.0,531.37 L 126.0,531.81 L 127.0,532.13 L 128.0,532.36 L 129.0,532.51 L 130.0,532.62 L 131.0,532.69 L 132.0,532.73 L 133.0,532.76 L 134.0,532.78 L 135.0,532.79 L 136.0,532.79 L 137.0,532.80 L 138.0,532.80 L 139.0,532.80 L 140.0,532.80 L 141.0,532.80 L 142.0,532.80 L 143.0,532.80 L 144.0,532.80 L 145.0,532.80 L 146.0,532.80 L 147.0,532.80 L 148.0,532.80 L 149.0,532.80 L 150.0,532.80 L 151.0,532.80 L 152.0,532.80 L 153.0,532.80 L 154.0,532.80 L 155.0,532.80 L 156.0,532.80 L 157.0,532.80 L 158.0,532.80 L 159.0,532.80 L 160.0,532.80 L 161.0,532.80 L 162.0,532.80 L 163.0,532.80 L 164.0,532.80 L 165.0,532.80 L 166.0,532.80 L 167.0,532.80 L 168.0,532.80 L 169.0,532.80 L 170.0,532.80 L 171.0,532.80 L 172.0,532.80 L 173.0,532.80 L 174.0,532.80 L 175.0,532.80 L 176.0,532.80 L 177.0,532.80 L 178.0,532.80 L 179.0,532.80 L 180.0,532.79 L 181.0,532.79 L 182.0,532.78 L 183.0,532.77 L 184.0,532.75 L 185.0,532.71 L 186.0,532.65 L 187.0,532.56 L 188.0,532.42 L 189.0,532.21 L 190.0,531.91 L 191.0,531.48 L 192.0,530.89 L 193.0,530.09 L 194.0,529.05 L 195.0,527.71 L 196.0,526.04 L 197.0,524.02 L 198.0,521.64 L 199.0,518.92 L 200.0,515.90 L 201.0,512.67 L 202.0,509.32 L 203.0,506.01 L 204.0,502.89 L 205.0,500.12 L 206.0,497.85 L 207.0,496.23 L 208.0,495.35 L 209.0,495.26 L 210.0,495.99 L 211.0,497.47 L 212.0,499.62 L 213.0,502.30 L 214.0,505.37 L 215.0,508.65 L 216.0,512.00 L 217.0,515.27 L 218.0,518.34 L 219.0,521.12 L 220.0,523.58 L 221.0,525.67 L 222.0,527.41 L 223.0,528.81 L 224.0,529.91 L 225.0,530.75 L 226.0,531.38 L 227.0,531.83 L 228.0,532.16 L 229.0,532.38 L 230.0,532.53 L 231.0,532.63 L 232.0,532.70 L 233.0,532.74 L 234.0,532.76 L 235.0,532.78 L 236.0,532.79 L 237.0,532.79 L 238.0,532.80 L 239.0,532.80 L 240.0,532.80 L 241.0,532.80 L 242.0,532.80 L 243.0,532.80 L 244.0,532.80 L 245.0,532.80 L 246.0,532.80 L 247.0,532.79 L 248.0,532.79 L 249.0,532.78 L 250.0,532.76 L 251.0,532.74 L 252.0,532.69 L 253.0,532.62 L 254.0,532.51 L 255.0,532.34 L 256.0,532.08 L 257.0,531.70 L 258.0,531.15 L 259.0,530.38 L 260.0,529.31 L 261.0,527.88 L 262.0,525.99 L 263.0,523.57 L 264.0,520.54 L 265.0,516.85 L 266.0,512.46 L 267.0,507.40 L 268.0,501.71 L 269.0,495.51 L 270.0,488.99 L 271.0,482.37 L 272.0,475.91 L 273.0,469.93 L 274.0,464.72 L 275.0,460.57 L 276.0,457.72 L 277.0,456.32 L 278.0,456.48 L 279.0,458.18 L 280.0,461.31 L 281.0,465.69 L 282.0,471.08 L 283.0,477.18 L 284.0,483.69 L 285.0,490.31 L 286.0,496.79 L 287.0,502.89 L 288.0,508.46 L 289.0,513.38 L 290.0,517.61 L 291.0,521.13 L 292.0,523.95 L 293.0,526.09 L 294.0,527.59 L 295.0,528.48 L 296.0,528.81 L 297.0,528.65 L 298.0,528.15 L 299.0,527.50 L 300.0,526.91 L 301.0,526.60 L 302.0,526.70 L 303.0,527.23 L 304.0,528.09" fill="none" stroke="#222" stroke-width="1.3"/>
<path d="M 10.0,532.80 L 11.0,532.80 L 12.0,532.80 L 13.0,532.80 L 14.0,532.80 L 15.0,532.80 L 16.0,532.80 L 17.0,532.80 L 18.0,532.80 L 19.0,532.80 L 20.0,532.80 L 21.0,532.80 L 22.0,532.80 L 23.0,532.80 L 24.0,532.80 L 25.0,532.80 L 26.0,532.80 L 27.0,532.80 L 28.0,532.80 L 29.0,532.80 L 30.0,532.80 L 31.0,532.80 L 32.0,532.80 L 33.0,532.80 L 34.0,532.80 L 35.0,532.80 L 36.0,532.80 L 37.0,532.80 L 38.0,532.80 L 39.0,532.80 L 40.0,532.80 L 41.0,532.80 L 42.0,532.80 L 43.0,532.80 L 44.0,532.80 L 45.0,532.80 L 46.0,532.80 L 47.0,532.80 L 48.0,532.80 L 49.0,532.80 L 50.0,532.80 L 51.0,532.80 L 52.0,532.80 L 53.0,532.80 L 54.0,532.80 L 55.0,532.80 L 56.0,532.80 L 57.0,532.80 L 58.0,532.80 L 59.0,532.80 L 60.0,532.80 L 61.0,532.80 L 62.0,532.80 L 63.0,532.80 L 64.0,532.80 L 65.0,532.80 L 66.0,532.80 L 67.0,532.80 L 68.0,532.80 L 69.0,532.80 L 70.0,532.80 L 71.0,532.80 L 72.0,532.80 L 73.0,532.80 L 74.0,532.80 L 75.0,532.80 L 76.0,532.80 L 77.0,532.80 L 78.0,532.80 L 79.0,532.80 L 80.0,532.80 L 81.0,532.80 L 82.0,532.80 L 83.0,532.80 L 84.0,532.80 L 85.0,532.80 L 86.0,532.80 L 87.0,532.80 L 88.0,532.80 L 89.0,532.80 L 90.0,532.80 L 91.0,532.80 L 92.0,532.80 L 93.0,532.80 L 94.0,532.80 L 95.0,532.80 L 96.0,532.80 L 97.0,532.80 L 98.0,532.80 L 99.0,532.80 L 100.0,532.80 L 101.0,532.80 L 102.0,532.80 L 103.0,532.80 L 104.0,532.80 L 105.0,532.80 L 106.0,532.80 L 107.0,532.80 L 108.0,532.80 L 109.0,532.80 L 110.0,532.80 L 111.0,532.80 L 112.0,532.80 L 113.0,532.80 L 114.0,532.80 L 115.0,532.80 L 116.0,532.80 L 117.0,532.80 L 118.0,532.80 L 119.0,532.80 L 120.0,532.80 L 121.0,532.80 L 122.0,532.80 L 123.0,532.80 L 124.0,532.80 L 125.0,532.80 L 126.0,532.80 L 127.0,532.80 L 128.0,532.80 L 129.0,532.80 L 130.0,532.80 L 131.0,532.80 L 132.0,532.80 L 133.0,532.80 L 134.0,532.80 L 135.0,532.80 L 136.0,532.80 L 137.0,532.80 L 138.0,532.80 L 139.0,532.80 L 140.0,532.80 L 141.0,532.80 L 142.0,532.80 L 143.0,532.80 L 144.0,532.80 L 145.0,532.80 L 146.0,532.79 L 147.0,532.79 L 148.0,532.78 L 149.0,532.76 L 150.0,532.72 L 151.0,532.67 L 152.0,532.59 L 153.0,532.47 L 154.0,532.28 L 155.0,532.01 L 156.0,531.62 L 157.0,531.07 L 158.0,530.34 L 159.0,529.36 L 160.0,528.11 L 161.0,526.56 L 162.0,524.67 L 163.0,522.46 L 164.0,519.93 L 165.0,517.16 L 166.0,514.22 L 167.0,511.23 L 168.0,508.33 L 169.0,505.67 L 170.0,503.40 L 171.0,501.66 L 172.0,500.57 L 173.0,500.20 L 174.0,500.57 L 175.0,501.66 L 176.0,503.40 L 177.0,505.67 L 178.0,508.33 L 179.0,511.23 L 180.0,514.22 L 181.0,517.16 L 182.0,519.93 L 183.0,522.46 L 184.0,524.67 L 185.0,526.56 L 186.0,528.11 L 187.0,529.36 L 188.0,530.34 L 189.0,531.07 L 190.0,531.62 L 191.0,532.01 L 192.0,532.28 L 193.0,532.47 L 194.0,532.59 L 195.0,532.67 L 196.0,532.72 L 197.0,532.76 L 198.0,532.78 L 199.0,532.79 L 200.0,532.79 L 201.0,532.80 L 202.0,532.80 L 203.0,532.80 L 204.0,532.80 L 205.0,532.80 L 206.0,532.80 L 207.0,532.80 L 208.0,532.80 L 209.0,532.80 L 210.0,532.80 L 211.0,532.80 L 212.0,532.80 L 213.0,532.80 L 214.0,532.80 L 215.0,532.80 L 216.0,532.80 L 217.0,532.80 L 218.0,532.80 L 219.0,532.80 L 220.0,532.80 L 221.0,532.80 L 222.0,532.80 L 223.0,532.80 L 224.0,532.80 L 225.0,532.80 L 226.0,532.80 L 227.0,532.80 L 228.0,532.80 L 229.0,532.80 L 230.0,532.80 L 231.0,532.80 L 232.0,532.80 L 233.0,532.80 L 234.0,532.80 L 235.0,532.80 L 236.0,532.80 L 237.0,532.80 L 238.0,532.80 L 239.0,532.80 L 240.0,532.80 L 241.0,532.80 L 242.0,532.80 L 243.0,532.80 L 244.0,532.80 L 245.0,532.80 L 246.0,532.80 L 247.0,532.80 L 248.0,532.80 L 249.0,532.80 L 250.0,532.80 L 251.0,532.80 L 252.0,532.80 L 253.0,532.80 L 254.0,532.80 L 255.0,532.80 L 256.0,532.80 L 257.0,532.80 L 258.0,532.80 L 259.0,532.80 L 260.0,532.80 L 261.0,532.80 L 262.0,532.80 L 263.0,532.80 L 264.0,532.80 L 265.0,532.80 L 266.0,532.80 L 267.0,532.80 L 268.0,532.80 L 269.0,532.80 L 270.0,532.80 L 271.0,532.80 L 272.0,532.80 L 273.0,532.80 L 274.0,532.80 L 275.0,532.80 L 276.0,532.80 L 277.0,532.80 L 278.0,532.80 L 279.0,532.80 L 280.0,532.80 L 281.0,532.80 L 282.0,532.80 L 283.0,532.80 L 284.0,532.80 L 285.0,532.80 L 286.0,532.80 L 287.0,532.80 L 288.0,532.80 L 289.0,532.80 L 290.0,532.80 L 291.0,532.80 L 292.0,532.80 L 293.0,532.80 L 294.0,532.80 L 295.0,532.80 L 296.0,532.80 L 297.0,532.80 L 298.0,532.80 L 299.0,532.80 L 300.0,532.80 L 301.0,532.80 L 302.0,532.80 L 303.0,532.80 L 304.0,532.80 L 305,532.8 L 10,532.8 Z" fill="#fde4e4" fill-opacity="0.85" stroke="none"/>
<path d="M 10.0,532.80 L 11.0,532.80 L 12.0,532.80 L 13.0,532.80 L 14.0,532.80 L 15.0,532.80 L 16.0,532.80 L 17.0,532.80 L 18.0,532.80 L 19.0,532.80 L 20.0,532.80 L 21.0,532.80 L 22.0,532.80 L 23.0,532.80 L 24.0,532.80 L 25.0,532.80 L 26.0,532.80 L 27.0,532.80 L 28.0,532.80 L 29.0,532.80 L 30.0,532.80 L 31.0,532.80 L 32.0,532.80 L 33.0,532.80 L 34.0,532.80 L 35.0,532.80 L 36.0,532.80 L 37.0,532.80 L 38.0,532.80 L 39.0,532.80 L 40.0,532.80 L 41.0,532.80 L 42.0,532.80 L 43.0,532.80 L 44.0,532.80 L 45.0,532.80 L 46.0,532.80 L 47.0,532.80 L 48.0,532.80 L 49.0,532.80 L 50.0,532.80 L 51.0,532.80 L 52.0,532.80 L 53.0,532.80 L 54.0,532.80 L 55.0,532.80 L 56.0,532.80 L 57.0,532.80 L 58.0,532.80 L 59.0,532.80 L 60.0,532.80 L 61.0,532.80 L 62.0,532.80 L 63.0,532.80 L 64.0,532.80 L 65.0,532.80 L 66.0,532.80 L 67.0,532.80 L 68.0,532.80 L 69.0,532.80 L 70.0,532.80 L 71.0,532.80 L 72.0,532.80 L 73.0,532.80 L 74.0,532.80 L 75.0,532.80 L 76.0,532.80 L 77.0,532.80 L 78.0,532.80 L 79.0,532.80 L 80.0,532.80 L 81.0,532.80 L 82.0,532.80 L 83.0,532.80 L 84.0,532.80 L 85.0,532.80 L 86.0,532.80 L 87.0,532.80 L 88.0,532.80 L 89.0,532.80 L 90.0,532.80 L 91.0,532.80 L 92.0,532.80 L 93.0,532.80 L 94.0,532.80 L 95.0,532.80 L 96.0,532.80 L 97.0,532.80 L 98.0,532.80 L 99.0,532.80 L 100.0,532.80 L 101.0,532.80 L 102.0,532.80 L 103.0,532.80 L 104.0,532.80 L 105.0,532.80 L 106.0,532.80 L 107.0,532.80 L 108.0,532.80 L 109.0,532.80 L 110.0,532.80 L 111.0,532.80 L 112.0,532.80 L 113.0,532.80 L 114.0,532.80 L 115.0,532.80 L 116.0,532.80 L 117.0,532.80 L 118.0,532.80 L 119.0,532.80 L 120.0,532.80 L 121.0,532.80 L 122.0,532.80 L 123.0,532.80 L 124.0,532.80 L 125.0,532.80 L 126.0,532.80 L 127.0,532.80 L 128.0,532.80 L 129.0,532.80 L 130.0,532.80 L 131.0,532.80 L 132.0,532.80 L 133.0,532.80 L 134.0,532.80 L 135.0,532.80 L 136.0,532.80 L 137.0,532.80 L 138.0,532.80 L 139.0,532.80 L 140.0,532.80 L 141.0,532.80 L 142.0,532.80 L 143.0,532.80 L 144.0,532.80 L 145.0,532.80 L 146.0,532.79 L 147.0,532.79 L 148.0,532.78 L 149.0,532.76 L 150.0,532.72 L 151.0,532.67 L 152.0,532.59 L 153.0,532.47 L 154.0,532.28 L 155.0,532.01 L 156.0,531.62 L 157.0,531.07 L 158.0,530.34 L 159.0,529.36 L 160.0,528.11 L 161.0,526.56 L 162.0,524.67 L 163.0,522.46 L 164.0,519.93 L 165.0,517.16 L 166.0,514.22 L 167.0,511.23 L 168.0,508.33 L 169.0,505.67 L 170.0,503.40 L 171.0,501.66 L 172.0,500.57 L 173.0,500.20 L 174.0,500.57 L 175.0,501.66 L 176.0,503.40 L 177.0,505.67 L 178.0,508.33 L 179.0,511.23 L 180.0,514.22 L 181.0,517.16 L 182.0,519.93 L 183.0,522.46 L 184.0,524.67 L 185.0,526.56 L 186.0,528.11 L 187.0,529.36 L 188.0,530.34 L 189.0,531.07 L 190.0,531.62 L 191.0,532.01 L 192.0,532.28 L 193.0,532.47 L 194.0,532.59 L 195.0,532.67 L 196.0,532.72 L 197.0,532.76 L 198.0,532.78 L 199.0,532.79 L 200.0,532.79 L 201.0,532.80 L 202.0,532.80 L 203.0,532.80 L 204.0,532.80 L 205.0,532.80 L 206.0,532.80 L 207.0,532.80 L 208.0,532.80 L 209.0,532.80 L 210.0,532.80 L 211.0,532.80 L 212.0,532.80 L 213.0,532.80 L 214.0,532.80 L 215.0,532.80 L 216.0,532.80 L 217.0,532.80 L 218.0,532.80 L 219.0,532.80 L 220.0,532.80 L 221.0,532.80 L 222.0,532.80 L 223.0,532.80 L 224.0,532.80 L 225.0,532.80 L 226.0,532.80 L 227.0,532.80 L 228.0,532.80 L 229.0,532.80 L 230.0,532.80 L 231.0,532.80 L 232.0,532.80 L 233.0,532.80 L 234.0,532.80 L 235.0,532.80 L 236.0,532.80 L 237.0,532.80 L 238.0,532.80 L 239.0,532.80 L 240.0,532.80 L 241.0,532.80 L 242.0,532.80 L 243.0,532.80 L 244.0,532.80 L 245.0,532.80 L 246.0,532.80 L 247.0,532.80 L 248.0,532.80 L 249.0,532.80 L 250.0,532.80 L 251.0,532.80 L 252.0,532.80 L 253.0,532.80 L 254.0,532.80 L 255.0,532.80 L 256.0,532.80 L 257.0,532.80 L 258.0,532.80 L 259.0,532.80 L 260.0,532.80 L 261.0,532.80 L 262.0,532.80 L 263.0,532.80 L 264.0,532.80 L 265.0,532.80 L 266.0,532.80 L 267.0,532.80 L 268.0,532.80 L 269.0,532.80 L 270.0,532.80 L 271.0,532.80 L 272.0,532.80 L 273.0,532.80 L 274.0,532.80 L 275.0,532.80 L 276.0,532.80 L 277.0,532.80 L 278.0,532.80 L 279.0,532.80 L 280.0,532.80 L 281.0,532.80 L 282.0,532.80 L 283.0,532.80 L 284.0,532.80 L 285.0,532.80 L 286.0,532.80 L 287.0,532.80 L 288.0,532.80 L 289.0,532.80 L 290.0,532.80 L 291.0,532.80 L 292.0,532.80 L 293.0,532.80 L 294.0,532.80 L 295.0,532.80 L 296.0,532.80 L 297.0,532.80 L 298.0,532.80 L 299.0,532.80 L 300.0,532.80 L 301.0,532.80 L 302.0,532.80 L 303.0,532.80 L 304.0,532.80" fill="none" stroke="#f04848" stroke-width="1.3"/>
<path d="M 10.0,532.80 L 11.0,532.80 L 12.0,532.80 L 13.0,532.80 L 14.0,532.80 L 15.0,532.80 L 16.0,532.80 L 17.0,532.80 L 18.0,532.80 L 19.0,532.80 L 20.0,532.80 L 21.0,532.80 L 22.0,532.80 L 23.0,532.80 L 24.0,532.80 L 25.0,532.80 L 26.0,532.80 L 27.0,532.80 L 28.0,532.80 L 29.0,532.80 L 30.0,532.80 L 31.0,532.80 L 32.0,532.80 L 33.0,532.80 L 34.0,532.80 L 35.0,532.80 L 36.0,532.80 L 37.0,532.80 L 38.0,532.80 L 39.0,532.80 L 40.0,532.80 L 41.0,532.80 L 42.0,532.80 L 43.0,532.80 L 44.0,532.80 L 45.0,532.80 L 46.0,532.80 L 47.0,532.80 L 48.0,532.80 L 49.0,532.80 L 50.0,532.80 L 51.0,532.80 L 52.0,532.80 L 53.0,532.80 L 54.0,532.80 L 55.0,532.80 L 56.0,532.80 L 57.0,532.80 L 58.0,532.80 L 59.0,532.80 L 60.0,532.80 L 61.0,532.80 L 62.0,532.80 L 63.0,532.80 L 64.0,532.80 L 65.0,532.80 L 66.0,532.80 L 67.0,532.80 L 68.0,532.80 L 69.0,532.80 L 70.0,532.80 L 71.0,532.80 L 72.0,532.80 L 73.0,532.80 L 74.0,532.80 L 75.0,532.80 L 76.0,532.80 L 77.0,532.80 L 78.0,532.80 L 79.0,532.80 L 80.0,532.80 L 81.0,532.80 L 82.0,532.80 L 83.0,532.80 L 84.0,532.80 L 85.0,532.80 L 86.0,532.80 L 87.0,532.80 L 88.0,532.80 L 89.0,532.80 L 90.0,532.80 L 91.0,532.80 L 92.0,532.80 L 93.0,532.80 L 94.0,532.80 L 95.0,532.80 L 96.0,532.80 L 97.0,532.80 L 98.0,532.80 L 99.0,532.80 L 100.0,532.80 L 101.0,532.80 L 102.0,532.80 L 103.0,532.80 L 104.0,532.80 L 105.0,532.80 L 106.0,532.80 L 107.0,532.80 L 108.0,532.80 L 109.0,532.80 L 110.0,532.80 L 111.0,532.80 L 112.0,532.80 L 113.0,532.80 L 114.0,532.80 L 115.0,532.80 L 116.0,532.79 L 117.0,532.79 L 118.0,532.78 L 119.0,532.76 L 120.0,532.73 L 121.0,532.67 L 122.0,532.59 L 123.0,532.46 L 124.0,532.26 L 125.0,531.96 L 126.0,531.53 L 127.0,530.91 L 128.0,530.07 L 129.0,528.94 L 130.0,527.46 L 131.0,525.59 L 132.0,523.28 L 133.0,520.52 L 134.0,517.31 L 135.0,513.72 L 136.0,509.82 L 137.0,505.75 L 138.0,501.68 L 139.0,497.82 L 140.0,494.36 L 141.0,491.53 L 142.0,489.49 L 143.0,488.38 L 144.0,488.28 L 145.0,489.19 L 146.0,491.05 L 147.0,493.74 L 148.0,497.09 L 149.0,500.89 L 150.0,504.93 L 151.0,509.01 L 152.0,512.96 L 153.0,516.62 L 154.0,519.91 L 155.0,522.77 L 156.0,525.16 L 157.0,527.12 L 158.0,528.67 L 159.0,529.87 L 160.0,530.76 L 161.0,531.42 L 162.0,531.88 L 163.0,532.21 L 164.0,532.42 L 165.0,532.57 L 166.0,532.66 L 167.0,532.72 L 168.0,532.75 L 169.0,532.77 L 170.0,532.79 L 171.0,532.79 L 172.0,532.80 L 173.0,532.80 L 174.0,532.80 L 175.0,532.80 L 176.0,532.80 L 177.0,532.80 L 178.0,532.80 L 179.0,532.80 L 180.0,532.80 L 181.0,532.80 L 182.0,532.80 L 183.0,532.80 L 184.0,532.80 L 185.0,532.80 L 186.0,532.80 L 187.0,532.80 L 188.0,532.80 L 189.0,532.80 L 190.0,532.80 L 191.0,532.80 L 192.0,532.80 L 193.0,532.80 L 194.0,532.80 L 195.0,532.80 L 196.0,532.80 L 197.0,532.80 L 198.0,532.80 L 199.0,532.80 L 200.0,532.80 L 201.0,532.80 L 202.0,532.80 L 203.0,532.80 L 204.0,532.80 L 205.0,532.80 L 206.0,532.80 L 207.0,532.80 L 208.0,532.80 L 209.0,532.80 L 210.0,532.80 L 211.0,532.80 L 212.0,532.80 L 213.0,532.80 L 214.0,532.80 L 215.0,532.80 L 216.0,532.79 L 217.0,532.78 L 218.0,532.77 L 219.0,532.75 L 220.0,532.72 L 221.0,532.66 L 222.0,532.56 L 223.0,532.42 L 224.0,532.19 L 225.0,531.86 L 226.0,531.39 L 227.0,530.72 L 228.0,529.80 L 229.0,528.58 L 230.0,526.99 L 231.0,524.99 L 232.0,522.54 L 233.0,519.62 L 234.0,516.26 L 235.0,512.51 L 236.0,508.48 L 237.0,504.30 L 238.0,500.17 L 239.0,496.29 L 240.0,492.87 L 241.0,490.12 L 242.0,488.21 L 243.0,487.28 L 244.0,487.39 L 245.0,488.52 L 246.0,490.60 L 247.0,493.50 L 248.0,497.03 L 249.0,500.98 L 250.0,505.14 L 251.0,509.30 L 252.0,513.29 L 253.0,516.97 L 254.0,520.24 L 255.0,523.07 L 256.0,525.43 L 257.0,527.34 L 258.0,528.85 L 259.0,530.01 L 260.0,530.87 L 261.0,531.50 L 262.0,531.94 L 263.0,532.25 L 264.0,532.45 L 265.0,532.58 L 266.0,532.67 L 267.0,532.72 L 268.0,532.76 L 269.0,532.78 L 270.0,532.79 L 271.0,532.79 L 272.0,532.80 L 273.0,532.80 L 274.0,532.80 L 275.0,532.80 L 276.0,532.80 L 277.0,532.80 L 278.0,532.80 L 279.0,532.80 L 280.0,532.80 L 281.0,532.80 L 282.0,532.80 L 283.0,532.80 L 284.0,532.80 L 285.0,532.80 L 286.0,532.80 L 287.0,532.80 L 288.0,532.80 L 289.0,532.80 L 290.0,532.80 L 291.0,532.80 L 292.0,532.80 L 293.0,532.80 L 294.0,532.80 L 295.0,532.80 L 296.0,532.80 L 297.0,532.80 L 298.0,532.80 L 299.0,532.80 L 300.0,532.80 L 301.0,532.80 L 302.0,532.80 L 303.0,532.80 L 304.0,532.80 L 305,532.8 L 10,532.8 Z" fill="#e2f6e2" fill-opacity="0.85" stroke="none"/>
<path d="M 10.0,532.80 L 11.0,532.80 L 12.0,532.80 L 13.0,532.80 L 14.0,532.80 L 15.0,532.80 L 16.0,532.80 L 17.0,532.80 L 18.0,532.80 L 19.0,532.80 L 20.0,532.80 L 21.0,532.80 L 22.0,532.80 L 23.0,532.80 L 24.0,532.80 L 25.0,532.80 L 26.0,532.80 L 27.0,532.80 L 28.0,532.80 L 29.0,532.80 L 30.0,532.80 L 31.0,532.80 L 32.0,532.80 L 33.0,532.80 L 34.0,532.80 L 35.0,532.80 L 36.0,532.80 L 37.0,532.80 L 38.0,532.80 L 39.0,532.80 L 40.0,532.80 L 41.0,532.80 L 42.0,532.80 L 43.0,532.80 L 44.0,532.80 L 45.0,532.80 L 46.0,532.80 L 47.0,532.80 L 48.0,532.80 L 49.0,532.80 L 50.0,532.80 L 51.0,532.80 L 52.0,532.80 L 53.0,532.80 L 54.0,532.80 L 55.0,532.80 L 56.0,532.80 L 57.0,532.80 L 58.0,532.80 L 59.0,532.80 L 60.0,532.80 L 61.0,532.80 L 62.0,532.80 L 63.0,532.80 L 64.0,532.80 L 65.0,532.80 L 66.0,532.80 L 67.0,532.80 L 68.0,532.80 L 69.0,532.80 L 70.0,532.80 L 71.0,532.80 L 72.0,532.80 L 73.0,532.80 L 74.0,532.80 L 75.0,532.80 L 76.0,532.80 L 77.0,532.80 L 78.0,532.80 L 79.0,532.80 L 80.0,532.80 L 81.0,532.80 L 82.0,532.80 L 83.0,532.80 L 84.0,532.80 L 85.0,532.80 L 86.0,532.80 L 87.0,532.80 L 88.0,532.80 L 89.0,532.80 L 90.0,532.80 L 91.0,532.80 L 92.0,532.80 L 93.0,532.80 L 94.0,532.80 L 95.0,532.80 L 96.0,532.80 L 97.0,532.80 L 98.0,532.80 L 99.0,532.80 L 100.0,532.80 L 101.0,532.80 L 102.0,532.80 L 103.0,532.80 L 104.0,532.80 L 105.0,532.80 L 106.0,532.80 L 107.0,532.80 L 108.0,532.80 L 109.0,532.80 L 110.0,532.80 L 111.0,532.80 L 112.0,532.80 L 113.0,532.80 L 114.0,532.80 L 115.0,532.80 L 116.0,532.79 L 117.0,532.79 L 118.0,532.78 L 119.0,532.76 L 120.0,532.73 L 121.0,532.67 L 122.0,532.59 L 123.0,532.46 L 124.0,532.26 L 125.0,531.96 L 126.0,531.53 L 127.0,530.91 L 128.0,530.07 L 129.0,528.94 L 130.0,527.46 L 131.0,525.59 L 132.0,523.28 L 133.0,520.52 L 134.0,517.31 L 135.0,513.72 L 136.0,509.82 L 137.0,505.75 L 138.0,501.68 L 139.0,497.82 L 140.0,494.36 L 141.0,491.53 L 142.0,489.49 L 143.0,488.38 L 144.0,488.28 L 145.0,489.19 L 146.0,491.05 L 147.0,493.74 L 148.0,497.09 L 149.0,500.89 L 150.0,504.93 L 151.0,509.01 L 152.0,512.96 L 153.0,516.62 L 154.0,519.91 L 155.0,522.77 L 156.0,525.16 L 157.0,527.12 L 158.0,528.67 L 159.0,529.87 L 160.0,530.76 L 161.0,531.42 L 162.0,531.88 L 163.0,532.21 L 164.0,532.42 L 165.0,532.57 L 166.0,532.66 L 167.0,532.72 L 168.0,532.75 L 169.0,532.77 L 170.0,532.79 L 171.0,532.79 L 172.0,532.80 L 173.0,532.80 L 174.0,532.80 L 175.0,532.80 L 176.0,532.80 L 177.0,532.80 L 178.0,532.80 L 179.0,532.80 L 180.0,532.80 L 181.0,532.80 L 182.0,532.80 L 183.0,532.80 L 184.0,532.80 L 185.0,532.80 L 186.0,532.80 L 187.0,532.80 L 188.0,532.80 L 189.0,532.80 L 190.0,532.80 L 191.0,532.80 L 192.0,532.80 L 193.0,532.80 L 194.0,532.80 L 195.0,532.80 L 196.0,532.80 L 197.0,532.80 L 198.0,532.80 L 199.0,532.80 L 200.0,532.80 L 201.0,532.80 L 202.0,532.80 L 203.0,532.80 L 204.0,532.80 L 205.0,532.80 L 206.0,532.80 L 207.0,532.80 L 208.0,532.80 L 209.0,532.80 L 210.0,532.80 L 211.0,532.80 L 212.0,532.80 L 213.0,532.80 L 214.0,532.80 L 215.0,532.80 L 216.0,532.79 L 217.0,532.78 L 218.0,532.77 L 219.0,532.75 L 220.0,532.72 L 221.0,532.66 L 222.0,532.56 L 223.0,532.42 L 224.0,532.19 L 225.0,531.86 L 226.0,531.39 L 227.0,530.72 L 228.0,529.80 L 229.0,528.58 L 230.0,526.99 L 231.0,524.99 L 232.0,522.54 L 233.0,519.62 L 234.0,516.26 L 235.0,512.51 L 236.0,508.48 L 237.0,504.30 L 238.0,500.17 L 239.0,496.29 L 240.0,492.87 L 241.0,490.12 L 242.0,488.21 L 243.0,487.28 L 244.0,487.39 L 245.0,488.52 L 246.0,490.60 L 247.0,493.50 L 248.0,497.03 L 249.0,500.98 L 250.0,505.14 L 251.0,509.30 L 252.0,513.29 L 253.0,516.97 L 254.0,520.24 L 255.0,523.07 L 256.0,525.43 L 257.0,527.34 L 258.0,528.85 L 259.0,530.01 L 260.0,530.87 L 261.0,531.50 L 262.0,531.94 L 263.0,532.25 L 264.0,532.45 L 265.0,532.58 L 266.0,532.67 L 267.0,532.72 L 268.0,532.76 L 269.0,532.78 L 270.0,532.79 L 271.0,532.79 L 272.0,532.80 L 273.0,532.80 L 274.0,532.80 L 275.0,532.80 L 276.0,532.80 L 277.0,532.80 L 278.0,532.80 L 279.0,532.80 L 280.0,532.80 L 281.0,532.80 L 282.0,532.80 L 283.0,532.80 L 284.0,532.80 L 285.0,532.80 L 286.0,532.80 L 287.0,532.80 L 288.0,532.80 L 289.0,532.80 L 290.0,532.80 L 291.0,532.80 L 292.0,532.80 L 293.0,532.80 L 294.0,532.80 L 295.0,532.80 L 296.0,532.80 L 297.0,532.80 L 298.0,532.80 L 299.0,532.80 L 300.0,532.80 L 301.0,532.80 L 302.0,532.80 L 303.0,532.80 L 304.0,532.80" fill="none" stroke="#3ccc3c" stroke-width="1.3"/>
<line x1="27" y1="532.8" x2="298" y2="532.8" stroke="#cc4436" stroke-width="1.6" />
</g>
<rect x="26.6" y="424.8" width="271.6" height="110.59999999999997" fill="none" stroke="#151515" stroke-width="1.2" />
<text x="38.6" y="433.8" font-size="10.2" text-anchor="middle" fill="#5a78f0" font-family='"Liberation Sans", sans-serif' font-weight="bold" font-style="normal" >C</text>
<text x="72.4" y="433.8" font-size="10.2" text-anchor="middle" fill="#2a2a35" font-family='"Liberation Sans", sans-serif' font-weight="bold" font-style="normal" >G</text>
<text x="107.4" y="433.8" font-size="10.2" text-anchor="middle" fill="#2a2a35" font-family='"Liberation Sans", sans-serif' font-weight="bold" font-style="normal" >G</text>
<text x="141" y="433.8" font-size="10.2" text-anchor="middle" fill="#50d850" font-family='"Liberation Sans", sans-serif' font-weight="bold" font-style="normal" >A</text>
<text x="168" y="433.8" font-size="10.2" text-anchor="middle" fill="#ff5a5a" font-family='"Liberation Sans", sans-serif' font-weight="bold" font-style="normal" >T</text>
<text x="206" y="433.8" font-size="10.2" text-anchor="middle" fill="#2a2a35" font-family='"Liberation Sans", sans-serif' font-weight="bold" font-style="normal" >G</text>
<text x="240.6" y="433.8" font-size="10.2" text-anchor="middle" fill="#50d850" font-family='"Liberation Sans", sans-serif' font-weight="bold" font-style="normal" >A</text>
<text x="274" y="433.8" font-size="10.2" text-anchor="middle" fill="#2a2a35" font-family='"Liberation Sans", sans-serif' font-weight="bold" font-style="normal" >G</text>
<text x="1.8" y="366.8" font-size="14.5" text-anchor="start" fill="#111" font-family='"Liberation Serif", serif' font-weight="normal" font-style="normal" >Ref</text>
<text x="0.2" y="482.8" font-size="14.5" text-anchor="start" fill="#111" font-family='"Liberation Serif", serif' font-weight="normal" font-style="normal" >Mut</text>
<line x1="140.1" y1="325" x2="140.1" y2="420" stroke="#555" stroke-width="1.3" stroke-dasharray="4.3,4.2" stroke-dashoffset="-1"/>
<line x1="140.1" y1="439" x2="140.1" y2="535" stroke="#555" stroke-width="1.3" stroke-dasharray="4.3,4.1" stroke-dashoffset="4.4"/>
<text x="4" y="570" font-size="15" text-anchor="start" fill="#000" font-family='"Liberation Serif", serif' font-weight="bold" font-style="normal" >c</text>
<rect x="25" y="556" width="13" height="5.6" fill="#00bd00" stroke="none" stroke-width="1" rx="1.5"/>
<text x="42" y="562.4" font-size="12.2" text-anchor="start" fill="#111" font-family='"Liberation Serif", serif' font-weight="normal" font-style="normal" >Allele frequency (%) G</text>
<rect x="165" y="556" width="14" height="5.6" fill="#ff6000" stroke="none" stroke-width="1" rx="1.5"/>
<text x="187" y="562.4" font-size="12.2" text-anchor="start" fill="#111" font-family='"Liberation Serif", serif' font-weight="normal" font-style="normal" >Allele frequency (%) A</text>
<rect x="26" y="574.4" width="268.6" height="18.9" fill="#ff6000" stroke="none" stroke-width="1" />
<rect x="26" y="574.4" width="58.55480000000001" height="18.9" fill="#00bd00" stroke="none" stroke-width="1" />
<text x="150" y="588.4" font-size="14" text-anchor="start" fill="#111" font-family='"Liberation Serif", serif' font-weight="normal" font-style="normal" >14</text>
<text x="0.5" y="588.4" font-size="14" text-anchor="start" fill="#111" font-family='"Liberation Serif", serif' font-weight="normal" font-style="normal" >TC</text>
<rect x="26" y="599" width="268.6" height="18.9" fill="#ff6000" stroke="none" stroke-width="1" />
<text x="150" y="613.0" font-size="14" text-anchor="start" fill="#111" font-family='"Liberation Serif", serif' font-weight="normal" font-style="normal" >4</text>
<text x="0.5" y="613.0" font-size="14" text-anchor="start" fill="#111" font-family='"Liberation Serif", serif' font-weight="normal" font-style="normal" >SC</text>
<rect x="26" y="623.4" width="268.6" height="18.9" fill="#ff6000" stroke="none" stroke-width="1" />
<rect x="26" y="623.4" width="189.363" height="18.9" fill="#00bd00" stroke="none" stroke-width="1" />
<text x="150" y="637.5" font-size="14" text-anchor="start" fill="#111" font-family='"Liberation Serif", serif' font-weight="normal" font-style="normal" >15</text>
<text x="0.5" y="637.5" font-size="14" text-anchor="start" fill="#111" font-family='"Liberation Serif", serif' font-weight="normal" font-style="normal" >CB</text>
<rect x="26" y="647.6" width="268.6" height="18.9" fill="#ff6000" stroke="none" stroke-width="1" />
<rect x="26" y="647.6" width="250.60380000000004" height="18.9" fill="#00bd00" stroke="none" stroke-width="1" />
<text x="150" y="662.1" font-size="14" text-anchor="start" fill="#111" font-family='"Liberation Serif", serif' font-weight="normal" font-style="normal" >9</text>
<text x="0.5" y="662.1" font-size="14" text-anchor="start" fill="#111" font-family='"Liberation Serif", serif' font-weight="normal" font-style="normal" >JT</text>
<rect x="26" y="672" width="268.6" height="18.9" fill="#ff6000" stroke="none" stroke-width="1" />
<rect x="26" y="672" width="268.6" height="18.9" fill="#00bd00" stroke="none" stroke-width="1" />
<text x="150" y="686.6" font-size="14" text-anchor="start" fill="#111" font-family='"Liberation Serif", serif' font-weight="normal" font-style="normal" >14</text>
<text x="0.5" y="686.6" font-size="14" text-anchor="start" fill="#111" font-family='"Liberation Serif", serif' font-weight="normal" font-style="normal" >MD</text>
<rect x="26" y="696.4" width="268.6" height="18.9" fill="#ff6000" stroke="none" stroke-width="1" />
<rect x="26" y="696.4" width="268.6" height="18.9" fill="#00bd00" stroke="none" stroke-width="1" />
<text x="150" y="711.2" font-size="14" text-anchor="start" fill="#111" font-family='"Liberation Serif", serif' font-weight="normal" font-style="normal" >8</text>
<text x="0.5" y="711.2" font-size="14" text-anchor="start" fill="#111" font-family='"Liberation Serif", serif' font-weight="normal" font-style="normal" >MN</text>
<rect x="26" y="721" width="268.6" height="18.9" fill="#ff6000" stroke="none" stroke-width="1" />
<rect x="26" y="721" width="268.6" height="18.9" fill="#00bd00" stroke="none" stroke-width="1" />
<text x="150" y="735.7" font-size="14" text-anchor="start" fill="#111" font-family='"Liberation Serif", serif' font-weight="normal" font-style="normal" >21</text>
<text x="0.5" y="735.7" font-size="14" text-anchor="start" fill="#111" font-family='"Liberation Serif", serif' font-weight="normal" font-style="normal" >BI</text>
<path d="M295,580 L302.6,580 L302.6,614.6 L295,614.6 M302.6,597.6 L309.6,597.6" fill="none" stroke="#222" stroke-width="0.9"/>
<path d="M295,632.4 L302.6,632.4 L302.6,713 L295,713 M302.6,672.6 L309.6,672.6" fill="none" stroke="#222" stroke-width="0.9"/>
<text x="308.9" y="595" font-size="14.5" text-anchor="start" fill="#111" font-family='"Liberation Serif", serif' font-weight="normal" font-style="normal" >Long</text>
<text x="312.2" y="611.3" font-size="14.5" text-anchor="start" fill="#111" font-family='"Liberation Serif", serif' font-weight="normal" font-style="normal" >hair</text>
<text x="309.5" y="669.4" font-size="14.5" text-anchor="start" fill="#111" font-family='"Liberation Serif", serif' font-weight="normal" font-style="normal" >Short</text>
<text x="313.2" y="687" font-size="14.5" text-anchor="start" fill="#111" font-family='"Liberation Serif", serif' font-weight="normal" font-style="normal" >hair</text>
<line x1="26" y1="746.6" x2="294.6" y2="746.6" stroke="#222" stroke-width="1" />
<line x1="26.0" y1="746.6" x2="26.0" y2="749.6" stroke="#222" stroke-width="0.9" />
<line x1="52.86" y1="746.6" x2="52.86" y2="748.8" stroke="#222" stroke-width="0.9" />
<line x1="79.72" y1="746.6" x2="79.72" y2="749.6" stroke="#222" stroke-width="0.9" />
<line x1="106.58000000000001" y1="746.6" x2="106.58000000000001" y2="748.8" stroke="#222" stroke-width="0.9" />
<line x1="133.44" y1="746.6" x2="133.44" y2="749.6" stroke="#222" stroke-width="0.9" />
<line x1="160.3" y1="746.6" x2="160.3" y2="748.8" stroke="#222" stroke-width="0.9" />
<line x1="187.16000000000003" y1="746.6" x2="187.16000000000003" y2="749.6" stroke="#222" stroke-width="0.9" />
<line x1="214.02000000000004" y1="746.6" x2="214.02000000000004" y2="748.8" stroke="#222" stroke-width="0.9" />
<line x1="240.88000000000002" y1="746.6" x2="240.88000000000002" y2="749.6" stroke="#222" stroke-width="0.9" />
<line x1="267.74" y1="746.6" x2="267.74" y2="748.8" stroke="#222" stroke-width="0.9" />
<line x1="294.6" y1="746.6" x2="294.6" y2="749.6" stroke="#222" stroke-width="0.9" />
<text x="26.0" y="764" font-size="13.5" text-anchor="middle" fill="#111" font-family='"Liberation Serif", serif' font-weight="normal" font-style="normal" >0</text>
<text x="79.7" y="764" font-size="13.5" text-anchor="middle" fill="#111" font-family='"Liberation Serif", serif' font-weight="normal" font-style="normal" >20</text>
<text x="133.4" y="764" font-size="13.5" text-anchor="middle" fill="#111" font-family='"Liberation Serif", serif' font-weight="normal" font-style="normal" >40</text>
<text x="187.2" y="764" font-size="13.5" text-anchor="middle" fill="#111" font-family='"Liberation Serif", serif' font-weight="normal" font-style="normal" >60</text>
<text x="240.9" y="764" font-size="13.5" text-anchor="middle" fill="#111" font-family='"Liberation Serif", serif' font-weight="normal" font-style="normal" >80</text>
<text x="284" y="764" font-size="13.5" text-anchor="start" fill="#111" font-family='"Liberation Serif", serif' font-weight="normal" font-style="normal" >100 (%)</text>
<text x="349.6" y="572" font-size="15" text-anchor="start" fill="#000" font-family='"Liberation Serif", serif' font-weight="bold" font-style="normal" >g</text>
<rect x="384.8" y="555.6" width="12.9" height="10.4" fill="#00bd00" stroke="none" stroke-width="1" rx="1.5"/>
<text x="400.9" y="566" font-size="12.5" font-family='"Liberation Serif", serif' fill="#111">Haplo 1: CAA<tspan fill="#ff0000">AGG</tspan>T</text>
<rect x="517.4" y="555.6" width="12.9" height="10.4" fill="#ff6000" stroke="none" stroke-width="1" rx="1.5"/>
<text x="534.1" y="566" font-size="12.5" font-family='"Liberation Serif", serif' fill="#111">Haplo 2: TGT<tspan fill="#ff0000">GCA</tspan>C</text>
<rect x="385.9" y="576.6" width="246.109" height="18" fill="#00bd00" stroke="none" stroke-width="1" rx="1"/>
<text x="358" y="587.5" font-size="14" text-anchor="start" fill="#111" font-family='"Liberation Serif", serif' font-weight="normal" font-style="normal" >TC</text>
<rect x="385.9" y="600.6" width="133.0675" height="18" fill="#ff6000" stroke="none" stroke-width="1" rx="1"/>
<text x="358" y="612.1" font-size="14" text-anchor="start" fill="#111" font-family='"Liberation Serif", serif' font-weight="normal" font-style="normal" >SC</text>
<rect x="385.9" y="624.4" width="141.76299999999998" height="18" fill="#ff6000" stroke="none" stroke-width="1" rx="1"/>
<text x="358" y="636.7" font-size="14" text-anchor="start" fill="#111" font-family='"Liberation Serif", serif' font-weight="normal" font-style="normal" >CB</text>
<rect x="385.9" y="648.1" width="132.54049999999998" height="18" fill="#ff6000" stroke="none" stroke-width="1" rx="1"/>
<text x="358" y="661.2" font-size="14" text-anchor="start" fill="#111" font-family='"Liberation Serif", serif' font-weight="normal" font-style="normal" >JT</text>
<rect x="385.9" y="672" width="151.5125" height="18" fill="#ff6000" stroke="none" stroke-width="1" rx="1"/>
<text x="358" y="685.8" font-size="14" text-anchor="start" fill="#111" font-family='"Liberation Serif", serif' font-weight="normal" font-style="normal" >MD</text>
<rect x="385.9" y="696" width="231.6165" height="18" fill="#ff6000" stroke="none" stroke-width="1" rx="1"/>
<text x="358" y="710.4" font-size="14" text-anchor="start" fill="#111" font-family='"Liberation Serif", serif' font-weight="normal" font-style="normal" >MN</text>
<rect x="385.9" y="719.7" width="163.897" height="18" fill="#ff6000" stroke="none" stroke-width="1" rx="1"/>
<text x="358" y="735.0" font-size="14" text-anchor="start" fill="#111" font-family='"Liberation Serif", serif' font-weight="normal" font-style="normal" >BI</text>
<line x1="385.9" y1="744.8" x2="649.4" y2="744.8" stroke="#222" stroke-width="1" />
<line x1="385.9" y1="744.8" x2="385.9" y2="748.3" stroke="#222" stroke-width="0.9" />
<line x1="412.25" y1="744.8" x2="412.25" y2="748.3" stroke="#222" stroke-width="0.9" />
<line x1="438.59999999999997" y1="744.8" x2="438.59999999999997" y2="748.3" stroke="#222" stroke-width="0.9" />
<line x1="464.95" y1="744.8" x2="464.95" y2="748.3" stroke="#222" stroke-width="0.9" />
<line x1="491.29999999999995" y1="744.8" x2="491.29999999999995" y2="748.3" stroke="#222" stroke-width="0.9" />
<line x1="517.65" y1="744.8" x2="517.65" y2="748.3" stroke="#222" stroke-width="0.9" />
<line x1="544.0" y1="744.8" x2="544.0" y2="748.3" stroke="#222" stroke-width="0.9" />
<line x1="570.3499999999999" y1="744.8" x2="570.3499999999999" y2="748.3" stroke="#222" stroke-width="0.9" />
<line x1="596.6999999999999" y1="744.8" x2="596.6999999999999" y2="748.3" stroke="#222" stroke-width="0.9" />
<line x1="623.05" y1="744.8" x2="623.05" y2="748.3" stroke="#222" stroke-width="0.9" />
<line x1="649.4" y1="744.8" x2="649.4" y2="748.3" stroke="#222" stroke-width="0.9" />
<text x="385.9" y="761.5" font-size="13.5" text-anchor="middle" fill="#111" font-family='"Liberation Serif", serif' font-weight="normal" font-style="normal" >0</text>
<text x="438.6" y="761.5" font-size="13.5" text-anchor="middle" fill="#111" font-family='"Liberation Serif", serif' font-weight="normal" font-style="normal" >20</text>
<text x="491.3" y="761.5" font-size="13.5" text-anchor="middle" fill="#111" font-family='"Liberation Serif", serif' font-weight="normal" font-style="normal" >40</text>
<text x="544.0" y="761.5" font-size="13.5" text-anchor="middle" fill="#111" font-family='"Liberation Serif", serif' font-weight="normal" font-style="normal" >60</text>
<text x="596.7" y="761.5" font-size="13.5" text-anchor="middle" fill="#111" font-family='"Liberation Serif", serif' font-weight="normal" font-style="normal" >80</text>
<text x="639" y="761.5" font-size="13.5" text-anchor="start" fill="#111" font-family='"Liberation Serif", serif' font-weight="normal" font-style="normal" >100 (%)</text>
<text x="4" y="802" font-size="15" text-anchor="start" fill="#000" font-family='"Liberation Serif", serif' font-weight="bold" font-style="normal" >d</text>
<text x="104.7" y="795.5" font-size="14.4" text-anchor="start" fill="#111" font-family='"Liberation Serif", serif' font-weight="normal" font-style="normal" >SNP: c.-253G&gt;A</text>
<line x1="306.4" y1="803.6" x2="75.16799999999999" y2="803.6" stroke="#000" stroke-width="1.75" />
<polygon points="65.1,803.6 77.8,798.1 75.8,803.6 77.8,809.1" fill="#000"/>
<line x1="373" y1="803.8" x2="625.92" y2="803.8" stroke="#000" stroke-width="1.75" />
<polygon points="635.4,803.8 623.4,809.1 625.3,803.8 623.4,798.5" fill="#000"/>
<text x="340.7" y="807.8" font-size="20" text-anchor="middle" fill="#111" font-family='"Liberation Serif", serif' font-weight="normal" font-style="normal" >exon 1</text>
<line x1="65" y1="813" x2="634.5" y2="813" stroke="#000" stroke-width="1.9" />
<line x1="63.2" y1="836.4" x2="632.9" y2="836.4" stroke="#000" stroke-width="1.9" />
<line x1="144" y1="797.6" x2="144" y2="818.6" stroke="#000" stroke-width="1.2" stroke-dasharray="1.3,1.3"/>
<text x="138.3" y="830" font-size="15" font-family='"Liberation Serif", serif' fill="#111"><tspan fill="#ff0000">A</tspan>TG</text>
<line x1="144" y1="831.7" x2="144" y2="836" stroke="#000" stroke-width="1" />
<text x="138.3" y="853.5" font-size="15" font-family='"Liberation Serif", serif' fill="#111"><tspan fill="#ff0000">G</tspan>TG</text>
<text x="17" y="830" font-size="14.6" text-anchor="start" fill="#111" font-family='"Liberation Serif", serif' font-weight="normal" font-style="italic" >FGF5</text>
<line x1="475.9" y1="825.5" x2="421.71999999999997" y2="825.5" stroke="#000" stroke-width="1.75" />
<polygon points="412.0,825.5 424.9,820.0 422.3,825.5 424.9,831.0" fill="#000"/>
<text x="507.1" y="831.8" font-size="15.5" text-anchor="middle" fill="#111" font-family='"Liberation Serif", serif' font-weight="normal" font-style="normal" >5’UTR</text>
<rect x="534.3" y="813.8" width="4.6" height="22.1" fill="#000" stroke="none" stroke-width="1" />
<text x="558.6" y="832" font-size="15.5" text-anchor="middle" fill="#111" font-family='"Liberation Serif", serif' font-weight="normal" font-style="normal" >CDS</text>
<line x1="579.2" y1="827.1" x2="623.3399999999999" y2="827.1" stroke="#000" stroke-width="1.75" />
<polygon points="632.9,827.1 620.2,832.5 622.7,827.1 620.2,821.7" fill="#000"/>
<text x="538.3" y="851.2" font-size="15.5" text-anchor="middle" fill="#111" font-family='"Liberation Serif", serif' font-weight="normal" font-style="normal" >ATG</text>
<text x="94.2" y="875" font-size="15" text-anchor="start" fill="#111" font-family='"Liberation Serif", serif' font-weight="normal" font-style="normal" >Mut:</text>
<rect x="139.7" y="859.9" width="176.1" height="21" fill="#9dd9a3" stroke="none" stroke-width="1" />
<text x="139.9" y="874.9" font-size="15.1" text-anchor="start" fill="#1d6a2c" font-family='"Liberation Serif", serif' font-weight="normal" font-style="normal" >MRGSFAGVHGAVRSLAL</text>
<text x="316" y="874.9" font-size="15" text-anchor="start" fill="#111" font-family='"Liberation Serif", serif' font-weight="normal" font-style="normal" >*ISQC...ARCT*DPRG...</text>
<text x="489.5" y="874.4" font-size="15" text-anchor="start" fill="#111" font-family='"Liberation Serif", serif' font-weight="normal" font-style="normal" >Ref :</text>
<rect x="529" y="858.3" width="98.2" height="22" fill="#fac68a" stroke="none" stroke-width="1" />
<text x="530.3" y="874.6" font-size="15.4" text-anchor="start" fill="#6b4a1a" font-family='"Liberation Serif", serif' font-weight="normal" font-style="normal" >MSLSFLLLLF</text>
</svg>
</body></html>
